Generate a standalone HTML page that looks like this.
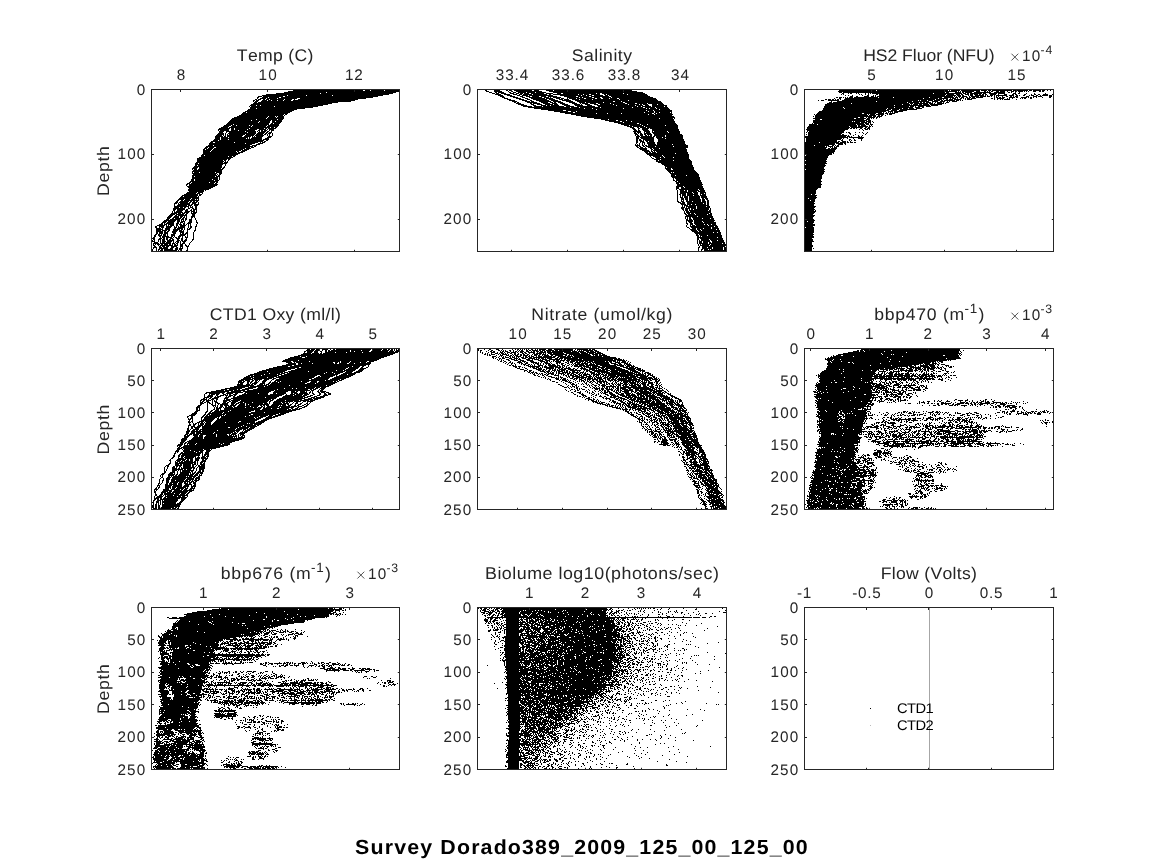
<!DOCTYPE html>
<html lang="en"><head><meta charset="utf-8"><title>Survey Dorado389_2009_125_00_125_00</title>
<style>
html,body{margin:0;padding:0;background:#fff;}
body{width:1164px;height:864px;overflow:hidden;font-family:"Liberation Sans",sans-serif;}
svg{display:block;position:absolute;left:0;top:0;will-change:transform;}
text{font-kerning:none;text-rendering:geometricPrecision;white-space:pre;}
</style></head><body>
<svg width="1164" height="864" viewBox="0 0 1164 864" font-family="'Liberation Sans', sans-serif">
<rect width="1164" height="864" fill="#fff"/>
<g id="p1">
<path transform="translate(0,.5)" d="M298 89h37m2 0h21m1 0h6m3 0h17m2 0h11m1 0h1M293 90h70m2 0h5m1 0h13m1 0h15M288 91h112M284 92h42m1 0h69M276 93h44m1 0h72M266 94h123M262 95h25m1 0h18m1 0h25m1 0h50M258 96h4m1 0h20m2 0h93M257 97h2m3 0h6m1 0h10m2 0h92M257 98h1m2 0h6m1 0h10m1 0h19m3 0h66M255 99h2m1 0h3m2 0h2m1 0h3m1 0h14m1 0h7m2 0h1m3 0h60M253 100h2m1 0h3m3 0h5m1 0h3m1 0h5m1 0h5m1 0h7m2 0h62M253 101h1m1 0h3m3 0h90M254 102h3m1 0h80M253 103h79M251 104h77M250 105h6m1 0h3m1 0h62M249 106h1m1 0h23m1 0h43M250 107h63M250 108h6m1 0h48M248 109h49M247 110h47M245 111h47M243 112h3m1 0h43M242 113h46M241 114h43m1 0h2M239 115h44m1 0h1M237 116h31m1 0h6m1 0h1m1 0h6M234 117h33m1 0h8m1 0h7M232 118h34m1 0h17M231 119h25m1 0h20m1 0h5M230 120h21m1 0h19m1 0h10M229 121h30m1 0h10m2 0h3m1 0h6M228 122h30m1 0h11m2 0h9M227 123h42m2 0h2m1 0h6M226 124h7m1 0h35m1 0h9M224 125h7m1 0h4m1 0h12m1 0h2m1 0h14m1 0h11M223 126h6m2 0h20m1 0h14m1 0h11M221 127h7m1 0h41m1 0h3m1 0h2M219 128h11m1 0h3m1 0h14m1 0h14m1 0h2m1 0h8M218 129h11m2 0h3m1 0h12m1 0h9m2 0h7m1 0h1m1 0h5M218 130h1m1 0h9m2 0h7m1 0h16m3 0h2m1 0h2m1 0h3m2 0h1m1 0h3M219 131h5m2 0h19m1 0h10m1 0h1m1 0h1m1 0h5m1 0h2m2 0h1M219 132h4m3 0h1m2 0h18m1 0h8m2 0h7m1 0h2m1 0h3M218 133h6m1 0h1m2 0h28m1 0h7m1 0h2m1 0h3m1 0h1M217 134h7m1 0h1m1 0h1m1 0h16m1 0h9m1 0h7m1 0h2m1 0h1m1 0h1m2 0h1M216 135h6m1 0h1m1 0h1m1 0h16m2 0h9m1 0h9m3 0h1m1 0h1m2 0h1M215 136h8m1 0h2m1 0h15m2 0h7m1 0h1m1 0h1m1 0h7m5 0h4M215 137h5m1 0h7m1 0h19m1 0h1m2 0h10m5 0h4M215 138h5m1 0h25m1 0h1m1 0h1m1 0h11m3 0h4M214 139h6m1 0h7m1 0h33m1 0h6M213 140h5m1 0h45m2 0h2M211 141h52m1 0h2M210 142h3m2 0h19m1 0h23m2 0h1m1 0h3M209 143h36m1 0h9m3 0h5M209 144h43m4 0h4M208 145h5m1 0h36m2 0h5M206 146h47m1 0h2M205 147h3m1 0h5m2 0h34m1 0h3M204 148h3m1 0h5m1 0h31m1 0h5M203 149h2m1 0h6m1 0h30m1 0h5M203 150h8m1 0h29m1 0h5M203 151h7m1 0h25m1 0h2m2 0h4M203 152h34m1 0h5M203 153h37M202 154h36M201 155h3m1 0h31M201 156h27m1 0h3m1 0h2M199 157h34M197 158h34M197 159h30m1 0h2M197 160h26m1 0h2m2 0h1M197 161h27m1 0h1m1 0h1M196 162h27m1 0h4M195 163h3m1 0h28M195 164h28m2 0h1M195 165h2m1 0h24m3 0h1M194 166h28m2 0h1M193 167h5m1 0h23m1 0h2M192 168h5m2 0h22m1 0h2M192 169h1m1 0h3m1 0h25M193 170h29M192 171h30M192 172h1m1 0h5m1 0h15m1 0h6M192 173h25m2 0h3M193 174h23m1 0h1m1 0h2M192 175h25m1 0h2M192 176h2m1 0h20m1 0h4M192 177h26m1 0h1M192 178h26m1 0h1M191 179h3m1 0h17m1 0h5m1 0h1M191 180h3m1 0h19m1 0h4M190 181h28M189 182h2m1 0h17m1 0h5m1 0h2M187 183h3m1 0h23m1 0h2M186 184h2m1 0h29M186 185h1m2 0h28M187 186h28M188 187h25M189 188h22M188 189h21M188 190h16m1 0h1M189 191h15M187 192h10m1 0h5M186 193h10m1 0h3m2 0h1M184 194h14m1 0h3M182 195h16m1 0h2M181 196h2m1 0h13m1 0h1M180 197h19M179 198h12m1 0h7M178 199h6m1 0h5m1 0h4m1 0h1m1 0h1M177 200h2m2 0h2m1 0h15M176 201h2m2 0h9m1 0h2m1 0h2m1 0h2M175 202h3m1 0h9m1 0h2m1 0h5m1 0h1M174 203h3m1 0h1m1 0h10m2 0h4m2 0h1M174 204h1m3 0h12m1 0h2m1 0h5M174 205h1m2 0h10m1 0h4m2 0h4M174 206h15m1 0h1m1 0h1m2 0h2M174 207h5m1 0h3m1 0h2m2 0h1m1 0h3m2 0h2M173 208h12m3 0h2m2 0h2m1 0h2M173 209h3m1 0h8m1 0h2m3 0h1m1 0h4M173 210h2m2 0h6m2 0h3m2 0h2m1 0h2m1 0h1M172 211h1m1 0h1m1 0h6m3 0h5m1 0h4m1 0h1M172 212h1m1 0h9m1 0h5m2 0h1m1 0h4M171 213h6m1 0h3m1 0h3m1 0h2m3 0h5M170 214h5m1 0h8m1 0h2m5 0h3M169 215h4m2 0h2m1 0h9m5 0h3M168 216h4m2 0h5m1 0h3m1 0h1m1 0h1m4 0h4M167 217h4m2 0h6m1 0h2m1 0h2m1 0h1m4 0h2m1 0h1M167 218h3m2 0h2m1 0h6m1 0h2m1 0h2m4 0h1m3 0h1M166 219h3m1 0h10m1 0h3m1 0h2m2 0h3m3 0h1M164 220h12m1 0h3m1 0h1m1 0h1m1 0h1m3 0h3m4 0h1M163 221h4m1 0h7m2 0h3m1 0h4m4 0h3m4 0h1M162 222h4m1 0h7m3 0h2m1 0h3m1 0h1m3 0h4m4 0h2M161 223h2m1 0h1m1 0h8m2 0h3m1 0h1m2 0h2m2 0h4m6 0h1M159 224h4m1 0h3m1 0h6m2 0h2m1 0h3m1 0h2m1 0h1m1 0h1m1 0h1m5 0h1M157 225h8m1 0h1m1 0h1m1 0h4m2 0h2m2 0h6m2 0h1m1 0h1m5 0h1M155 226h2m2 0h5m2 0h6m2 0h1m1 0h1m1 0h1m1 0h5m3 0h1m1 0h2m3 0h2M155 227h2m2 0h1m1 0h3m2 0h5m3 0h3m1 0h7m3 0h1m1 0h2m3 0h1M156 228h5m1 0h1m2 0h5m4 0h2m1 0h6m1 0h1m2 0h1m1 0h2m4 0h1M156 229h7m2 0h5m3 0h7m1 0h2m1 0h1m2 0h3m5 0h1M156 230h5m1 0h5m1 0h2m3 0h5m1 0h3m1 0h1m3 0h1m6 0h2M156 231h7m1 0h2m1 0h2m3 0h5m2 0h5m3 0h1m6 0h1M156 232h2m1 0h4m1 0h4m4 0h4m4 0h4m2 0h2m5 0h1M156 233h2m1 0h4m1 0h4m5 0h3m4 0h1m1 0h2m1 0h3m5 0h1M155 234h2m1 0h2m1 0h1m1 0h3m1 0h1m3 0h4m5 0h6m1 0h1m5 0h1M154 235h2m2 0h4m1 0h3m1 0h1m3 0h4m4 0h6m2 0h1m5 0h1M154 236h2m3 0h2m1 0h7m2 0h2m1 0h1m3 0h3m1 0h1m2 0h1m1 0h1m5 0h1M153 237h2m5 0h1m1 0h3m1 0h6m1 0h1m1 0h2m1 0h2m2 0h1m2 0h3m5 0h1M152 238h3m4 0h3m1 0h2m1 0h2m2 0h3m3 0h4m1 0h2m3 0h1m6 0h1M151 239h1m1 0h2m3 0h3m1 0h3m1 0h2m1 0h2m1 0h2m3 0h2m2 0h2m2 0h2m5 0h2M151 240h2m1 0h1m3 0h1m1 0h1m1 0h3m2 0h7m3 0h3m1 0h2m1 0h3m5 0h1M152 241h3m3 0h1m1 0h1m1 0h4m1 0h5m1 0h1m2 0h3m1 0h1m1 0h4m5 0h1M154 242h4m2 0h1m1 0h3m1 0h5m2 0h1m1 0h1m1 0h2m1 0h1m2 0h2m5 0h1M153 243h6m1 0h11m1 0h3m1 0h2m2 0h1m1 0h3m4 0h1M153 244h1m1 0h1m1 0h3m1 0h2m1 0h4m1 0h2m1 0h1m1 0h2m1 0h1m2 0h3m2 0h1m3 0h1M153 245h2m3 0h1m1 0h13m1 0h4m2 0h3m2 0h2m1 0h1M154 246h2m3 0h2m1 0h3m1 0h3m2 0h6m3 0h3m3 0h3M153 247h4m2 0h3m1 0h5m3 0h3m2 0h2m2 0h1m1 0h1m4 0h1M153 248h1m2 0h1m2 0h9m2 0h3m2 0h3m1 0h4m4 0h1M152 249h1m3 0h1m1 0h2m1 0h2m1 0h9m2 0h3m1 0h3m5 0h1M152 250h1m3 0h1m1 0h1m1 0h3m1 0h13m1 0h1m1 0h2m4 0h2M152 251h1m3 0h2m2 0h3m1 0h5m1 0h6m2 0h1m1 0h2m4 0h2" stroke="#000" stroke-width="1" fill="none" shape-rendering="crispEdges"/>
<rect x="151.5" y="89.5" width="248" height="162" fill="none" stroke="#262626" stroke-width="1"/>
<path d="M180.5 90v2M180.5 251v-1.2M267.5 90v2M267.5 251v-1.2M354.5 90v2M354.5 251v-1.2M152 154.5h2M399 154.5h-1.2M152 219.5h2M399 219.5h-1.2" stroke="#262626" stroke-width="1" fill="none"/>
<text transform="translate(136.68 95.00)" font-size="15.27" fill="#262626">0</text>
<text transform="translate(117.55 159.00)" font-size="15.27" fill="#262626" letter-spacing="1.134">100</text>
<text transform="translate(117.40 224.00)" font-size="15.27" fill="#262626" letter-spacing="1.211">200</text>
<text transform="translate(176.75 80.00)" font-size="15.27" fill="#262626">8</text>
<text transform="translate(258.44 80.00)" font-size="15.27" fill="#262626" letter-spacing="1.218">10</text>
<text transform="translate(344.94 80.00)" font-size="15.27" fill="#262626" letter-spacing="0.884">12</text>
<text transform="translate(236.85 61.00) scale(1.05 1)" font-size="16.80" fill="#262626" letter-spacing="0.282">Temp (C)</text>
<text transform="rotate(-90 109.30 196.13) translate(109.47 196.13) scale(1.05 1)" font-size="16.80" fill="#262626" letter-spacing="0.658">Depth</text>
</g>
<g id="p2">
<path transform="translate(0,.5)" d="M485 89h1m8 0h4m7 0h1m3 0h1m4 0h1m3 0h7m1 0h2m5 0h2m1 0h3m6 0h4m5 0h2m1 0h4m1 0h7m2 0h2m2 0h2m1 0h1m1 0h3m2 0h8m1 0h3m1 0h10m3 0h8m2 0h7M485 90h2m7 0h6m6 0h2m1 0h2m3 0h18m2 0h5m7 0h7m1 0h78M486 91h3m5 0h8m6 0h1m2 0h2m3 0h26m7 0h88M489 92h3m3 0h2m1 0h6m5 0h2m2 0h3m2 0h8m1 0h8m1 0h10m7 0h90M492 93h3m1 0h3m2 0h5m4 0h4m2 0h3m1 0h3m1 0h5m2 0h13m2 0h7m4 0h4m2 0h33m1 0h3m2 0h21m1 0h21M495 94h6m3 0h6m3 0h4m2 0h3m1 0h9m1 0h14m2 0h2m2 0h25m1 0h4m1 0h5m2 0h9m4 0h2m1 0h20m1 0h19M498 95h5m4 0h5m5 0h3m2 0h6m1 0h24m7 0h21m1 0h4m1 0h5m2 0h9m2 0h3m1 0h39M500 96h4m6 0h5m5 0h3m3 0h4m2 0h7m2 0h5m2 0h9m7 0h12m2 0h11m2 0h18m2 0h39M502 97h3m8 0h5m4 0h3m4 0h13m2 0h5m1 0h1m2 0h8m6 0h12m1 0h2m1 0h9m2 0h6m2 0h9m1 0h41M504 98h4m8 0h5m4 0h3m3 0h14m1 0h7m3 0h4m1 0h3m3 0h1m1 0h7m1 0h7m2 0h9m2 0h4m2 0h6m1 0h7m2 0h37M507 99h4m8 0h5m3 0h3m3 0h14m2 0h6m4 0h4m1 0h5m3 0h7m1 0h12m1 0h26m1 0h37M509 100h6m7 0h5m3 0h2m4 0h13m2 0h7m4 0h9m4 0h53m1 0h29M512 101h5m8 0h5m1 0h3m5 0h12m2 0h8m5 0h7m4 0h36m2 0h6m1 0h39M514 102h2m1 0h2m8 0h10m4 0h7m2 0h3m1 0h2m2 0h5m6 0h6m4 0h6m1 0h17m1 0h19m2 0h37M516 103h5m9 0h2m1 0h7m3 0h7m2 0h5m3 0h5m7 0h5m3 0h1m1 0h6m2 0h6m2 0h12m1 0h14m2 0h8m2 0h10m1 0h15M518 104h6m7 0h3m3 0h5m3 0h8m1 0h4m4 0h6m6 0h6m1 0h1m3 0h5m4 0h4m2 0h13m1 0h14m1 0h10m1 0h2m1 0h5m4 0h5m1 0h6M521 105h6m6 0h3m5 0h5m1 0h3m1 0h8m5 0h6m5 0h8m4 0h5m5 0h19m1 0h18m1 0h7m2 0h4m3 0h15M523 106h9m2 0h8m1 0h21m2 0h8m3 0h18m3 0h39m1 0h3m1 0h9m1 0h12m1 0h2M528 107h42m1 0h8m1 0h20m1 0h31m1 0h10m2 0h10m1 0h12M534 108h50m1 0h7m1 0h30m1 0h22m1 0h2m1 0h6m1 0h12M541 109h55m1 0h62m1 0h10M548 110h15m3 0h80m1 0h6m1 0h18M554 111h14m3 0h5m1 0h71m1 0h5m1 0h17M560 112h13m2 0h69m1 0h9m1 0h4m1 0h10m1 0h1M565 113h31m1 0h10m1 0h13m1 0h30m2 0h2m1 0h15M571 114h77m1 0h5m1 0h18M576 115h96M581 116h93M587 117h88M594 118h65m1 0h13m1 0h1M601 119h7m1 0h65M605 120h11m2 0h8m1 0h47M609 121h11m2 0h9m1 0h43M614 122h9m1 0h51M618 123h19m2 0h37M621 124h19m1 0h6m1 0h29M624 125h5m1 0h12m1 0h22m1 0h12M627 126h5m1 0h11m1 0h33M630 127h4m3 0h2m1 0h6m1 0h31M632 128h3m3 0h2m2 0h7m1 0h28M633 129h3m2 0h1m3 0h6m4 0h27M634 130h3m1 0h2m3 0h6m3 0h27M633 131h8m3 0h6m2 0h1m1 0h13m1 0h12M634 132h2m1 0h4m3 0h1m1 0h4m2 0h16m1 0h11M634 133h3m1 0h1m1 0h2m2 0h7m2 0h27M635 134h3m2 0h3m1 0h2m1 0h5m2 0h28M635 135h1m1 0h2m1 0h3m2 0h2m1 0h1m1 0h2m2 0h11m1 0h17M636 136h4m1 0h11m1 0h2m1 0h9m1 0h17M636 137h3m1 0h14m2 0h6m1 0h20M636 138h3m2 0h13m3 0h8m1 0h17M636 139h2m1 0h2m2 0h11m4 0h26M636 140h2m1 0h3m1 0h1m1 0h9m4 0h26M636 141h2m2 0h4m2 0h2m1 0h5m4 0h27M636 142h2m2 0h1m1 0h3m2 0h8m2 0h28M636 143h1m2 0h1m2 0h1m1 0h1m2 0h8m2 0h28M635 144h1m1 0h1m1 0h1m2 0h1m1 0h1m3 0h8m1 0h15m1 0h13M635 145h5m2 0h2m1 0h2m1 0h40M636 146h2m1 0h2m2 0h2m1 0h9m1 0h17m1 0h14M637 147h2m1 0h3m2 0h1m2 0h40M639 148h8m3 0h2m1 0h6m1 0h26M640 149h7m4 0h2m1 0h33M642 150h7m2 0h1m1 0h34M644 151h6m1 0h2m1 0h1m1 0h31M645 152h3m1 0h2m1 0h4m1 0h31M646 153h29m1 0h12M647 154h42M649 155h13m1 0h26M650 156h1m2 0h10m1 0h25M651 157h1m3 0h5m1 0h3m1 0h8m1 0h15M652 158h2m2 0h33M654 159h6m1 0h29M656 160h2m1 0h14m1 0h17M656 161h36M658 162h34M661 163h31M662 164h30M664 165h29M665 166h28M665 167h1m1 0h27M665 168h6m1 0h22M666 169h5m2 0h21M667 170h28M668 171h28M669 172h2m1 0h1m1 0h23M670 173h28M671 174h28M671 175h4m1 0h10m1 0h12M671 176h28M672 177h28M673 178h1m1 0h25M673 179h1m2 0h24M673 180h2m1 0h25M675 181h2m1 0h23M676 182h26M676 183h3m1 0h22M677 184h26M677 185h25M676 186h7m1 0h19M676 187h3m2 0h3m1 0h18M676 188h3m2 0h23M676 189h1m2 0h19m1 0h5M677 190h1m2 0h4m1 0h2m1 0h11m1 0h5M677 191h1m2 0h7m1 0h9m1 0h7M677 192h1m2 0h12m1 0h5m2 0h6M677 193h1m2 0h6m1 0h6m1 0h4m2 0h4m1 0h1M677 194h1m1 0h2m1 0h4m1 0h11m2 0h1m1 0h4M677 195h1m2 0h1m1 0h4m1 0h6m1 0h5m1 0h6M677 196h1m2 0h1m1 0h1m1 0h4m1 0h11m1 0h6M677 197h1m2 0h3m1 0h4m1 0h11m1 0h6M677 198h1m3 0h3m1 0h3m1 0h11m2 0h2m1 0h3M677 199h1m3 0h3m1 0h3m1 0h12m1 0h3m1 0h2M677 200h1m3 0h1m1 0h1m2 0h2m1 0h12m1 0h3m2 0h2M677 201h2m2 0h3m2 0h6m1 0h8m1 0h4m1 0h2M678 202h3m1 0h3m2 0h19m1 0h2M680 203h5m2 0h16m1 0h2m1 0h2M681 204h5m1 0h4m1 0h3m1 0h10m1 0h2M682 205h1m1 0h4m1 0h20M682 206h1m1 0h1m1 0h10m1 0h9m1 0h3M681 207h4m1 0h1m1 0h8m1 0h13M681 208h3m1 0h5m1 0h5m1 0h12m1 0h1M682 209h2m1 0h3m1 0h1m1 0h2m1 0h15m1 0h1M683 210h1m1 0h3m1 0h19m1 0h2M684 211h1m1 0h3m1 0h21M684 212h1m1 0h25M684 213h2m1 0h3m1 0h3m1 0h14m1 0h2M685 214h2m1 0h7m1 0h11m1 0h4M686 215h26M685 216h12m1 0h15M685 217h1m1 0h1m1 0h2m1 0h21M685 218h1m1 0h1m1 0h2m2 0h9m1 0h7m1 0h3M686 219h2m1 0h3m1 0h21M686 220h7m1 0h21M686 221h1m1 0h5m1 0h8m1 0h11M686 222h1m2 0h3m2 0h9m1 0h12M686 223h2m2 0h3m1 0h22M687 224h1m2 0h3m2 0h9m1 0h2m1 0h3m1 0h4M686 225h1m3 0h1m1 0h3m1 0h12m1 0h8M686 226h1m3 0h24m1 0h3M687 227h2m2 0h20m1 0h6M689 228h1m2 0h4m1 0h6m1 0h7m1 0h7M690 229h6m1 0h3m1 0h15m1 0h2M691 230h6m1 0h3m1 0h18M692 231h6m1 0h21M694 232h19m1 0h3m1 0h3M695 233h26M696 234h2m1 0h22M696 235h3m1 0h7m1 0h14M697 236h2m1 0h1m1 0h20M697 237h20m1 0h4M697 238h2m1 0h23M697 239h2m2 0h8m1 0h13M697 240h1m1 0h1m1 0h9m1 0h6m1 0h6M697 241h1m1 0h3m1 0h7m2 0h12M697 242h1m1 0h3m1 0h5m1 0h2m1 0h13M697 243h1m1 0h9m1 0h13m1 0h2M698 244h1m1 0h1m1 0h8m1 0h15M698 245h1m1 0h9m1 0h17M699 246h1m2 0h23m1 0h1M698 247h2m2 0h5m1 0h4m1 0h10m1 0h3M698 248h1m3 0h10m1 0h10m1 0h3M698 249h1m2 0h2m1 0h4m1 0h1m1 0h12m1 0h2M698 250h1m2 0h1m2 0h22M698 251h1m3 0h1m1 0h2m1 0h3m1 0h10m1 0h4" stroke="#000" stroke-width="1" fill="none" shape-rendering="crispEdges"/>
<rect x="477.5" y="89.5" width="249" height="162" fill="none" stroke="#262626" stroke-width="1"/>
<path d="M511.5 90v2M511.5 251v-1.2M567.5 90v2M567.5 251v-1.2M623.5 90v2M623.5 251v-1.2M679.5 90v2M679.5 251v-1.2M478 154.5h2M726 154.5h-1.2M478 219.5h2M726 219.5h-1.2" stroke="#262626" stroke-width="1" fill="none"/>
<text transform="translate(462.68 95.00)" font-size="15.27" fill="#262626">0</text>
<text transform="translate(443.55 159.00)" font-size="15.27" fill="#262626" letter-spacing="1.134">100</text>
<text transform="translate(443.40 224.00)" font-size="15.27" fill="#262626" letter-spacing="1.211">200</text>
<text transform="translate(495.76 80.00)" font-size="15.27" fill="#262626" letter-spacing="0.908">33.4</text>
<text transform="translate(551.76 80.00)" font-size="15.27" fill="#262626" letter-spacing="0.948">33.6</text>
<text transform="translate(607.76 80.00)" font-size="15.27" fill="#262626" letter-spacing="0.919">33.8</text>
<text transform="translate(670.92 80.00)" font-size="15.27" fill="#262626" letter-spacing="1.146">34</text>
<text transform="translate(571.77 61.00) scale(1.05 1)" font-size="16.80" fill="#262626" letter-spacing="0.467">Salinity</text>
</g>
<g id="p3">
<path transform="translate(0,.5)" d="M840 89h108m1 0h7m1 0h2m2 0h24m1 0h5m3 0h4m2 0h1m5 0h1m2 0h1M839 90h37m1 0h71m1 0h1m1 0h9m1 0h19m1 0h6m1 0h3m1 0h20m1 0h15m1 0h3m1 0h8m1 0h3m2 0h1m2 0h1M838 91h119m1 0h1m1 0h1m1 0h12m2 0h4m4 0h2m1 0h1m1 0h1m1 0h2m3 0h3m1 0h5m2 0h1m3 0h3m1 0h2m1 0h5m1 0h1m1 0h1m1 0h1m4 0h3m3 0h2m1 0h2M839 92h3m1 0h102m1 0h3m6 0h6m1 0h2m1 0h7m2 0h17m3 0h11m3 0h2m1 0h1m3 0h1m3 0h1M842 93h2m4 0h1m1 0h2m4 0h1m1 0h1m6 0h1m2 0h1m1 0h1m1 0h61m1 0h28m1 0h3m1 0h2m1 0h12m1 0h3m3 0h8m1 0h7m8 0h3m2 0h2m6 0h1m7 0h1m10 0h1M841 94h1m1 0h1m15 0h1m1 0h1m3 0h1m2 0h1m7 0h2m1 0h67m1 0h7m2 0h4m1 0h2m2 0h4m1 0h3m1 0h4m1 0h2m1 0h2m1 0h2m3 0h6m2 0h1m5 0h3m5 0h2m1 0h2m7 0h2m5 0h1m2 0h2m2 0h2m3 0h5m4 0h1M845 95h1m2 0h1m3 0h1m9 0h1m4 0h2m4 0h1m1 0h1m3 0h66m1 0h10m1 0h4m1 0h2m4 0h1m1 0h3m2 0h9m1 0h1m1 0h1m2 0h3m1 0h1m1 0h11m2 0h5m2 0h2m1 0h1m3 0h2m4 0h1m1 0h3m2 0h2m2 0h1m1 0h6m1 0h3M850 96h3m3 0h2m6 0h5m2 0h3m1 0h1m1 0h76m1 0h1m1 0h1m1 0h3m1 0h5m2 0h1m1 0h8m1 0h6m1 0h3m1 0h1m2 0h1m1 0h1m1 0h1m3 0h1m3 0h2m2 0h2m1 0h1m1 0h3m8 0h3m4 0h4m1 0h4m7 0h3m1 0h1M836 97h2m1 0h3m1 0h1m1 0h1m1 0h1m1 0h4m1 0h24m1 0h14m1 0h35m1 0h12m2 0h10m1 0h3m1 0h1m1 0h3m2 0h2m1 0h2m1 0h3m1 0h7m11 0h1m1 0h2m1 0h2m1 0h3m4 0h6m1 0h2m3 0h6m1 0h1m1 0h2m1 0h1m2 0h1m5 0h1m6 0h2M834 98h1m4 0h2m4 0h78m1 0h14m1 0h9m2 0h1m1 0h4m1 0h1m2 0h2m1 0h1m1 0h1m1 0h3m1 0h5m15 0h2m1 0h1m2 0h7m3 0h1m1 0h1m2 0h1m7 0h1m1 0h1m1 0h2m4 0h2M825 99h2m1 0h3m1 0h2m1 0h1m1 0h2m1 0h1m3 0h91m1 0h6m1 0h1m2 0h2m1 0h4m1 0h7m4 0h1m1 0h5m22 0h1m2 0h1m2 0h1m1 0h1m1 0h6m6 0h1M818 100h1m2 0h3m4 0h11m3 0h76m1 0h1m1 0h6m1 0h5m1 0h6m1 0h2m1 0h11m1 0h3m1 0h1m1 0h1M831 101h1m5 0h39m1 0h35m1 0h16m3 0h6m2 0h5m2 0h1m1 0h1m2 0h5M829 102h3m1 0h74m1 0h11m1 0h2m1 0h2m1 0h5m1 0h1m2 0h1m1 0h5m1 0h1m2 0h3M827 103h24m1 0h57m1 0h3m1 0h14m1 0h4m1 0h1m2 0h7m1 0h1M825 104h77m1 0h7m1 0h1m1 0h5m1 0h3m1 0h6m1 0h12M825 105h69m1 0h35m1 0h7M824 106h85m1 0h4m1 0h1m2 0h6m2 0h5M824 107h19m1 0h50m1 0h18m2 0h5m2 0h2M823 108h21m1 0h42m1 0h14m1 0h5m1 0h5m2 0h6M823 109h63m1 0h4m1 0h7m1 0h17M822 110h67m2 0h6m2 0h8M819 111h67m2 0h5m1 0h9M818 112h64m1 0h1m2 0h1m1 0h1m1 0h1m1 0h1m1 0h4M817 113h45m2 0h12m2 0h6m1 0h3m1 0h6M814 114h1m1 0h51m1 0h1m1 0h5m1 0h8m3 0h1m1 0h3M815 115h53m1 0h7m2 0h2m1 0h2m2 0h1M813 116h1m1 0h57m1 0h3m1 0h5M815 117h43m2 0h4m2 0h1m1 0h7m1 0h2m1 0h1M813 118h41m2 0h10m1 0h3m1 0h1m1 0h1m2 0h1M815 119h5m2 0h42m2 0h4M813 120h54m1 0h3M813 121h39m1 0h1m1 0h10m1 0h5m1 0h1M813 122h47m1 0h6m1 0h3m2 0h1M812 123h1m1 0h50m1 0h4m1 0h1M809 124h8m1 0h38m1 0h8m1 0h3m1 0h3M809 125h48m1 0h2m1 0h5m3 0h1m1 0h1M808 126h41m1 0h7m1 0h10m1 0h2m1 0h1M807 127h43m1 0h12m2 0h2m1 0h2M807 128h42m1 0h2m1 0h2m1 0h1m3 0h2m2 0h2m1 0h3M806 129h42m11 0h1m2 0h1m2 0h3m1 0h1M807 130h38m18 0h1M807 131h1m1 0h35M806 132h1m1 0h36m2 0h1m1 0h2m5 0h1m3 0h1m2 0h1m4 0h1M808 133h34m7 0h2m12 0h1m2 0h1M806 134h1m1 0h33m1 0h2m6 0h1m4 0h1m9 0h1M808 135h39m1 0h1m4 0h1m4 0h1m3 0h1M805 136h41m1 0h3m1 0h1m6 0h2m1 0h1M805 137h43m1 0h15M806 138h36m1 0h1m3 0h1m5 0h1m4 0h5M806 139h35m1 0h1m6 0h2m3 0h1m6 0h1M806 140h31m4 0h2m6 0h1m1 0h1m2 0h2m5 0h1M806 141h31m1 0h2m2 0h4m1 0h1m2 0h1M804 142h15m1 0h19m1 0h6m1 0h2m1 0h3m1 0h2M804 143h31m1 0h7m1 0h2M805 144h30m3 0h5m2 0h1M804 145h10m1 0h14m3 0h2m1 0h1m1 0h2M804 146h21m1 0h1m1 0h5m1 0h1m1 0h3M805 147h22m3 0h1m1 0h1m1 0h3M804 148h22m2 0h2m1 0h6M805 149h31M805 150h30M804 151h31M804 152h30M804 153h28m1 0h1M804 154h28M806 155h23M804 156h24M804 157h24M804 158h23M805 159h22M804 160h1m1 0h20M805 161h22M805 162h21M805 163h22M806 164h19M805 165h21M804 166h21M805 167h19M804 168h20M804 169h1m1 0h19M805 170h19M804 171h21M804 172h20M804 173h20M805 174h18M804 175h18M804 176h18M804 177h18M804 178h18M804 179h17M805 180h16M805 181h17M804 182h17M804 183h17M805 184h17M805 185h16M804 186h17M804 187h17M804 188h14M804 189h13M804 190h12M804 191h12M804 192h12M805 193h11M804 194h7m1 0h3M805 195h12M804 196h12M804 197h13M804 198h4m1 0h7M804 199h11M804 200h6m1 0h4M805 201h10M804 202h10M804 203h11M804 204h10M804 205h10M804 206h12M804 207h11M804 208h10M804 209h11M804 210h10m1 0h1M805 211h11M804 212h11M804 213h10M804 214h9M804 215h11M805 216h9M804 217h9M804 218h9M804 219h10M804 220h11M804 221h3m1 0h6M805 222h9M805 223h8M804 224h11M805 225h10M804 226h9M804 227h1m1 0h8M804 228h10M804 229h10M804 230h10M804 231h10M805 232h9M804 233h9M804 234h10M804 235h9M805 236h9M804 237h10M805 238h7M804 239h9M804 240h9M804 241h10M804 242h8M804 243h8M804 244h8M804 245h9M804 246h9M805 247h7M804 248h8m1 0h1M804 249h8M804 250h8M804 251h10" stroke="#000" stroke-width="1" fill="none" shape-rendering="crispEdges"/>
<rect x="804.5" y="89.5" width="249" height="162" fill="none" stroke="#262626" stroke-width="1"/>
<path d="M871.5 90v2M871.5 251v-1.2M944.5 90v2M944.5 251v-1.2M1016.5 90v2M1016.5 251v-1.2M805 154.5h2M1053 154.5h-1.2M805 219.5h2M1053 219.5h-1.2" stroke="#262626" stroke-width="1" fill="none"/>
<text transform="translate(789.68 95.00)" font-size="15.27" fill="#262626">0</text>
<text transform="translate(770.55 159.00)" font-size="15.27" fill="#262626" letter-spacing="1.134">100</text>
<text transform="translate(770.40 224.00)" font-size="15.27" fill="#262626" letter-spacing="1.211">200</text>
<text transform="translate(867.19 80.00)" font-size="15.27" fill="#262626">5</text>
<text transform="translate(934.94 80.00)" font-size="15.27" fill="#262626" letter-spacing="1.218">10</text>
<text transform="translate(1007.44 80.00)" font-size="15.27" fill="#262626" letter-spacing="0.947">15</text>
<text transform="translate(863.14 61.00) scale(1.05 1)" font-size="16.80" fill="#262626" letter-spacing="-0.049">HS2 Fluor (NFU)</text>
<text transform="translate(1040.58 53.70)" font-size="12.22" fill="#262626" letter-spacing="0.744">-4</text>
<text transform="translate(1021.93 61.00)" font-size="15.27" fill="#262626" letter-spacing="1.218">10</text>
<path d="M1011.45 53.70L1018.25 60.50M1011.45 60.50L1018.25 53.70" stroke="#262626" stroke-width="0.8" fill="none"/>
</g>
<g id="p4">
<path transform="translate(0,.5)" d="M307 348h3m2 0h7m5 0h1m1 0h3m1 0h6m1 0h9m1 0h13m1 0h8m1 0h3m1 0h10m1 0h3m1 0h2m1 0h4m1 0h1m1 0h1M307 349h3m1 0h4m1 0h3m3 0h6m2 0h1m2 0h2m1 0h35m2 0h9m1 0h4m1 0h2m1 0h2m1 0h1m1 0h1m1 0h2M306 350h8m1 0h5m2 0h1m2 0h2m1 0h2m1 0h19m1 0h10m1 0h8m2 0h9m1 0h7m1 0h3m1 0h1m1 0h4M304 351h2m1 0h6m1 0h4m2 0h2m3 0h2m1 0h22m1 0h3m1 0h14m2 0h17m1 0h5m1 0h4M304 352h1m2 0h5m2 0h4m3 0h1m3 0h10m1 0h10m1 0h15m1 0h35M303 353h8m1 0h7m1 0h2m1 0h72M301 354h92M298 355h92M294 356h6m1 0h5m1 0h80M290 357h12m3 0h79M288 358h93M285 359h94M283 360h15m1 0h78M282 361h9m2 0h16m1 0h30m1 0h9m1 0h16m2 0h5M286 362h6m2 0h1m1 0h37m2 0h3m1 0h1m1 0h8m1 0h10m1 0h5m1 0h4M288 363h8m2 0h3m1 0h10m1 0h21m1 0h2m2 0h8m2 0h5m1 0h16M286 364h10m2 0h72M282 365h10m2 0h72m2 0h1M277 366h11m2 0h62m1 0h7m2 0h2m4 0h1M273 367h26m2 0h47m1 0h10m2 0h2m3 0h2M269 368h26m2 0h49m2 0h10m2 0h6M266 369h25m4 0h50m1 0h10m3 0h5M262 370h25m4 0h45m1 0h6m1 0h11m3 0h5M259 371h8m1 0h17m3 0h20m1 0h36m1 0h7m3 0h6M257 372h26m1 0h4m1 0h37m1 0h5m1 0h10m2 0h7m2 0h6M254 373h15m1 0h10m1 0h4m2 0h37m1 0h9m1 0h5m3 0h13M250 374h14m1 0h12m1 0h4m2 0h54m3 0h6m1 0h7M248 375h5m1 0h7m1 0h17m2 0h36m3 0h15m1 0h1m2 0h14M246 376h4m1 0h26m1 0h37m3 0h2m1 0h12m3 0h15M244 377h9m1 0h13m1 0h6m2 0h38m2 0h14m4 0h15M243 378h8m1 0h20m1 0h3m3 0h33m2 0h15m3 0h14M241 379h12m1 0h8m2 0h5m3 0h2m2 0h33m2 0h17m2 0h10m1 0h3M239 380h5m1 0h5m2 0h2m1 0h3m1 0h1m3 0h4m4 0h1m3 0h50m1 0h12m1 0h3M238 381h4m1 0h2m2 0h3m1 0h2m2 0h2m1 0h1m3 0h4m4 0h1m3 0h2m1 0h3m1 0h20m1 0h7m2 0h6m2 0h14m1 0h2m1 0h2M238 382h6m3 0h2m1 0h2m2 0h4m4 0h3m4 0h2m1 0h6m1 0h28m3 0h7m1 0h19M238 383h1m1 0h3m4 0h2m1 0h1m1 0h5m3 0h5m3 0h2m1 0h34m2 0h8m1 0h19M237 384h6m3 0h4m1 0h2m1 0h2m3 0h4m1 0h1m1 0h3m1 0h63M237 385h17m3 0h10m1 0h21m1 0h36m1 0h4M234 386h15m1 0h14m1 0h64M230 387h15m3 0h8m2 0h47m1 0h9m1 0h4m1 0h5M225 388h17m3 0h8m4 0h27m1 0h7m1 0h3m1 0h17m1 0h3m2 0h5M221 389h6m2 0h8m1 0h2m2 0h7m4 0h24m1 0h30m2 0h2m1 0h3m3 0h1m1 0h3M216 390h8m1 0h8m1 0h11m2 0h27m1 0h35m1 0h3m4 0h1m1 0h3M211 391h18m2 0h10m2 0h28m3 0h14m3 0h4m1 0h2m2 0h5m1 0h1m3 0h1m1 0h1m4 0h2m1 0h6M206 392h19m2 0h16m2 0h24m4 0h13m5 0h6m3 0h7m2 0h2m1 0h1m5 0h2m1 0h4m1 0h3M205 393h2m2 0h11m2 0h2m2 0h7m2 0h3m6 0h2m1 0h11m1 0h9m5 0h3m1 0h9m5 0h2m1 0h4m1 0h9m1 0h1m2 0h2m5 0h2m3 0h2m2 0h3M204 394h1m4 0h1m1 0h4m1 0h3m4 0h3m1 0h1m1 0h2m2 0h4m5 0h26m2 0h14m2 0h1m3 0h5m1 0h7m1 0h5m4 0h2m4 0h2m3 0h3m1 0h3M204 395h1m3 0h5m3 0h2m2 0h4m1 0h3m1 0h4m1 0h2m3 0h43m3 0h8m1 0h8m1 0h4m3 0h3m4 0h3m3 0h5M204 396h1m2 0h6m2 0h1m1 0h4m5 0h1m1 0h3m2 0h2m2 0h42m4 0h22m2 0h4m3 0h3m3 0h5M204 397h5m1 0h2m2 0h5m6 0h4m4 0h32m1 0h11m5 0h21m1 0h4m3 0h4m1 0h8M203 398h2m1 0h1m2 0h2m1 0h6m6 0h4m3 0h45m3 0h26m3 0h4m1 0h8M201 399h6m1 0h1m2 0h3m2 0h2m6 0h1m1 0h5m2 0h38m1 0h2m3 0h25m2 0h9m1 0h4M200 400h2m1 0h2m1 0h5m1 0h1m1 0h1m1 0h1m6 0h7m1 0h9m1 0h28m1 0h3m3 0h9m1 0h13m1 0h9m1 0h5M200 401h1m1 0h2m2 0h3m3 0h1m1 0h3m6 0h4m2 0h2m1 0h6m2 0h28m1 0h2m3 0h19m1 0h7m2 0h3m1 0h6M200 402h3m1 0h2m1 0h3m2 0h1m2 0h3m5 0h3m1 0h2m2 0h5m2 0h5m1 0h8m1 0h14m2 0h1m3 0h8m1 0h3m1 0h2m1 0h1m3 0h1m2 0h2m4 0h1m4 0h1m2 0h1M200 403h4m3 0h1m1 0h2m1 0h1m2 0h1m1 0h3m2 0h6m3 0h4m1 0h3m1 0h5m1 0h17m1 0h4m1 0h1m3 0h9m1 0h6m3 0h1m2 0h3m2 0h2m4 0h2m1 0h1M200 404h2m5 0h1m3 0h2m2 0h1m2 0h1m1 0h8m3 0h3m1 0h2m2 0h6m1 0h2m1 0h20m3 0h14m1 0h2m1 0h2m3 0h1m2 0h3m3 0h2m1 0h2M198 405h3m6 0h1m4 0h4m1 0h1m2 0h3m1 0h5m1 0h6m2 0h7m1 0h13m1 0h2m1 0h2m1 0h3m2 0h8m1 0h1m1 0h4m2 0h3m3 0h2m1 0h2m3 0h2m2 0h2M197 406h3m7 0h1m5 0h1m1 0h1m1 0h1m2 0h3m2 0h2m1 0h4m1 0h2m2 0h13m1 0h7m3 0h2m1 0h1m2 0h11m1 0h11m1 0h6m1 0h4m2 0h3M196 407h4m7 0h1m6 0h1m1 0h2m1 0h3m1 0h1m1 0h8m1 0h11m1 0h7m1 0h3m1 0h4m1 0h2m1 0h14m1 0h13m3 0h2m3 0h3M196 408h2m1 0h1m7 0h1m6 0h1m1 0h5m3 0h37m2 0h8m1 0h5m2 0h10m2 0h2m2 0h3m1 0h3M196 409h2m1 0h1m7 0h1m5 0h2m1 0h3m1 0h1m3 0h36m2 0h25m1 0h3m1 0h8M196 410h4m7 0h1m3 0h2m2 0h4m1 0h10m1 0h23m1 0h41M195 411h3m8 0h2m2 0h2m2 0h14m1 0h22m4 0h37M194 412h3m8 0h2m2 0h2m1 0h11m1 0h25m2 0h13m1 0h24M192 413h5m8 0h1m2 0h14m1 0h56m1 0h6M191 414h5m8 0h2m1 0h3m1 0h14m1 0h25m2 0h23m2 0h6M189 415h6m8 0h2m1 0h2m1 0h13m1 0h1m1 0h24m1 0h18m1 0h4m2 0h6M187 416h2m2 0h2m9 0h2m1 0h15m1 0h24m1 0h13m1 0h6m2 0h4m1 0h5M187 417h1m3 0h2m8 0h2m1 0h13m1 0h1m2 0h33m1 0h2m1 0h5m3 0h9M188 418h1m1 0h3m8 0h1m2 0h11m2 0h2m1 0h35m1 0h5m4 0h7M188 419h3m1 0h1m8 0h1m1 0h11m3 0h42m4 0h6M189 420h1m2 0h1m8 0h12m3 0h41m4 0h6M188 421h2m1 0h2m6 0h5m1 0h7m3 0h24m2 0h14m3 0h7M188 422h3m1 0h1m4 0h3m1 0h2m1 0h1m1 0h5m3 0h11m1 0h12m1 0h16m1 0h8M189 423h1m3 0h1m1 0h2m1 0h1m1 0h4m1 0h6m2 0h34m1 0h1m1 0h12M189 424h2m2 0h3m2 0h1m1 0h4m1 0h6m1 0h41m1 0h7M188 425h3m2 0h2m3 0h5m1 0h39m1 0h12m1 0h2M188 426h1m2 0h4m2 0h4m1 0h39m1 0h4m1 0h10M188 427h1m2 0h2m1 0h6m2 0h26m2 0h8m1 0h10m1 0h5M187 428h2m2 0h2m2 0h4m3 0h34m1 0h11m1 0h5M187 429h2m1 0h1m2 0h6m1 0h35m1 0h6m1 0h3m1 0h5M187 430h3m2 0h3m1 0h2m1 0h2m1 0h15m1 0h22m3 0h1m1 0h5M186 431h4m1 0h44m1 0h3m3 0h1m1 0h4M186 432h3m2 0h4m1 0h5m1 0h12m1 0h18m1 0h2m1 0h1m2 0h7M186 433h3m1 0h5m1 0h17m1 0h17m1 0h5m2 0h6M185 434h3m1 0h3m1 0h6m1 0h16m1 0h10m2 0h1m1 0h5m2 0h1m1 0h4M184 435h2m1 0h3m3 0h5m1 0h4m3 0h10m1 0h11m1 0h3m1 0h1m1 0h2m1 0h1m1 0h1m1 0h3M184 436h5m5 0h4m1 0h4m2 0h11m1 0h20m1 0h1m2 0h2m1 0h1M184 437h4m5 0h10m1 0h29m1 0h1m1 0h1m1 0h7M182 438h5m5 0h11m1 0h40M181 439h6m4 0h51M181 440h5m3 0h50M181 441h4m2 0h48M180 442h4m1 0h2m1 0h44M180 443h3m1 0h2m1 0h9m1 0h22m1 0h3m1 0h6M178 444h5m1 0h1m2 0h1m1 0h6m1 0h25m1 0h8M177 445h5m2 0h44M177 446h1m1 0h2m2 0h41M178 447h2m1 0h39M177 448h5m1 0h33M177 449h3m2 0h1m1 0h19m1 0h6m1 0h1M176 450h3m4 0h7m1 0h13m2 0h5M175 451h4m4 0h11m1 0h4m1 0h3m3 0h4M175 452h1m1 0h1m3 0h2m1 0h12m1 0h6m2 0h4M174 453h2m4 0h21m1 0h1m2 0h4M174 454h1m4 0h2m1 0h18m2 0h1m1 0h5M173 455h2m3 0h2m1 0h19m2 0h1m1 0h2m1 0h2M173 456h2m3 0h2m1 0h3m1 0h11m2 0h1m3 0h3m1 0h3M172 457h2m4 0h1m2 0h2m1 0h10m1 0h1m1 0h3m1 0h5m1 0h1M171 458h2m5 0h6m1 0h8m2 0h5m1 0h7M170 459h1m6 0h9m1 0h2m1 0h3m2 0h4m3 0h2m1 0h2M169 460h2m5 0h5m1 0h3m1 0h3m1 0h3m2 0h4m3 0h4M170 461h1m4 0h1m1 0h3m1 0h2m1 0h9m1 0h2m1 0h1m3 0h5M170 462h1m4 0h3m1 0h17m1 0h1m2 0h3m1 0h1M169 463h2m4 0h18m1 0h2m1 0h1m2 0h2m1 0h2M168 464h2m5 0h4m1 0h2m1 0h8m1 0h4m1 0h1m2 0h5M166 465h3m6 0h7m1 0h8m1 0h2m2 0h1m1 0h2m1 0h4M165 466h1m1 0h2m4 0h2m1 0h2m1 0h2m2 0h8m1 0h2m1 0h1m2 0h7M164 467h1m2 0h1m4 0h3m1 0h1m2 0h1m1 0h1m1 0h12m2 0h1m1 0h6M164 468h1m2 0h1m4 0h5m1 0h2m1 0h11m1 0h2m1 0h1m2 0h6M164 469h1m1 0h1m5 0h11m1 0h2m1 0h4m2 0h1m2 0h1m2 0h5M164 470h1m1 0h1m5 0h5m1 0h1m1 0h1m1 0h12m2 0h1m2 0h2m1 0h2M164 471h2m6 0h3m2 0h1m2 0h1m1 0h8m1 0h2m2 0h1m2 0h3m1 0h2M164 472h2m4 0h5m2 0h1m2 0h11m1 0h1m1 0h2m1 0h6M162 473h3m4 0h4m1 0h1m2 0h1m2 0h9m1 0h1m1 0h3m1 0h3m1 0h3M161 474h3m4 0h7m1 0h2m1 0h10m1 0h4m1 0h3m1 0h1m1 0h1M160 475h1m1 0h1m5 0h6m1 0h2m1 0h15m1 0h4m1 0h3M160 476h1m1 0h1m5 0h2m1 0h1m1 0h13m1 0h1m1 0h7m2 0h2M161 477h2m4 0h4m1 0h20m1 0h2m1 0h4M160 478h1m2 0h1m2 0h4m2 0h14m1 0h7m1 0h5M159 479h1m3 0h1m2 0h4m1 0h14m1 0h8m1 0h2m1 0h2M159 480h1m2 0h2m2 0h3m2 0h4m1 0h8m1 0h3m1 0h2m1 0h1m1 0h5M159 481h1m2 0h1m3 0h3m2 0h19m1 0h3m1 0h2M159 482h1m2 0h1m3 0h3m1 0h8m1 0h4m1 0h2m1 0h1m1 0h3m1 0h3M158 483h2m1 0h1m4 0h2m1 0h3m1 0h4m1 0h4m2 0h4m1 0h2m2 0h3M158 484h1m1 0h1m4 0h3m1 0h8m1 0h4m3 0h7m2 0h2M157 485h3m5 0h7m1 0h9m2 0h5m2 0h1m1 0h3M157 486h1m1 0h1m5 0h6m1 0h10m1 0h6m2 0h5M156 487h1m1 0h2m5 0h6m1 0h4m1 0h9m1 0h1m3 0h2m1 0h1M155 488h2m1 0h1m6 0h4m1 0h1m1 0h3m1 0h8m1 0h3m2 0h5M154 489h4m5 0h6m2 0h9m1 0h2m1 0h3m2 0h3m1 0h1M154 490h1m1 0h1m6 0h9m2 0h8m1 0h11M154 491h2m6 0h6m1 0h3m1 0h15m1 0h3M154 492h2m5 0h5m1 0h4m1 0h15m1 0h2M155 493h1m5 0h2m1 0h10m1 0h5m1 0h5m1 0h2M155 494h2m3 0h3m1 0h15m1 0h5m1 0h2M155 495h2m2 0h3m1 0h1m1 0h1m1 0h6m1 0h14M154 496h1m2 0h6m2 0h12m1 0h3m1 0h3m2 0h1M154 497h1m1 0h6m2 0h2m1 0h20M154 498h5m1 0h2m1 0h17m1 0h5M154 499h2m1 0h2m1 0h18m3 0h4M153 500h2m2 0h4m1 0h1m1 0h14m3 0h3M153 501h1m2 0h3m1 0h1m1 0h15m3 0h3M152 502h2m2 0h3m1 0h1m1 0h14m3 0h3M153 503h1m2 0h1m1 0h1m1 0h1m1 0h1m1 0h12m1 0h4M153 504h1m1 0h2m1 0h1m1 0h1m1 0h19M152 505h2m1 0h2m1 0h2m2 0h18M152 506h2m1 0h2m1 0h2m2 0h18M152 507h2m1 0h2m1 0h2m1 0h13m1 0h2m1 0h1M153 508h4m1 0h2m1 0h10m1 0h4m1 0h2M153 509h3m2 0h2m1 0h10m1 0h1m1 0h3" stroke="#000" stroke-width="1" fill="none" shape-rendering="crispEdges"/>
<rect x="151.5" y="348.5" width="248" height="161" fill="none" stroke="#262626" stroke-width="1"/>
<path d="M160.5 349v2M160.5 509v-1.2M213.5 349v2M213.5 509v-1.2M266.5 349v2M266.5 509v-1.2M319.5 349v2M319.5 509v-1.2M372.5 349v2M372.5 509v-1.2M152 380.5h2M399 380.5h-1.2M152 412.5h2M399 412.5h-1.2M152 445.5h2M399 445.5h-1.2M152 477.5h2M399 477.5h-1.2" stroke="#262626" stroke-width="1" fill="none"/>
<text transform="translate(136.68 354.00)" font-size="15.27" fill="#262626">0</text>
<text transform="translate(127.16 386.00)" font-size="15.27" fill="#262626" letter-spacing="1.157">50</text>
<text transform="translate(117.55 418.00)" font-size="15.27" fill="#262626" letter-spacing="1.134">100</text>
<text transform="translate(117.55 450.00)" font-size="15.27" fill="#262626" letter-spacing="1.134">150</text>
<text transform="translate(117.40 482.00)" font-size="15.27" fill="#262626" letter-spacing="1.211">200</text>
<text transform="translate(117.40 515.00)" font-size="15.27" fill="#262626" letter-spacing="1.211">250</text>
<text transform="translate(156.48 339.00)" font-size="15.27" fill="#262626">1</text>
<text transform="translate(209.35 339.00)" font-size="15.27" fill="#262626">2</text>
<text transform="translate(262.57 339.00)" font-size="15.27" fill="#262626">3</text>
<text transform="translate(315.55 339.00)" font-size="15.27" fill="#262626">4</text>
<text transform="translate(368.49 339.00)" font-size="15.27" fill="#262626">5</text>
<text transform="translate(209.79 320.00) scale(1.05 1)" font-size="16.80" fill="#262626" letter-spacing="0.323">CTD1 Oxy (ml/l)</text>
<text transform="rotate(-90 109.30 454.63) translate(109.47 454.63) scale(1.05 1)" font-size="16.80" fill="#262626" letter-spacing="0.658">Depth</text>
</g>
<g id="p5">
<path transform="translate(0,.5)" d="M478 348h3m2 0h1m1 0h1m1 0h1m1 0h1m3 0h4m1 0h5m5 0h3m3 0h2m3 0h4m2 0h4m1 0h2m1 0h2m1 0h2m1 0h5m1 0h1m1 0h4m2 0h11m1 0h8m1 0h1m1 0h19M478 349h1m5 0h1m4 0h2m5 0h3m3 0h1m9 0h1m2 0h1m1 0h2m1 0h1m1 0h1m1 0h1m1 0h1m1 0h1m2 0h2m2 0h1m1 0h1m1 0h7m2 0h4m2 0h19m2 0h1m1 0h11m1 0h2m1 0h3M478 350h1m1 0h2m6 0h1m2 0h2m5 0h2m1 0h1m1 0h1m1 0h1m3 0h2m2 0h1m3 0h1m1 0h1m1 0h2m3 0h2m1 0h2m1 0h6m1 0h2m1 0h3m1 0h8m1 0h3m1 0h14m1 0h1m2 0h1m1 0h1m1 0h1m1 0h10m1 0h3M480 351h1m5 0h1m3 0h2m1 0h2m5 0h1m1 0h2m1 0h3m2 0h1m2 0h1m1 0h2m1 0h1m1 0h4m2 0h3m2 0h1m1 0h2m1 0h3m1 0h3m1 0h2m1 0h4m1 0h19m1 0h5m1 0h6m2 0h3m1 0h4m1 0h4M480 352h1m1 0h1m5 0h1m2 0h4m2 0h1m2 0h3m1 0h1m2 0h3m1 0h5m1 0h1m2 0h3m1 0h2m2 0h7m2 0h1m1 0h7m1 0h16m1 0h15m1 0h6m1 0h9m1 0h4M482 353h1m2 0h1m1 0h1m3 0h1m3 0h3m1 0h1m1 0h3m1 0h1m1 0h1m2 0h2m2 0h2m2 0h1m3 0h2m1 0h2m2 0h1m3 0h2m1 0h6m1 0h1m1 0h1m2 0h4m1 0h11m2 0h14m1 0h7m1 0h5m1 0h8M484 354h2m1 0h1m1 0h1m1 0h4m3 0h1m1 0h1m1 0h5m1 0h1m3 0h1m1 0h2m1 0h2m1 0h2m1 0h2m2 0h2m3 0h1m1 0h4m1 0h2m1 0h4m1 0h1m2 0h17m2 0h21m2 0h6m1 0h2m1 0h3M487 355h1m1 0h2m5 0h1m3 0h3m3 0h3m1 0h2m1 0h1m1 0h3m2 0h2m1 0h5m1 0h1m1 0h1m2 0h3m1 0h2m2 0h1m1 0h5m2 0h2m2 0h8m2 0h2m1 0h2m1 0h1m1 0h18m2 0h1m1 0h3m1 0h8M492 356h4m3 0h1m1 0h1m1 0h1m1 0h1m3 0h2m1 0h1m1 0h1m1 0h5m2 0h1m1 0h2m1 0h2m1 0h3m2 0h1m1 0h4m1 0h9m1 0h3m2 0h8m1 0h6m1 0h28m1 0h7M492 357h2m2 0h1m1 0h1m3 0h2m1 0h4m1 0h1m1 0h3m1 0h1m1 0h1m2 0h3m1 0h3m1 0h3m1 0h22m2 0h2m1 0h11m1 0h44M493 358h1m1 0h1m3 0h2m1 0h3m4 0h3m2 0h4m1 0h1m2 0h4m2 0h7m1 0h1m1 0h2m1 0h3m1 0h1m1 0h5m3 0h3m1 0h4m1 0h14m1 0h38m1 0h2M497 359h1m1 0h1m1 0h1m4 0h3m2 0h4m1 0h1m1 0h3m5 0h4m2 0h1m1 0h5m1 0h1m1 0h5m2 0h11m1 0h1m2 0h2m1 0h15m1 0h30m1 0h8m1 0h1M498 360h1m2 0h1m1 0h1m4 0h2m4 0h4m2 0h4m3 0h6m5 0h5m2 0h5m3 0h2m1 0h3m1 0h5m1 0h4m1 0h45m1 0h8m1 0h1M500 361h2m2 0h2m4 0h1m7 0h3m1 0h4m4 0h4m6 0h5m1 0h2m1 0h1m1 0h1m1 0h1m1 0h6m2 0h1m3 0h2m1 0h5m1 0h2m1 0h5m1 0h3m1 0h4m1 0h11m1 0h2m1 0h3m1 0h3m1 0h1m1 0h1m2 0h4m2 0h1M503 362h1m2 0h1m2 0h2m1 0h1m4 0h5m2 0h1m1 0h2m3 0h6m1 0h1m2 0h1m2 0h4m2 0h1m5 0h5m4 0h2m1 0h1m1 0h3m2 0h6m1 0h1m1 0h2m1 0h4m1 0h17m1 0h2m3 0h5m1 0h5m1 0h1m2 0h1M505 363h1m2 0h1m2 0h2m1 0h1m4 0h1m1 0h2m2 0h3m5 0h1m1 0h4m1 0h1m2 0h1m1 0h5m1 0h1m4 0h2m1 0h1m1 0h3m3 0h2m3 0h1m1 0h2m1 0h3m1 0h7m2 0h2m1 0h1m1 0h14m2 0h5m2 0h3m3 0h4m1 0h1M507 364h1m3 0h1m3 0h1m5 0h1m1 0h3m2 0h2m1 0h1m2 0h1m2 0h2m1 0h1m2 0h1m2 0h1m1 0h3m1 0h3m2 0h1m3 0h2m2 0h1m3 0h1m1 0h1m1 0h1m1 0h9m1 0h3m1 0h6m1 0h14m4 0h4m1 0h3m2 0h1m1 0h5M509 365h2m1 0h2m1 0h1m8 0h1m1 0h3m1 0h1m1 0h1m1 0h1m3 0h5m2 0h1m2 0h8m1 0h3m2 0h3m2 0h2m3 0h1m1 0h4m1 0h6m1 0h12m2 0h16m1 0h7m1 0h1m1 0h5m1 0h1M513 366h4m1 0h3m7 0h12m2 0h1m1 0h3m2 0h9m1 0h2m1 0h1m1 0h1m1 0h1m4 0h1m2 0h8m1 0h6m1 0h1m1 0h8m2 0h15m3 0h4m2 0h4m1 0h4M515 367h2m2 0h1m2 0h1m1 0h1m5 0h1m1 0h3m1 0h3m1 0h1m1 0h1m1 0h10m1 0h6m1 0h2m2 0h1m1 0h2m8 0h1m2 0h2m1 0h1m1 0h5m1 0h5m1 0h7m1 0h14m3 0h5m1 0h5m1 0h3M517 368h3m5 0h2m6 0h4m1 0h4m4 0h8m1 0h1m2 0h2m1 0h2m1 0h7m2 0h2m2 0h1m2 0h6m3 0h10m2 0h3m1 0h17m4 0h10m1 0h4M520 369h4m3 0h1m8 0h6m1 0h2m1 0h1m2 0h2m1 0h1m1 0h2m1 0h1m1 0h7m2 0h6m1 0h2m4 0h1m1 0h5m1 0h6m1 0h1m1 0h3m1 0h6m2 0h5m1 0h9m3 0h7m1 0h5m1 0h1M524 370h3m2 0h3m6 0h3m1 0h2m1 0h1m2 0h2m2 0h4m1 0h3m1 0h4m1 0h2m2 0h11m3 0h1m1 0h4m2 0h13m1 0h4m1 0h17m2 0h6m2 0h7M524 371h1m2 0h1m1 0h2m2 0h1m6 0h5m1 0h4m1 0h1m2 0h1m1 0h1m1 0h5m1 0h1m1 0h2m1 0h1m2 0h3m2 0h1m1 0h1m3 0h1m2 0h2m1 0h3m2 0h14m2 0h8m1 0h10m1 0h1m1 0h6m2 0h1m1 0h3M528 372h2m1 0h3m1 0h2m7 0h2m1 0h2m1 0h1m1 0h2m2 0h1m1 0h2m2 0h6m1 0h2m1 0h7m1 0h4m1 0h1m4 0h5m2 0h3m1 0h9m1 0h9m1 0h12m1 0h6m2 0h1m2 0h4M530 373h1m1 0h1m1 0h1m1 0h2m1 0h1m1 0h2m3 0h1m1 0h6m2 0h1m1 0h6m1 0h1m1 0h3m1 0h3m2 0h2m1 0h2m1 0h1m1 0h2m1 0h1m3 0h4m1 0h1m1 0h3m1 0h1m1 0h1m1 0h20m1 0h8m1 0h1m1 0h3m1 0h1m1 0h2m1 0h4M533 374h2m3 0h1m1 0h1m1 0h1m1 0h2m1 0h2m2 0h3m1 0h1m2 0h1m2 0h1m1 0h2m2 0h2m1 0h2m1 0h3m2 0h2m1 0h1m1 0h7m1 0h1m1 0h7m1 0h3m1 0h2m1 0h25m1 0h10m1 0h1m2 0h3m1 0h1M534 375h2m1 0h1m4 0h2m2 0h2m6 0h5m4 0h1m1 0h2m1 0h1m1 0h4m1 0h3m1 0h3m1 0h4m2 0h2m2 0h2m1 0h3m1 0h1m2 0h4m1 0h8m1 0h18m1 0h10m1 0h2m1 0h3M538 376h2m4 0h1m3 0h4m6 0h1m1 0h1m5 0h1m1 0h2m2 0h8m1 0h3m2 0h6m1 0h1m1 0h2m1 0h1m1 0h1m1 0h2m1 0h1m1 0h2m1 0h9m1 0h9m1 0h8m2 0h8m4 0h3M541 377h1m1 0h1m1 0h1m5 0h4m1 0h1m1 0h1m1 0h3m4 0h1m1 0h1m2 0h2m2 0h11m1 0h3m1 0h1m1 0h1m1 0h6m2 0h4m1 0h6m1 0h2m1 0h1m1 0h1m1 0h1m1 0h11m1 0h10m1 0h4m1 0h2m1 0h1M545 378h1m2 0h1m6 0h4m2 0h1m1 0h3m4 0h3m1 0h4m1 0h1m1 0h3m1 0h1m1 0h6m1 0h2m1 0h5m1 0h3m1 0h4m1 0h2m1 0h2m1 0h14m1 0h4m2 0h14m1 0h3m1 0h1M547 379h1m1 0h2m5 0h3m1 0h1m1 0h4m1 0h1m5 0h2m1 0h1m2 0h3m2 0h2m1 0h4m1 0h6m1 0h4m2 0h1m1 0h3m1 0h5m1 0h10m1 0h12m1 0h7m1 0h2m1 0h6m1 0h1M550 380h1m8 0h1m2 0h5m1 0h1m1 0h1m4 0h1m3 0h1m1 0h3m1 0h1m1 0h1m1 0h1m2 0h2m2 0h2m1 0h2m1 0h2m1 0h1m2 0h5m1 0h3m1 0h19m1 0h3m1 0h1m1 0h5m1 0h2m3 0h2m1 0h2M552 381h3m6 0h1m3 0h3m1 0h1m3 0h1m3 0h1m1 0h1m1 0h1m1 0h2m2 0h2m1 0h2m1 0h2m2 0h10m3 0h1m2 0h1m1 0h1m1 0h2m2 0h1m1 0h8m1 0h2m1 0h5m1 0h2m1 0h1m1 0h1m1 0h2m5 0h4M556 382h2m5 0h1m4 0h4m3 0h1m8 0h1m1 0h1m2 0h2m1 0h1m2 0h1m1 0h1m1 0h3m1 0h2m1 0h2m4 0h1m2 0h2m3 0h1m2 0h5m1 0h7m1 0h2m1 0h1m1 0h5m1 0h5m1 0h1m1 0h2m2 0h1M565 383h1m4 0h1m1 0h2m4 0h1m3 0h1m2 0h2m4 0h1m4 0h2m2 0h2m2 0h1m1 0h1m1 0h2m1 0h2m1 0h1m1 0h1m1 0h1m1 0h3m1 0h3m1 0h1m1 0h6m1 0h1m1 0h1m1 0h5m2 0h5m3 0h2m1 0h1M558 384h2m6 0h1m4 0h4m1 0h1m4 0h1m1 0h1m2 0h1m1 0h1m3 0h2m4 0h2m2 0h3m1 0h2m1 0h1m2 0h2m1 0h1m1 0h4m2 0h5m1 0h1m1 0h2m1 0h5m1 0h1m1 0h4m1 0h2m2 0h3m2 0h1m1 0h1m2 0h1M560 385h2m6 0h1m3 0h1m2 0h2m10 0h1m1 0h1m1 0h1m2 0h3m2 0h1m1 0h5m4 0h2m1 0h1m2 0h1m1 0h3m1 0h2m1 0h2m2 0h7m1 0h4m2 0h3m1 0h2m2 0h2m2 0h3m1 0h2M562 386h2m3 0h1m2 0h1m1 0h3m1 0h1m1 0h1m4 0h2m4 0h1m2 0h1m2 0h1m2 0h1m3 0h3m1 0h10m1 0h2m1 0h1m2 0h6m2 0h6m1 0h3m2 0h4m2 0h5m3 0h1m1 0h1m1 0h1M564 387h3m1 0h1m2 0h1m2 0h1m1 0h2m7 0h2m3 0h1m2 0h2m1 0h1m2 0h1m2 0h1m1 0h1m1 0h2m1 0h1m2 0h2m1 0h1m1 0h2m1 0h29m1 0h4m1 0h3m1 0h1m2 0h1M569 388h1m6 0h2m1 0h1m1 0h1m10 0h1m1 0h6m1 0h3m1 0h3m1 0h1m1 0h1m1 0h1m2 0h3m1 0h6m2 0h3m2 0h18m1 0h3m1 0h1m1 0h4m2 0h1M565 389h1m5 0h2m1 0h1m2 0h1m1 0h1m2 0h3m3 0h1m6 0h3m1 0h1m1 0h3m2 0h7m2 0h1m1 0h2m1 0h1m1 0h6m1 0h4m2 0h4m1 0h13m1 0h3m2 0h1m2 0h1m3 0h1M566 390h1m3 0h1m4 0h1m1 0h2m7 0h1m2 0h1m4 0h1m4 0h2m1 0h1m1 0h2m1 0h2m2 0h2m1 0h1m1 0h3m1 0h2m2 0h9m2 0h8m1 0h3m2 0h6m1 0h8m3 0h1M568 391h1m5 0h2m4 0h1m4 0h1m1 0h1m4 0h1m2 0h1m2 0h1m2 0h1m2 0h2m1 0h3m3 0h2m1 0h1m1 0h1m1 0h1m1 0h7m2 0h3m1 0h2m2 0h10m1 0h2m1 0h9m2 0h2m2 0h1M571 392h2m4 0h4m6 0h1m1 0h1m2 0h2m6 0h1m1 0h1m1 0h4m1 0h3m3 0h3m1 0h2m3 0h5m2 0h1m2 0h2m1 0h2m1 0h11m1 0h5m1 0h3m1 0h2m1 0h2M573 393h1m5 0h2m1 0h1m6 0h1m1 0h1m2 0h1m3 0h1m2 0h1m1 0h3m3 0h4m3 0h3m2 0h3m1 0h6m1 0h1m3 0h16m1 0h2m1 0h7m1 0h1m2 0h2m1 0h1M574 394h2m5 0h3m8 0h2m2 0h1m1 0h1m6 0h3m2 0h5m3 0h6m2 0h4m1 0h4m2 0h5m1 0h5m1 0h2m1 0h2m1 0h1m1 0h6m5 0h3M577 395h1m4 0h4m5 0h1m3 0h2m3 0h1m6 0h2m2 0h5m1 0h1m2 0h5m1 0h10m1 0h2m1 0h4m1 0h10m2 0h8m1 0h1m3 0h3M577 396h1m1 0h2m2 0h1m1 0h2m6 0h1m5 0h3m2 0h2m4 0h2m1 0h6m3 0h5m1 0h3m1 0h5m1 0h1m1 0h5m1 0h11m3 0h8m3 0h4M582 397h1m1 0h1m3 0h2m1 0h1m3 0h1m6 0h2m2 0h1m3 0h6m2 0h4m3 0h8m1 0h8m1 0h2m1 0h2m1 0h11m1 0h1m1 0h7m2 0h1m1 0h3M586 398h4m3 0h1m9 0h1m1 0h5m4 0h1m1 0h3m1 0h5m2 0h2m1 0h2m1 0h3m1 0h11m1 0h7m1 0h1m1 0h2m1 0h8m1 0h1m3 0h4M585 399h1m2 0h4m1 0h2m2 0h1m8 0h1m2 0h2m4 0h3m1 0h1m1 0h1m1 0h4m2 0h7m1 0h11m1 0h2m1 0h7m1 0h4m1 0h8m5 0h3M588 400h1m2 0h3m2 0h1m1 0h1m11 0h1m1 0h2m4 0h4m1 0h1m3 0h2m2 0h4m1 0h3m1 0h3m2 0h7m1 0h1m1 0h5m2 0h5m1 0h1m1 0h4m1 0h1m1 0h1m1 0h3M592 401h5m1 0h1m1 0h1m8 0h1m2 0h4m4 0h3m2 0h1m2 0h3m1 0h1m1 0h17m1 0h3m1 0h5m1 0h1m1 0h1m1 0h1m1 0h6m1 0h1m1 0h1m1 0h3M593 402h1m1 0h3m1 0h1m1 0h4m6 0h1m1 0h3m1 0h1m3 0h4m2 0h1m1 0h4m1 0h1m2 0h1m1 0h11m1 0h4m1 0h6m4 0h2m1 0h6m1 0h2m1 0h1m2 0h1M597 403h6m3 0h1m1 0h1m5 0h1m1 0h5m2 0h3m1 0h4m1 0h3m1 0h1m2 0h2m1 0h4m1 0h18m1 0h7m1 0h2m1 0h2m3 0h1M600 404h1m1 0h4m1 0h3m6 0h1m2 0h2m1 0h2m1 0h2m1 0h2m1 0h8m2 0h2m1 0h4m1 0h16m2 0h1m1 0h5m1 0h5m1 0h2M605 405h3m1 0h1m1 0h3m1 0h1m2 0h1m1 0h1m1 0h1m1 0h1m1 0h4m1 0h1m1 0h4m1 0h4m2 0h2m1 0h12m1 0h7m1 0h1m1 0h3m1 0h1m1 0h8M607 406h1m1 0h4m2 0h1m1 0h1m2 0h1m1 0h1m2 0h1m1 0h4m1 0h13m2 0h6m1 0h1m1 0h11m4 0h3m4 0h6M612 407h6m1 0h1m1 0h1m1 0h1m1 0h1m2 0h9m1 0h1m1 0h2m1 0h4m2 0h2m1 0h13m1 0h4m1 0h6m1 0h1m1 0h2m1 0h2M616 408h5m1 0h1m2 0h2m3 0h1m1 0h4m1 0h14m1 0h5m1 0h13m2 0h1m1 0h3m1 0h4m1 0h2M620 409h1m1 0h6m1 0h2m1 0h1m2 0h6m1 0h4m1 0h1m1 0h3m1 0h3m1 0h2m1 0h11m1 0h1m1 0h4m1 0h2m1 0h2m2 0h1M623 410h1m1 0h2m2 0h1m3 0h1m1 0h1m2 0h4m2 0h2m1 0h2m2 0h3m1 0h5m1 0h13m3 0h10M625 411h4m9 0h1m2 0h5m3 0h1m3 0h2m2 0h6m1 0h5m1 0h5m1 0h1m1 0h3m1 0h4M627 412h2m1 0h2m2 0h1m1 0h1m2 0h2m1 0h1m1 0h1m1 0h2m2 0h1m1 0h1m1 0h1m3 0h6m1 0h5m1 0h6m1 0h1m1 0h2m2 0h3m1 0h1M628 413h2m1 0h1m4 0h2m4 0h2m1 0h6m4 0h4m1 0h6m1 0h2m1 0h4m1 0h1m1 0h7m1 0h1m1 0h1M630 414h4m4 0h3m2 0h2m2 0h3m2 0h1m1 0h1m1 0h1m1 0h1m1 0h1m1 0h1m2 0h7m1 0h10m1 0h4M631 415h3m2 0h1m4 0h1m3 0h2m1 0h1m1 0h3m1 0h1m1 0h4m1 0h5m1 0h12m1 0h6m1 0h1M633 416h3m1 0h1m2 0h3m3 0h5m2 0h2m3 0h4m1 0h2m1 0h1m1 0h5m1 0h5m1 0h9M635 417h2m2 0h1m2 0h1m1 0h1m3 0h2m1 0h1m1 0h4m3 0h2m2 0h4m1 0h14m2 0h5M637 418h3m1 0h2m1 0h1m5 0h2m3 0h2m1 0h2m1 0h2m1 0h1m1 0h2m1 0h16m1 0h5M638 419h3m1 0h1m1 0h1m1 0h2m1 0h1m1 0h1m1 0h3m1 0h1m1 0h2m1 0h1m1 0h1m2 0h2m1 0h7m1 0h5m1 0h1m1 0h3m1 0h1M639 420h1m1 0h3m3 0h1m2 0h3m1 0h1m1 0h2m1 0h3m1 0h1m1 0h1m1 0h2m2 0h8m1 0h6m1 0h4M637 421h1m1 0h1m2 0h1m1 0h1m4 0h1m1 0h1m2 0h3m2 0h1m1 0h1m6 0h4m1 0h6m1 0h7m1 0h3M639 422h3m2 0h2m1 0h1m1 0h1m2 0h3m1 0h2m2 0h6m2 0h2m1 0h8m2 0h3m1 0h7M641 423h1m4 0h1m5 0h1m4 0h2m1 0h1m1 0h2m1 0h1m1 0h2m1 0h18m1 0h4M641 424h1m1 0h1m1 0h3m4 0h1m1 0h1m1 0h2m3 0h9m2 0h2m1 0h5m1 0h3m2 0h1m1 0h5M641 425h1m6 0h1m2 0h1m2 0h2m2 0h1m1 0h2m1 0h1m1 0h4m1 0h2m1 0h8m1 0h5m2 0h2m1 0h2M642 426h2m1 0h1m1 0h1m1 0h1m5 0h1m1 0h1m3 0h2m1 0h1m2 0h3m1 0h1m1 0h9m1 0h5m2 0h2M643 427h1m2 0h1m2 0h1m2 0h1m3 0h3m3 0h2m1 0h2m1 0h1m1 0h1m3 0h13m1 0h1m1 0h2m1 0h1M642 428h1m1 0h1m2 0h1m2 0h1m4 0h1m3 0h1m3 0h1m1 0h4m1 0h2m1 0h15m1 0h5M645 429h2m1 0h4m3 0h1m1 0h3m1 0h1m1 0h2m1 0h1m1 0h4m1 0h1m1 0h2m1 0h11m1 0h2M645 430h1m1 0h1m3 0h1m1 0h1m1 0h2m3 0h1m3 0h7m1 0h1m1 0h20M647 431h1m1 0h4m1 0h7m2 0h1m1 0h1m1 0h15m1 0h4m1 0h5m1 0h1M647 432h1m1 0h1m1 0h3m4 0h2m1 0h2m2 0h4m1 0h4m2 0h16m1 0h2M651 433h3m1 0h2m2 0h2m6 0h4m1 0h3m1 0h1m1 0h12m2 0h4M649 434h1m1 0h2m1 0h2m1 0h1m1 0h3m1 0h1m3 0h3m1 0h2m1 0h4m1 0h17M650 435h1m2 0h3m1 0h1m1 0h1m1 0h1m5 0h5m1 0h1m2 0h3m2 0h10m2 0h4M652 436h1m1 0h3m1 0h1m1 0h1m1 0h3m2 0h1m1 0h1m1 0h1m1 0h2m1 0h11m1 0h9M653 437h4m1 0h1m1 0h2m2 0h2m2 0h1m1 0h5m3 0h14m1 0h4M657 438h1m1 0h2m1 0h1m1 0h2m3 0h1m5 0h2m1 0h1m1 0h8m1 0h4m1 0h1m1 0h2M654 439h2m1 0h1m2 0h1m1 0h5m2 0h8m3 0h5m1 0h12M658 440h1m3 0h6m2 0h3m1 0h2m2 0h1m2 0h8m2 0h7M654 441h2m2 0h2m1 0h6m7 0h2m1 0h1m4 0h16M654 442h1m2 0h1m3 0h7m3 0h2m2 0h2m1 0h1m2 0h11m1 0h6M661 443h1m1 0h6m4 0h1m1 0h4m3 0h11m1 0h5M659 444h9m2 0h1m1 0h1m1 0h1m1 0h4m2 0h3m1 0h5m1 0h8M663 445h3m1 0h3m3 0h1m2 0h1m1 0h1m4 0h19M672 446h1m4 0h2m1 0h1m3 0h5m1 0h3m2 0h6M674 447h1m1 0h2m1 0h1m1 0h1m3 0h10m1 0h6M681 448h1m4 0h5m1 0h3m2 0h1m1 0h3M678 449h1m1 0h2m2 0h2m1 0h7m2 0h1m2 0h4M682 450h1m2 0h9m3 0h1m1 0h5M678 451h2m3 0h2m1 0h1m1 0h8m3 0h5M680 452h1m2 0h2m1 0h12m1 0h6M681 453h1m1 0h1m1 0h5m1 0h6m1 0h2m2 0h3M679 454h1m2 0h2m2 0h9m1 0h3m2 0h5M679 455h1m6 0h4m1 0h5m2 0h1m2 0h2m1 0h2M682 456h2m3 0h1m2 0h4m1 0h2m1 0h8M682 457h3m2 0h1m1 0h5m1 0h1m1 0h1m1 0h2m1 0h4M683 458h1m3 0h3m2 0h5m1 0h1m1 0h7M683 459h2m1 0h2m2 0h6m3 0h3m1 0h5M681 460h1m1 0h3m4 0h2m2 0h2m3 0h1m1 0h5m1 0h1M682 461h1m2 0h1m3 0h3m1 0h4m2 0h2m2 0h6M683 462h2m1 0h2m2 0h8m1 0h1m1 0h1m1 0h4m1 0h1M684 463h1m1 0h1m4 0h1m1 0h4m3 0h1m1 0h7M684 464h5m1 0h9m1 0h8M687 465h1m1 0h3m2 0h15M684 466h2m2 0h1m2 0h10m3 0h6M686 467h1m2 0h2m1 0h2m1 0h1m1 0h6m1 0h4m1 0h1M686 468h1m2 0h7m1 0h1m1 0h4m1 0h6M687 469h1m3 0h1m2 0h1m1 0h4m2 0h7m1 0h2M686 470h3m1 0h1m1 0h2m1 0h7m1 0h1m1 0h8M688 471h1m3 0h11m1 0h3m1 0h2m1 0h1M687 472h1m3 0h1m1 0h1m3 0h1m1 0h9m1 0h3M688 473h1m1 0h1m1 0h1m1 0h8m3 0h4m1 0h3M687 474h1m1 0h2m1 0h1m2 0h3m1 0h8m1 0h2m1 0h2M690 475h2m1 0h1m2 0h1m1 0h7m1 0h8M688 476h1m2 0h2m1 0h1m1 0h1m1 0h4m1 0h3m1 0h2m1 0h4M689 477h3m1 0h2m1 0h1m1 0h9m1 0h6M691 478h1m1 0h5m2 0h7m1 0h3m1 0h3M690 479h1m1 0h1m4 0h2m1 0h1m1 0h2m1 0h7m1 0h4M693 480h2m4 0h1m2 0h15M692 481h5m1 0h1m1 0h1m1 0h4m1 0h7m1 0h2M694 482h2m2 0h1m1 0h2m2 0h4m1 0h8M694 483h5m2 0h2m1 0h5m1 0h8M693 484h2m3 0h1m2 0h3m1 0h9m1 0h2m1 0h1M694 485h6m3 0h9m1 0h6M695 486h3m1 0h1m2 0h1m2 0h1m1 0h8m1 0h3M696 487h5m5 0h1m1 0h6m1 0h3m1 0h1M698 488h1m3 0h1m3 0h12m2 0h1M696 489h2m1 0h1m1 0h1m3 0h1m1 0h3m1 0h7m3 0h1M697 490h2m7 0h3m1 0h9M697 491h2m1 0h2m5 0h6m1 0h6m1 0h1M697 492h2m2 0h2m3 0h1m1 0h13M697 493h2m2 0h1m3 0h1m1 0h3m1 0h1m1 0h9M699 494h1m3 0h1m1 0h1m2 0h6m2 0h3m2 0h2M698 495h2m1 0h1m3 0h1m3 0h9m1 0h3m1 0h1M698 496h1m5 0h1m1 0h14m2 0h1M698 497h1m1 0h1m6 0h13m1 0h2M699 498h1m1 0h1m2 0h1m3 0h4m1 0h4m1 0h3M700 499h3m3 0h1m2 0h1m1 0h4m1 0h7M701 500h3m3 0h17M702 501h4m2 0h2m1 0h10m1 0h2M701 502h1m1 0h2m1 0h1m2 0h13m1 0h2M700 503h1m2 0h3m4 0h4m1 0h9M702 504h5m2 0h2m1 0h7m1 0h4M704 505h2m6 0h13M705 506h2m3 0h4m1 0h1m1 0h9M705 507h1m5 0h1m1 0h1m1 0h5m1 0h6M701 508h1m3 0h3m3 0h1m1 0h5m1 0h8M702 509h1m9 0h1m3 0h1m1 0h1" stroke="#000" stroke-width="1" fill="none" shape-rendering="crispEdges"/>
<rect x="477.5" y="348.5" width="249" height="161" fill="none" stroke="#262626" stroke-width="1"/>
<path d="M517.5 349v2M517.5 509v-1.2M562.5 349v2M562.5 509v-1.2M607.5 349v2M607.5 509v-1.2M651.5 349v2M651.5 509v-1.2M696.5 349v2M696.5 509v-1.2M478 380.5h2M726 380.5h-1.2M478 412.5h2M726 412.5h-1.2M478 445.5h2M726 445.5h-1.2M478 477.5h2M726 477.5h-1.2" stroke="#262626" stroke-width="1" fill="none"/>
<text transform="translate(462.68 354.00)" font-size="15.27" fill="#262626">0</text>
<text transform="translate(453.16 386.00)" font-size="15.27" fill="#262626" letter-spacing="1.157">50</text>
<text transform="translate(443.55 418.00)" font-size="15.27" fill="#262626" letter-spacing="1.134">100</text>
<text transform="translate(443.55 450.00)" font-size="15.27" fill="#262626" letter-spacing="1.134">150</text>
<text transform="translate(443.40 482.00)" font-size="15.27" fill="#262626" letter-spacing="1.211">200</text>
<text transform="translate(443.40 515.00)" font-size="15.27" fill="#262626" letter-spacing="1.211">250</text>
<text transform="translate(508.44 339.00)" font-size="15.27" fill="#262626" letter-spacing="1.218">10</text>
<text transform="translate(553.24 339.00)" font-size="15.27" fill="#262626" letter-spacing="0.947">15</text>
<text transform="translate(597.89 339.00)" font-size="15.27" fill="#262626" letter-spacing="1.372">20</text>
<text transform="translate(642.69 339.00)" font-size="15.27" fill="#262626" letter-spacing="1.102">25</text>
<text transform="translate(687.72 339.00)" font-size="15.27" fill="#262626" letter-spacing="1.141">30</text>
<text transform="translate(531.26 320.00) scale(1.05 1)" font-size="16.80" fill="#262626" letter-spacing="0.654">Nitrate (umol/kg)</text>
</g>
<g id="p6">
<path transform="translate(0,.5)" d="M863 348h97m1 0h2M861 349h99M857 350h2m1 0h3m1 0h27m1 0h68m3 0h1M853 351h6m1 0h4m1 0h19m1 0h74m1 0h1M848 352h58m1 0h52m2 0h1M843 353h38m1 0h79M838 354h44m1 0h8m1 0h1m1 0h64m1 0h1m1 0h1M833 355h1m2 0h5m2 0h100m2 0h14m1 0h1M831 356h1m1 0h20m1 0h48m1 0h56M828 357h1m1 0h57m1 0h72M825 358h1m1 0h119m1 0h14M825 359h8m1 0h6m1 0h49m1 0h65M827 360h5m1 0h114m1 0h1m1 0h1M828 361h2m1 0h10m1 0h47m1 0h9m1 0h36m1 0h1m1 0h4M828 362h3m1 0h16m2 0h2m1 0h78m1 0h2m1 0h1m2 0h1m2 0h2M827 363h26m1 0h26m1 0h42m1 0h6m2 0h5m2 0h1M827 364h92m1 0h1m2 0h1m1 0h9m1 0h1m1 0h2m2 0h4M828 365h42m1 0h20m1 0h20m2 0h2m4 0h8m1 0h6m3 0h1m6 0h4M827 366h81m1 0h5m1 0h1m2 0h1m1 0h9m1 0h5m2 0h1m4 0h1m3 0h1m1 0h1m1 0h2m1 0h1M827 367h71m1 0h1m1 0h1m4 0h2m2 0h11m2 0h7m1 0h5m1 0h2m1 0h2m1 0h1m5 0h3M826 368h58m1 0h10m1 0h9m2 0h5m1 0h1m1 0h6m1 0h1m1 0h2m1 0h8m1 0h1m1 0h2m1 0h1m2 0h2M826 369h13m1 0h3m1 0h35m1 0h8m1 0h4m1 0h3m1 0h1m1 0h4m2 0h1m2 0h4m2 0h2m1 0h4m1 0h3m1 0h2m1 0h4m6 0h2m3 0h1M824 370h38m1 0h8m1 0h5m1 0h1m4 0h1m2 0h2m1 0h1m3 0h1m4 0h1m1 0h13m1 0h4m2 0h1m1 0h1m1 0h2m1 0h2m4 0h2m7 0h2m1 0h1M822 371h21m1 0h32m3 0h7m4 0h2m1 0h7m1 0h1m3 0h2m1 0h5m2 0h1m3 0h1m1 0h2m3 0h1m1 0h1m2 0h2m3 0h1m1 0h3m5 0h3m5 0h1M821 372h54m3 0h1m3 0h1m1 0h1m2 0h1m1 0h5m2 0h1m1 0h1m8 0h2m12 0h1m2 0h1m1 0h1m6 0h1m13 0h1m3 0h1m1 0h1M820 373h21m1 0h34m2 0h1m2 0h2m1 0h1m1 0h1m1 0h5m2 0h2m1 0h2m1 0h3m1 0h4m1 0h2m1 0h1m2 0h1m6 0h2m1 0h1m1 0h1m2 0h1m1 0h2m1 0h1m7 0h3m1 0h1M818 374h1m1 0h55m1 0h6m2 0h2m3 0h4m1 0h9m2 0h5m2 0h2m1 0h1m1 0h1m1 0h2m1 0h7m1 0h3m10 0h1m1 0h1M816 375h1m1 0h55m1 0h4m1 0h3m1 0h2m1 0h7m1 0h3m1 0h12m1 0h5m2 0h2m1 0h6m1 0h2m1 0h4m1 0h1m1 0h3m1 0h1m1 0h1m1 0h1m3 0h2m1 0h3M818 376h85m1 0h9m1 0h4m1 0h5m1 0h10m2 0h5m6 0h1M818 377h1m1 0h24m1 0h27m2 0h4m1 0h6m1 0h1m1 0h4m1 0h1m3 0h2m2 0h4m1 0h4m1 0h1m5 0h2m1 0h3m1 0h3m2 0h1m2 0h1m1 0h2m1 0h1m3 0h1m4 0h1m1 0h2m6 0h1M819 378h42m1 0h52m1 0h19m5 0h1m2 0h1m2 0h1m5 0h1M820 379h54m1 0h1m4 0h3m1 0h8m1 0h3m1 0h10m1 0h8m3 0h3m1 0h2m1 0h5m1 0h3m3 0h5m5 0h1M819 380h15m1 0h26m1 0h10m1 0h1m6 0h1m4 0h2m4 0h1m6 0h2m1 0h1m1 0h3m2 0h1m1 0h2m1 0h3m3 0h1m2 0h1m2 0h1m1 0h1m13 0h2m7 0h1M819 381h24m1 0h26m1 0h2m3 0h1m2 0h1m1 0h1m3 0h1m3 0h1m2 0h5m3 0h1m5 0h1m6 0h1m2 0h2m3 0h1m1 0h1m1 0h1m2 0h1m16 0h1M817 382h1m2 0h11m1 0h3m2 0h28m1 0h1m1 0h5m7 0h1m1 0h3m1 0h1m2 0h2m1 0h2m1 0h2m2 0h1m1 0h2m3 0h2m4 0h1m1 0h1m2 0h2m2 0h1m6 0h1m2 0h1M816 383h1m1 0h59m2 0h2m3 0h1m1 0h3m1 0h2m4 0h3m1 0h1m1 0h1m6 0h1m1 0h1m3 0h1m1 0h1M816 384h55m1 0h3m1 0h6m2 0h2m2 0h1m1 0h1m3 0h6m6 0h1m1 0h1m2 0h1m1 0h2m3 0h1M815 385h57m1 0h1m1 0h9m2 0h4m3 0h6m1 0h2m1 0h13m4 0h4m2 0h1M816 386h10m1 0h26m1 0h26m1 0h6m2 0h3m1 0h1m4 0h3m3 0h2m2 0h3m6 0h1m1 0h1m1 0h1m1 0h2m1 0h1M815 387h1m1 0h37m1 0h18m2 0h10m1 0h2m5 0h2m2 0h4m1 0h6m1 0h4m2 0h5m2 0h1m2 0h2M817 388h26m3 0h13m1 0h13m1 0h2m1 0h10m1 0h1m1 0h1m2 0h1m8 0h1m3 0h1m1 0h1m2 0h4m3 0h2m5 0h3M815 389h1m1 0h9m1 0h14m1 0h11m1 0h17m1 0h3m1 0h2m2 0h2m1 0h1m1 0h2m1 0h1m1 0h5m3 0h1m3 0h1m2 0h2m6 0h8m2 0h2M816 390h1m1 0h54m1 0h2m1 0h1m1 0h2m2 0h6m4 0h7m2 0h3m2 0h1m1 0h4m1 0h2m1 0h5m4 0h1M813 391h3m1 0h3m1 0h27m1 0h23m3 0h3m1 0h1m1 0h1m3 0h4m1 0h1m1 0h1m1 0h1m3 0h3m2 0h3m17 0h1M814 392h4m1 0h4m1 0h3m1 0h15m1 0h36m1 0h1m1 0h1m1 0h7m1 0h4m2 0h2m1 0h2m1 0h1m7 0h1m1 0h1M817 393h4m1 0h50m6 0h1m4 0h2m1 0h1m4 0h2m4 0h6m2 0h1m2 0h4m3 0h1M814 394h50m2 0h9m1 0h2m3 0h1m1 0h2m1 0h3m1 0h7m1 0h5m3 0h3m3 0h1M816 395h60m1 0h1m8 0h2m1 0h1m1 0h1m1 0h1m1 0h3m3 0h1m5 0h3m6 0h1M814 396h58m1 0h1m4 0h4m2 0h4m2 0h3m1 0h7m2 0h2m1 0h1m3 0h2m5 0h1M815 397h40m1 0h22m1 0h1m1 0h1m3 0h1m7 0h3m2 0h3m2 0h1m2 0h2m1 0h2M816 398h2m1 0h1m1 0h50m1 0h2m1 0h1m4 0h3m3 0h4m7 0h2m1 0h1m8 0h1M817 399h53m2 0h1m2 0h1m4 0h2m3 0h3m1 0h4m2 0h1m1 0h2m1 0h1m3 0h2m49 0h2m10 0h1m17 0h2m4 0h1M815 400h2m1 0h10m1 0h21m1 0h22m1 0h2m2 0h2m1 0h1m2 0h1m3 0h1m1 0h2m1 0h1m1 0h1m2 0h1m1 0h6m1 0h1m26 0h1m3 0h1m2 0h1m5 0h1m6 0h1m3 0h5m2 0h3m4 0h1m7 0h1m2 0h1m1 0h1m8 0h1M816 401h45m1 0h10m5 0h1m1 0h5m9 0h2m3 0h1m1 0h1m18 0h1m3 0h1m3 0h3m4 0h1m2 0h1m1 0h2m5 0h4m10 0h1m4 0h1m3 0h1m2 0h1m4 0h1m3 0h3m1 0h1m1 0h2m3 0h2m17 0h1m11 0h1M815 402h1m1 0h15m1 0h35m2 0h2m7 0h1m7 0h1m1 0h1m1 0h1m3 0h1m23 0h1m1 0h4m3 0h1m12 0h3m1 0h1m5 0h1m3 0h1m4 0h5m1 0h2m3 0h1m1 0h2m1 0h2m1 0h3m3 0h5m3 0h8m1 0h1m2 0h2m6 0h1m1 0h1m1 0h1m1 0h1m7 0h1M816 403h55m1 0h2m31 0h1m2 0h3m6 0h1m1 0h1m4 0h1m2 0h2m2 0h2m1 0h1m2 0h2m2 0h10m2 0h1m3 0h7m1 0h4m1 0h2m2 0h2m2 0h1m1 0h10m1 0h3m2 0h1m3 0h5m1 0h1m1 0h1m1 0h2m4 0h1m6 0h1m1 0h1M817 404h50m1 0h6m63 0h2m2 0h2m2 0h2m1 0h1m3 0h2m1 0h5m8 0h1m2 0h2m1 0h2m1 0h1m1 0h4m4 0h1m2 0h1m4 0h1m4 0h6m10 0h1M815 405h1m1 0h49m1 0h2m2 0h2m49 0h1m6 0h1m3 0h3m2 0h2m9 0h4m1 0h2m1 0h1m3 0h6m3 0h1m1 0h1m2 0h1m4 0h1m3 0h1m6 0h2m4 0h3m3 0h2m2 0h8M817 406h54m93 0h1m12 0h1m15 0h1m1 0h2m1 0h3m2 0h1m1 0h5m2 0h5m2 0h2M816 407h48m3 0h1m2 0h1m119 0h1m2 0h1m1 0h2m2 0h2m4 0h1m1 0h1m1 0h7m3 0h1m2 0h1M818 408h36m1 0h6m1 0h4m1 0h1m2 0h1m139 0h2m3 0h2m5 0h1M817 409h41m4 0h1m1 0h7m125 0h1m8 0h2m1 0h1m4 0h1m1 0h1m7 0h1m12 0h1M819 410h6m1 0h15m1 0h25m133 0h1m11 0h3m9 0h1m19 0h1m1 0h1M817 411h2m1 0h6m1 0h12m1 0h11m1 0h14m1 0h3m33 0h3m1 0h1m4 0h1m1 0h1m8 0h1m2 0h1m5 0h2m2 0h2m1 0h1m62 0h3m2 0h1m2 0h5m2 0h2m2 0h1m4 0h1m4 0h3m1 0h2m3 0h1m1 0h3m2 0h2M817 412h22m1 0h2m1 0h24m3 0h1m8 0h1m6 0h2m10 0h2m1 0h1m1 0h2m1 0h1m2 0h2m2 0h2m1 0h1m1 0h2m8 0h5m2 0h4m1 0h1m1 0h1m2 0h2m1 0h1m6 0h1m1 0h1m11 0h1m4 0h3m20 0h3m2 0h1m1 0h1m1 0h2m3 0h1m5 0h1m3 0h3m1 0h1m1 0h4m1 0h1m1 0h1m3 0h2m1 0h1m1 0h3m1 0h1m2 0h1M818 413h20m1 0h3m2 0h3m1 0h1m1 0h2m1 0h14m1 0h1m1 0h1m12 0h1m4 0h1m6 0h1m1 0h1m3 0h1m6 0h4m1 0h1m9 0h1m1 0h1m4 0h1m2 0h1m3 0h1m1 0h1m4 0h1m2 0h1m7 0h1m1 0h4m5 0h3m1 0h2m4 0h3m16 0h1m8 0h1m1 0h1m2 0h2m6 0h5m1 0h1m1 0h2m1 0h1m1 0h2m2 0h2m1 0h4m8 0h1M816 414h1m1 0h21m1 0h4m1 0h21m2 0h1m3 0h1m1 0h1m6 0h1m3 0h1m1 0h1m4 0h1m1 0h1m5 0h1m1 0h2m9 0h3m1 0h1m1 0h4m7 0h1m1 0h1m1 0h1m1 0h1m1 0h2m3 0h1m5 0h2m11 0h3m2 0h1m4 0h3m5 0h1m4 0h1m2 0h1m18 0h1m1 0h2m5 0h1m1 0h1m4 0h5m9 0h4M817 415h2m1 0h19m3 0h2m1 0h10m1 0h11m1 0h5m4 0h1m6 0h3m4 0h1m1 0h1m3 0h2m1 0h2m2 0h2m1 0h1m1 0h1m1 0h4m2 0h1m1 0h1m4 0h2m6 0h1m1 0h2m13 0h1m1 0h1m1 0h2m5 0h3m4 0h3m6 0h3m2 0h1m8 0h1m5 0h1m30 0h1M816 416h21m1 0h4m1 0h24m24 0h1m2 0h1m13 0h1m21 0h1m4 0h1m28 0h1m12 0h1m3 0h1m8 0h1m11 0h2M818 417h23m2 0h1m1 0h20m1 0h1m3 0h2m11 0h2m2 0h2m1 0h2m6 0h1m2 0h1m13 0h1m7 0h1m4 0h5m6 0h2m3 0h1m2 0h2m1 0h1m2 0h1m3 0h4m1 0h1m5 0h1m1 0h1m1 0h1m1 0h1m1 0h1m1 0h2m1 0h1m3 0h2m11 0h1m1 0h2M819 418h20m1 0h2m3 0h23m1 0h1m1 0h2m9 0h1m7 0h2m1 0h1m1 0h3m1 0h2m4 0h1m2 0h3m1 0h4m1 0h4m2 0h1m2 0h5m2 0h1m1 0h1m1 0h6m2 0h1m6 0h1m4 0h3m1 0h1m3 0h3m2 0h1m7 0h1m1 0h1m2 0h2m1 0h1m3 0h1m4 0h1M819 419h1m1 0h17m1 0h26m1 0h1m8 0h1m2 0h1m4 0h1m2 0h1m4 0h6m1 0h13m2 0h3m6 0h1m3 0h2m2 0h4m1 0h3m1 0h1m4 0h1m4 0h1m2 0h2m1 0h6m1 0h3m1 0h1m2 0h3m1 0h1m8 0h1m62 0h1M817 420h1m1 0h3m1 0h17m1 0h2m1 0h20m1 0h1m17 0h2m3 0h2m3 0h2m1 0h4m1 0h1m4 0h1m1 0h2m1 0h7m2 0h1m3 0h3m5 0h1m2 0h1m1 0h1m4 0h1m5 0h5m1 0h1m2 0h3m2 0h6m1 0h1m70 0h1m1 0h1m2 0h1m1 0h2M817 421h21m2 0h2m1 0h21m1 0h1m16 0h2m1 0h2m11 0h1m2 0h1m2 0h1m1 0h2m5 0h1m28 0h1m7 0h1m2 0h1m1 0h2m2 0h1m1 0h2m1 0h3m1 0h2m1 0h2m70 0h1m8 0h1M817 422h1m1 0h1m1 0h22m1 0h19m1 0h1m11 0h4m1 0h2m1 0h2m1 0h2m1 0h5m5 0h2m4 0h1m2 0h3m17 0h1m1 0h1m7 0h1m4 0h1m1 0h1m1 0h4m3 0h3m2 0h1m3 0h1m1 0h2m1 0h4m1 0h1m1 0h1m64 0h1m2 0h4m1 0h1m2 0h1M819 423h46m1 0h1m7 0h1m1 0h1m1 0h1m6 0h1m2 0h8m21 0h2m1 0h1m1 0h1m4 0h1m1 0h2m3 0h1m6 0h1m3 0h1m2 0h2m2 0h1m6 0h2m6 0h1m3 0h1m1 0h1m2 0h1m65 0h1m2 0h2M817 424h46m8 0h2m1 0h1m6 0h3m1 0h1m6 0h2m6 0h1m3 0h2m9 0h2m1 0h1m3 0h1m1 0h1m1 0h1m2 0h1m13 0h2m4 0h2m1 0h2m3 0h2m7 0h2m3 0h1m5 0h1m1 0h1m66 0h1M818 425h45m9 0h2m2 0h2m2 0h2m1 0h3m5 0h3m6 0h4m2 0h1m2 0h1m5 0h1m3 0h1m3 0h1m1 0h3m1 0h4m2 0h1m1 0h1m2 0h1m1 0h4m3 0h2m1 0h1m1 0h1m1 0h2m1 0h4m1 0h1m5 0h3m3 0h3m2 0h1m20 0h1M817 426h1m1 0h21m1 0h1m1 0h20m3 0h6m2 0h5m4 0h1m2 0h4m3 0h3m1 0h4m6 0h1m2 0h5m1 0h1m3 0h1m2 0h1m1 0h5m2 0h2m1 0h1m2 0h15m3 0h4m1 0h2m2 0h4m1 0h2m3 0h7m1 0h1m11 0h5m1 0h1m1 0h1m1 0h1m5 0h1m34 0h1M817 427h1m1 0h43m1 0h1m1 0h1m1 0h2m1 0h8m2 0h1m2 0h1m4 0h4m1 0h1m2 0h1m2 0h1m5 0h3m1 0h3m1 0h7m5 0h3m2 0h1m1 0h13m2 0h2m2 0h4m1 0h1m2 0h18m1 0h3m2 0h4m2 0h1m1 0h2m1 0h2m2 0h2m5 0h5m1 0h1m4 0h3M820 428h22m1 0h4m1 0h14m2 0h1m1 0h2m8 0h3m2 0h1m2 0h2m1 0h2m3 0h1m1 0h3m3 0h1m1 0h1m3 0h1m2 0h1m1 0h1m2 0h1m7 0h2m2 0h3m1 0h1m1 0h1m2 0h2m5 0h1m3 0h2m2 0h3m2 0h7m1 0h2m5 0h1m1 0h1m4 0h2m1 0h1m2 0h3m2 0h2m1 0h2m1 0h1m3 0h2m1 0h1m20 0h1M818 429h35m1 0h11m4 0h1m6 0h1m4 0h1m2 0h1m4 0h1m1 0h1m6 0h1m2 0h1m1 0h1m1 0h6m9 0h1m1 0h1m2 0h1m2 0h4m5 0h6m5 0h1m1 0h1m11 0h2m1 0h2m1 0h3m1 0h5m1 0h1m5 0h1m12 0h1m3 0h4m2 0h1m9 0h1m3 0h2M817 430h2m1 0h42m16 0h1m5 0h3m7 0h1m1 0h2m2 0h1m3 0h1m4 0h2m5 0h1m1 0h3m4 0h1m2 0h1m5 0h1m2 0h2m1 0h10m5 0h3m7 0h1m3 0h1m1 0h7m1 0h1m1 0h4m1 0h1m1 0h3m11 0h2m3 0h1m4 0h3m1 0h1m3 0h1M817 431h1m1 0h48m1 0h4m2 0h1m1 0h5m4 0h1m3 0h9m3 0h1m3 0h1m2 0h2m2 0h1m1 0h3m1 0h2m1 0h9m1 0h1m1 0h1m1 0h2m1 0h17m2 0h4m1 0h2m1 0h13m1 0h3m1 0h5m3 0h1m4 0h2m2 0h3m1 0h1m1 0h1m1 0h4M819 432h1m1 0h41m1 0h1m3 0h1m1 0h1m1 0h2m5 0h4m3 0h2m2 0h1m1 0h2m1 0h1m3 0h2m2 0h7m2 0h1m1 0h3m2 0h1m5 0h2m3 0h3m2 0h2m1 0h3m3 0h1m1 0h6m4 0h1m1 0h1m5 0h4m2 0h2m2 0h5m1 0h3m2 0h2m13 0h2m5 0h1M819 433h12m3 0h9m1 0h16m1 0h1m6 0h4m1 0h1m3 0h1m1 0h1m1 0h3m1 0h1m1 0h1m1 0h2m2 0h1m3 0h1m1 0h3m2 0h2m3 0h1m2 0h1m1 0h1m2 0h3m3 0h3m4 0h2m2 0h1m1 0h6m1 0h3m2 0h10m1 0h2m1 0h2m1 0h4m4 0h5m2 0h1m1 0h1M821 434h10m1 0h1m1 0h1m1 0h22m1 0h3m1 0h1m1 0h2m1 0h2m1 0h4m1 0h3m2 0h2m3 0h1m3 0h1m1 0h5m2 0h2m1 0h3m1 0h1m1 0h1m1 0h1m1 0h1m3 0h3m1 0h1m1 0h1m1 0h2m1 0h2m1 0h3m2 0h1m1 0h5m1 0h1m2 0h4m2 0h5m1 0h5m2 0h1m2 0h1m1 0h5m2 0h3m1 0h1m1 0h1M821 435h21m1 0h15m10 0h1m1 0h1m1 0h1m1 0h1m6 0h1m1 0h1m2 0h3m1 0h1m1 0h5m1 0h5m2 0h1m2 0h1m1 0h1m1 0h2m2 0h2m1 0h1m3 0h2m2 0h1m1 0h1m1 0h1m1 0h2m9 0h2m1 0h1m1 0h1m2 0h1m1 0h4m4 0h1m1 0h1m2 0h1m1 0h3m2 0h1m1 0h7M819 436h1m1 0h38m5 0h3m1 0h1m1 0h1m1 0h1m1 0h7m1 0h1m2 0h2m1 0h2m2 0h10m4 0h1m1 0h2m2 0h1m1 0h2m2 0h1m3 0h1m1 0h2m5 0h4m1 0h3m1 0h8m1 0h4m1 0h1m1 0h1m2 0h15m1 0h3m1 0h2m1 0h1m1 0h2M820 437h42m4 0h2m1 0h3m3 0h2m2 0h6m3 0h2m3 0h2m1 0h3m1 0h7m1 0h1m1 0h13m2 0h4m1 0h1m3 0h1m1 0h1m3 0h35m1 0h7M819 438h42m10 0h1m4 0h1m2 0h2m4 0h1m6 0h1m2 0h2m2 0h3m1 0h1m3 0h1m1 0h1m6 0h1m2 0h1m2 0h4m4 0h1m4 0h2m1 0h1m2 0h5m1 0h1m2 0h1m1 0h1m3 0h9m3 0h1m4 0h1m2 0h2m5 0h1M819 439h41m8 0h3m4 0h4m4 0h1m1 0h2m1 0h5m1 0h4m1 0h1m1 0h3m1 0h9m4 0h1m3 0h3m4 0h1m4 0h2m2 0h2m3 0h1m1 0h4m3 0h2m2 0h4m1 0h1m1 0h1m1 0h1m1 0h5m1 0h1m1 0h5m1 0h1M819 440h39m1 0h1m12 0h4m6 0h1m1 0h1m2 0h1m5 0h2m10 0h3m1 0h3m4 0h1m1 0h1m1 0h2m4 0h5m2 0h2m3 0h1m2 0h2m3 0h3m2 0h2m4 0h4m1 0h2m1 0h1m1 0h3m1 0h6M818 441h1m1 0h40m8 0h1m2 0h10m2 0h1m2 0h14m1 0h9m1 0h4m1 0h13m1 0h8m2 0h4m2 0h10m1 0h25M818 442h42m13 0h1m1 0h1m1 0h3m3 0h7m3 0h3m1 0h1m5 0h1m1 0h4m5 0h1m4 0h1m1 0h8m1 0h2m4 0h1m1 0h1m5 0h4m3 0h5m1 0h7m3 0h1m1 0h1m2 0h2m4 0h2m3 0h1m3 0h1m2 0h1m4 0h1M819 443h8m1 0h30m20 0h11m1 0h1m2 0h12m1 0h19m1 0h8m1 0h1m1 0h5m1 0h2m2 0h2m1 0h23m1 0h1m1 0h7m3 0h14m2 0h2m3 0h1m6 0h1m5 0h1M817 444h37m3 0h1m18 0h3m5 0h5m3 0h2m1 0h10m5 0h1m1 0h1m1 0h2m1 0h1m4 0h1m4 0h1m1 0h2m1 0h2m1 0h3m1 0h1m4 0h3m4 0h1m1 0h6m1 0h1m2 0h2m3 0h3m4 0h1m1 0h4m1 0h3m3 0h3m6 0h1m2 0h1m4 0h4m1 0h1m1 0h1m10 0h1M819 445h39m1 0h1m19 0h1m3 0h2m2 0h13m1 0h3m1 0h1m1 0h2m1 0h1m1 0h3m5 0h10m1 0h1m1 0h1m5 0h1m4 0h2m2 0h6m1 0h2m7 0h2m1 0h5m8 0h4m2 0h1m1 0h1m1 0h4m1 0h1m1 0h1m14 0h3M818 446h37m29 0h4m1 0h11m1 0h10m1 0h4m3 0h4m3 0h1m8 0h4m2 0h1m1 0h3m5 0h8m1 0h5m4 0h4m1 0h2m1 0h2m4 0h1m3 0h2m2 0h1m10 0h1M821 447h1m1 0h1m1 0h15m1 0h14m1 0h2m33 0h2m4 0h1m2 0h1m1 0h1m9 0h1m2 0h1m2 0h3M816 448h1m2 0h1m1 0h23m1 0h13m23 0h3m6 0h1m27 0h1M817 449h15m1 0h24m1 0h1m17 0h1m8 0h1m1 0h1m1 0h1m16 0h1m7 0h1M817 450h25m1 0h11m1 0h3m16 0h2m1 0h4m3 0h1m1 0h2M817 451h14m1 0h2m1 0h2m1 0h6m1 0h10m1 0h2m19 0h5m2 0h1m3 0h2m1 0h1M815 452h25m1 0h15m1 0h1m16 0h8m1 0h6m1 0h1M816 453h39m18 0h5m1 0h2m1 0h9M816 454h1m1 0h4m1 0h33m7 0h1m3 0h2m4 0h5m1 0h2m2 0h1m1 0h1m1 0h1m2 0h2M815 455h40m3 0h1m3 0h1m1 0h2m1 0h3m4 0h4m1 0h1m1 0h1m2 0h2m2 0h1m1 0h1m15 0h2M816 456h3m1 0h15m2 0h2m1 0h16m5 0h1m1 0h1m1 0h1m11 0h4m4 0h2m4 0h1m12 0h1m4 0h2M816 457h20m2 0h16m1 0h1m2 0h6m4 0h1m6 0h2m1 0h4m6 0h1m4 0h4m2 0h1m1 0h1m1 0h1m3 0h2m1 0h2M815 458h36m1 0h3m5 0h1m2 0h3m1 0h5m4 0h1m7 0h1m7 0h1m6 0h1m1 0h1m2 0h1m2 0h2m8 0h1M817 459h37m1 0h5m4 0h3m2 0h1m1 0h1m9 0h1m1 0h2m12 0h1m5 0h1m1 0h3m4 0h2M815 460h1m1 0h17m1 0h17m1 0h1m2 0h1m1 0h2m2 0h4m1 0h3m1 0h1m1 0h1m7 0h1m3 0h1m2 0h1m6 0h1m4 0h4m2 0h1m2 0h2m1 0h3M815 461h39m3 0h4m2 0h1m1 0h3m22 0h2m1 0h1m5 0h1m1 0h1m2 0h2m1 0h1m2 0h3m1 0h5M814 462h20m1 0h2m1 0h18m1 0h3m3 0h1m1 0h1m1 0h7m18 0h1m1 0h3m1 0h3m4 0h1m3 0h1m1 0h1m6 0h1m3 0h1m15 0h2m1 0h1M816 463h22m1 0h20m1 0h3m4 0h6m17 0h2m7 0h2m1 0h1m1 0h3m2 0h1m2 0h3m25 0h2m3 0h1M815 464h31m1 0h4m1 0h4m8 0h1m2 0h2m3 0h2m22 0h4m1 0h1m2 0h1m5 0h1m3 0h1m3 0h2m2 0h1m2 0h1m3 0h1m5 0h1m2 0h1m2 0h1m3 0h2M815 465h42m2 0h3m2 0h2m5 0h1m1 0h2m27 0h1m1 0h1m4 0h1m2 0h2m1 0h1m2 0h1m4 0h2m6 0h1m5 0h3m2 0h1M814 466h8m1 0h1m1 0h11m1 0h11m1 0h9m5 0h5m1 0h3m27 0h2m1 0h1m3 0h1m3 0h1m3 0h1m2 0h6m3 0h1m4 0h1m4 0h1m6 0h1m12 0h1M815 467h24m1 0h7m1 0h11m1 0h5m1 0h3m7 0h1m25 0h1m4 0h2m10 0h1m2 0h2m2 0h1m5 0h1m4 0h4m3 0h1m2 0h1M816 468h16m2 0h2m1 0h20m1 0h2m3 0h1m3 0h1m1 0h1m6 0h1m28 0h2m4 0h1m3 0h1m6 0h2m9 0h2m2 0h1m3 0h1m6 0h1m1 0h1m2 0h1M815 469h5m1 0h17m1 0h3m1 0h1m2 0h3m1 0h15m1 0h3m2 0h3m1 0h1m22 0h1m1 0h1m3 0h1m1 0h1m1 0h1m5 0h1m2 0h1m1 0h2m6 0h1m1 0h4m3 0h1m2 0h2m1 0h1m2 0h1m1 0h3m2 0h1m1 0h2M813 470h1m1 0h25m2 0h2m1 0h13m1 0h7m2 0h2m1 0h5m27 0h1m1 0h1m1 0h2m2 0h1m1 0h3m2 0h1m10 0h1m1 0h2m6 0h2m3 0h1m2 0h1m8 0h1M813 471h23m1 0h18m2 0h3m3 0h8m1 0h2m31 0h5m1 0h1m1 0h1m3 0h3m4 0h1m1 0h1m7 0h1m3 0h1m1 0h2m1 0h1m9 0h1M812 472h29m1 0h25m2 0h5m1 0h1m1 0h1m32 0h1m3 0h3m3 0h4m4 0h6m2 0h1m3 0h1m2 0h1m1 0h1M813 473h9m1 0h19m1 0h20m1 0h3m1 0h6m1 0h1m41 0h12m10 0h1M812 474h1m1 0h16m1 0h10m1 0h10m1 0h6m1 0h2m1 0h3m4 0h6m41 0h2m2 0h5m1 0h1m2 0h1M812 475h15m1 0h9m1 0h39m39 0h6m2 0h3m1 0h4M811 476h1m2 0h18m1 0h1m1 0h10m1 0h21m1 0h1m1 0h1m1 0h2m1 0h1m40 0h1m1 0h1m1 0h2m3 0h4m1 0h3M810 477h1m1 0h1m1 0h25m1 0h16m4 0h4m5 0h2m3 0h1m40 0h1m3 0h1m1 0h2m1 0h2m2 0h3m1 0h1M811 478h28m1 0h20m3 0h1m4 0h2m3 0h1m39 0h1m2 0h2m1 0h1M813 479h40m1 0h1m1 0h4m2 0h3m5 0h2m1 0h1m41 0h5m1 0h1m3 0h1m1 0h1m4 0h2M811 480h14m1 0h1m1 0h7m1 0h15m1 0h21m1 0h1m39 0h1m1 0h18M811 481h18m2 0h4m1 0h21m2 0h3m1 0h2m3 0h1m1 0h4m38 0h1m1 0h1m3 0h1m1 0h2m1 0h1m1 0h2m1 0h2m2 0h2M810 482h11m1 0h15m1 0h3m2 0h4m1 0h4m5 0h8m3 0h1m4 0h1m1 0h1m42 0h1m2 0h1m2 0h2M812 483h44m1 0h5m2 0h2m2 0h5m45 0h1m1 0h1m3 0h1m1 0h1m1 0h2m1 0h3m7 0h1M810 484h23m1 0h17m1 0h4m1 0h6m1 0h1m3 0h1m2 0h1m41 0h1m2 0h1m1 0h1m1 0h2m3 0h3m13 0h1M809 485h2m1 0h4m1 0h11m1 0h22m1 0h13m1 0h1m3 0h1m1 0h1m42 0h3m3 0h4m1 0h3m1 0h4m1 0h4m1 0h3M810 486h18m1 0h12m1 0h10m1 0h2m1 0h9m3 0h4m42 0h2m2 0h6m4 0h2m1 0h2m1 0h1m1 0h1m4 0h5m1 0h1M809 487h35m1 0h5m3 0h2m2 0h5m8 0h3m1 0h1m44 0h1m1 0h1m1 0h1m1 0h1m1 0h2m7 0h2m1 0h2m4 0h1M809 488h1m1 0h14m1 0h3m1 0h1m2 0h3m1 0h17m1 0h7m7 0h3m43 0h1m1 0h1m3 0h4m1 0h2m4 0h1m1 0h1m1 0h7m1 0h1m1 0h1M809 489h7m1 0h5m1 0h7m1 0h18m1 0h11m1 0h1m2 0h1m1 0h2m1 0h1m43 0h1m5 0h1m3 0h1m1 0h1m1 0h2m5 0h3m3 0h1m2 0h1M810 490h19m2 0h5m1 0h25m1 0h4m1 0h2m46 0h2m1 0h2m4 0h1m1 0h2m5 0h1m5 0h3M808 491h1m1 0h10m1 0h15m1 0h20m1 0h3m1 0h5m48 0h1m2 0h4m8 0h2m3 0h2M809 492h30m1 0h1m1 0h4m1 0h15m1 0h2m1 0h1m1 0h1m47 0h1m1 0h1m1 0h3m6 0h1M809 493h1m1 0h18m1 0h33m1 0h4m40 0h3m4 0h3m2 0h3m4 0h1m1 0h1M809 494h22m1 0h12m3 0h1m1 0h1m1 0h12m46 0h2m2 0h1m7 0h1m1 0h3m1 0h1M807 495h1m1 0h6m1 0h1m1 0h44m50 0h1m1 0h1m1 0h1m5 0h1m1 0h2m2 0h1M807 496h9m1 0h2m1 0h38m2 0h5m29 0h1m14 0h10m1 0h3m1 0h3M809 497h17m1 0h28m1 0h9m21 0h1m3 0h1m5 0h1m2 0h2m9 0h3m2 0h2m3 0h2m2 0h2M807 498h1m1 0h8m1 0h16m1 0h4m1 0h2m1 0h4m1 0h1m1 0h4m2 0h7m1 0h1m1 0h1m22 0h1m3 0h2m1 0h1m2 0h1m11 0h1m8 0h1m1 0h1M808 499h2m1 0h15m1 0h9m1 0h2m1 0h17m1 0h7m18 0h3m6 0h3m3 0h1m3 0h1m1 0h1m12 0h2M806 500h7m1 0h3m1 0h4m1 0h4m1 0h28m1 0h4m1 0h2m18 0h3m2 0h5m1 0h5m1 0h5m1 0h1m1 0h1M807 501h3m1 0h1m1 0h5m1 0h23m1 0h23m13 0h2m2 0h4m4 0h6m3 0h3m1 0h2M807 502h8m2 0h14m1 0h25m2 0h5m18 0h2m2 0h1m2 0h1m1 0h6m3 0h1m1 0h1m1 0h2M807 503h14m1 0h8m2 0h1m1 0h9m1 0h8m2 0h10m1 0h1m24 0h1m5 0h2m1 0h1m2 0h1m2 0h1m1 0h1M805 504h1m2 0h4m1 0h8m1 0h10m1 0h3m2 0h3m1 0h11m1 0h10m1 0h1m17 0h10m1 0h4m2 0h3m2 0h1m1 0h1M807 505h29m1 0h12m1 0h1m1 0h11m2 0h1m17 0h1m1 0h5m2 0h1m4 0h1m3 0h2m2 0h2M807 506h2m1 0h26m1 0h15m1 0h12m15 0h1m1 0h1m4 0h1m1 0h1m2 0h3m1 0h1m2 0h1m1 0h3M806 507h1m1 0h9m1 0h2m1 0h8m1 0h23m1 0h5m3 0h2m2 0h1m18 0h2m2 0h1m4 0h1m6 0h1m1 0h1m5 0h1m3 0h5m1 0h1m4 0h1m3 0h1m2 0h1M808 508h6m1 0h1m1 0h1m1 0h18m1 0h8m1 0h14m1 0h3m1 0h2m18 0h2m2 0h2m2 0h1m2 0h1m10 0h1m2 0h3m1 0h3m3 0h2m3 0h2m2 0h2m1 0h1m1 0h1M809 509h5m1 0h1m3 0h17m1 0h7m1 0h3m1 0h1m1 0h3m1 0h2m1 0h3m1 0h2m24 0h1m9 0h1m6 0h1m4 0h2m4 0h6m1 0h4m1 0h1m1 0h1" stroke="#000" stroke-width="1" fill="none" shape-rendering="crispEdges"/>
<rect x="804.5" y="348.5" width="249" height="161" fill="none" stroke="#262626" stroke-width="1"/>
<path d="M810.5 349v2M810.5 509v-1.2M869.5 349v2M869.5 509v-1.2M928.5 349v2M928.5 509v-1.2M986.5 349v2M986.5 509v-1.2M1045.5 349v2M1045.5 509v-1.2M805 380.5h2M1053 380.5h-1.2M805 412.5h2M1053 412.5h-1.2M805 445.5h2M1053 445.5h-1.2M805 477.5h2M1053 477.5h-1.2" stroke="#262626" stroke-width="1" fill="none"/>
<text transform="translate(789.68 354.00)" font-size="15.27" fill="#262626">0</text>
<text transform="translate(780.16 386.00)" font-size="15.27" fill="#262626" letter-spacing="1.157">50</text>
<text transform="translate(770.55 418.00)" font-size="15.27" fill="#262626" letter-spacing="1.134">100</text>
<text transform="translate(770.55 450.00)" font-size="15.27" fill="#262626" letter-spacing="1.134">150</text>
<text transform="translate(770.40 482.00)" font-size="15.27" fill="#262626" letter-spacing="1.211">200</text>
<text transform="translate(770.40 515.00)" font-size="15.27" fill="#262626" letter-spacing="1.211">250</text>
<text transform="translate(806.55 339.00)" font-size="15.27" fill="#262626">0</text>
<text transform="translate(865.08 339.00)" font-size="15.27" fill="#262626">1</text>
<text transform="translate(923.55 339.00)" font-size="15.27" fill="#262626">2</text>
<text transform="translate(982.37 339.00)" font-size="15.27" fill="#262626">3</text>
<text transform="translate(1040.95 339.00)" font-size="15.27" fill="#262626">4</text>
<text transform="translate(874.23 320.00) scale(1.05 1)" font-size="16.80" fill="#262626" letter-spacing="0.685">bbp470 (m</text>
<text transform="translate(964.58 313.00)" font-size="13.44" fill="#262626" letter-spacing="0.604">-1</text>
<text transform="translate(978.43 320.00) scale(1.05 1)" font-size="16.80" fill="#262626">)</text>
<text transform="translate(1040.58 312.70)" font-size="12.22" fill="#262626" letter-spacing="0.636">-3</text>
<text transform="translate(1021.93 320.00)" font-size="15.27" fill="#262626" letter-spacing="1.218">10</text>
<path d="M1011.45 312.70L1018.25 319.50M1011.45 319.50L1018.25 312.70" stroke="#262626" stroke-width="0.8" fill="none"/>
</g>
<g id="p7">
<path transform="translate(0,.5)" d="M220 607h66m1 0h49M219 608h1m1 0h107m1 0h4m1 0h1m4 0h3m1 0h1M212 609h16m1 0h69m1 0h43m3 0h1M207 610h127m1 0h5m2 0h2m1 0h1M197 611h87m1 0h48m2 0h1m3 0h1M192 612h64m1 0h74m2 0h3m7 0h1M187 613h77m1 0h69m2 0h1m2 0h2M184 614h26m1 0h8m1 0h67m1 0h9m1 0h31m1 0h2m1 0h1m1 0h4m1 0h1m1 0h1m2 0h1M186 615h63m1 0h64m1 0h14m8 0h1m1 0h1M184 616h20m1 0h20m1 0h40m1 0h33m1 0h4m1 0h23m7 0h1M167 617h2m3 0h5m2 0h33m1 0h20m1 0h32m1 0h26m1 0h31m1 0h1M169 618h116m1 0h5m1 0h23M180 619h83m2 0h9m1 0h12m1 0h24M177 620h1m1 0h74m1 0h18m1 0h4m2 0h14m1 0h11m2 0h1M176 621h1m1 0h11m1 0h18m1 0h3m1 0h59m1 0h32M175 622h1m1 0h32m2 0h21m1 0h71M173 623h38m1 0h26m1 0h3m3 0h49M173 624h25m1 0h14m1 0h74M173 625h69m1 0h2m1 0h24m1 0h10M172 626h92m1 0h13M172 627h4m2 0h95m1 0h1M172 628h3m1 0h1m1 0h69m1 0h19m2 0h1m2 0h1M168 629h1m2 0h6m1 0h88m1 0h2m8 0h1m3 0h1m3 0h1m9 0h1M167 630h4m2 0h88m2 0h1m1 0h1m1 0h1m1 0h1m1 0h5m4 0h1m1 0h1m2 0h1m1 0h1m13 0h1M165 631h1m1 0h30m1 0h56m1 0h8m1 0h2m3 0h2m1 0h1m3 0h3m1 0h1m2 0h3m1 0h2m2 0h3m1 0h1m8 0h1M166 632h38m1 0h45m1 0h5m1 0h2m1 0h2m1 0h1m2 0h4m1 0h1m1 0h1m5 0h5m1 0h1m3 0h3m4 0h2m3 0h1m1 0h1M161 633h1m2 0h7m1 0h88m1 0h1m2 0h5m2 0h1m2 0h3m15 0h2m1 0h4m1 0h2M162 634h7m1 0h71m1 0h1m1 0h14m1 0h1m4 0h4m4 0h4m5 0h1m1 0h1m4 0h5m1 0h1m3 0h5M158 635h1m3 0h12m1 0h1m1 0h78m3 0h1m2 0h1m1 0h2m4 0h1m12 0h1m3 0h1m1 0h1m6 0h3M158 636h2m1 0h1m1 0h13m1 0h66m1 0h2m1 0h1m1 0h4m2 0h1m3 0h1m5 0h3m3 0h1m2 0h1m1 0h2m7 0h1m7 0h1m1 0h1m1 0h1m9 0h1M159 637h3m1 0h73m3 0h1m1 0h1m4 0h1m4 0h1m1 0h2m6 0h1m2 0h2m3 0h1m1 0h1m1 0h2m1 0h2m5 0h1m6 0h1m3 0h2M160 638h70m3 0h4m5 0h2m1 0h4m1 0h4m4 0h1m1 0h3m7 0h1m1 0h1m5 0h1m1 0h2m1 0h1m2 0h1m6 0h3M160 639h63m1 0h1m1 0h12m1 0h2m1 0h27m1 0h3m4 0h8m1 0h1m1 0h1m5 0h1M157 640h1m1 0h8m1 0h1m1 0h53m7 0h3m1 0h2m1 0h4m2 0h1m5 0h5m1 0h4m1 0h1m2 0h5m1 0h3m4 0h1m2 0h2m7 0h1M159 641h7m2 0h51m1 0h1m2 0h1m2 0h2m1 0h4m5 0h1m4 0h2m2 0h2m2 0h3m1 0h1m2 0h1m3 0h1m6 0h1m1 0h1m3 0h1M158 642h8m2 0h2m1 0h22m1 0h21m1 0h3m3 0h1m1 0h2m1 0h2m1 0h1m3 0h3m3 0h2m2 0h5m3 0h1m2 0h2m1 0h2m1 0h7m1 0h3m1 0h2M158 643h6m1 0h2m1 0h2m1 0h24m1 0h22m3 0h8m1 0h7m1 0h7m1 0h12m1 0h6m2 0h5m2 0h2M159 644h6m4 0h1m1 0h29m1 0h18m1 0h3m1 0h1m3 0h3m1 0h1m2 0h3m1 0h2m3 0h2m2 0h1m2 0h3m3 0h1m1 0h2m2 0h1m1 0h6m2 0h1m3 0h1m3 0h1M158 645h8m1 0h18m3 0h2m1 0h28m1 0h1m5 0h14m1 0h1m1 0h3m1 0h6m2 0h4m1 0h3m2 0h1m1 0h1m7 0h2M161 646h3m5 0h16m1 0h20m1 0h3m1 0h7m2 0h1m2 0h1m1 0h1m7 0h3m1 0h2m1 0h1m1 0h1m2 0h6m5 0h1m1 0h4m1 0h4m1 0h1m1 0h3m2 0h2M160 647h5m1 0h2m1 0h9m1 0h8m2 0h36m1 0h1m8 0h3m1 0h3m3 0h1m1 0h3m2 0h1m1 0h4m1 0h3m1 0h4m1 0h1M159 648h7m1 0h2m1 0h1m1 0h3m1 0h1m2 0h7m1 0h3m1 0h20m1 0h17m1 0h35M159 649h5m5 0h45m1 0h6m1 0h1m1 0h5m2 0h1m1 0h3m1 0h6m1 0h9m1 0h3m1 0h1M159 650h4m1 0h1m1 0h4m1 0h1m1 0h20m2 0h20m1 0h1m6 0h6m3 0h1m3 0h1m1 0h1m2 0h1m4 0h1m3 0h1m4 0h3m8 0h1M158 651h1m1 0h5m1 0h1m6 0h41m7 0h1m1 0h1m1 0h3m3 0h5m4 0h2m5 0h2m1 0h2m1 0h1m2 0h2m2 0h1m1 0h3M160 652h1m1 0h5m3 0h34m1 0h4m1 0h3m1 0h1m5 0h1m7 0h3m1 0h1m1 0h1m2 0h1m1 0h1m1 0h1m2 0h2m2 0h2m4 0h2m1 0h3m3 0h1m3 0h1M160 653h9m1 0h1m1 0h16m1 0h26m3 0h2m2 0h1m3 0h1m2 0h1m4 0h2m4 0h1m7 0h2m2 0h1m5 0h1m3 0h1M160 654h9m3 0h83m1 0h4m1 0h3m1 0h1m1 0h3M161 655h3m4 0h3m1 0h35m2 0h56m2 0h2M161 656h2m1 0h4m1 0h34m1 0h12m1 0h1m4 0h14m1 0h6m1 0h9m2 0h6m4 0h1M159 657h1m1 0h7m1 0h2m1 0h43m1 0h3m1 0h2m4 0h1m1 0h1m1 0h1m2 0h1m2 0h4m1 0h3m1 0h4m2 0h1m1 0h2m1 0h2m3 0h1M158 658h1m2 0h4m1 0h5m1 0h39m2 0h5m1 0h1m2 0h1m1 0h3m1 0h2m2 0h1m1 0h5m3 0h1m1 0h1m2 0h1m1 0h3m1 0h1m4 0h1M161 659h3m3 0h2m1 0h55m1 0h25m1 0h2m2 0h2M162 660h3m3 0h1m1 0h45m3 0h1m1 0h4m1 0h1m7 0h2m1 0h4m1 0h1m1 0h3m1 0h1m1 0h1m1 0h1m2 0h1M159 661h6m1 0h1m1 0h1m1 0h9m1 0h31m1 0h1m1 0h2m2 0h1m1 0h2m1 0h1m1 0h1m5 0h1m8 0h2m13 0h1m55 0h1M161 662h7m2 0h3m1 0h35m1 0h1m5 0h1m6 0h1m1 0h2m1 0h2m1 0h1m3 0h1m4 0h2m1 0h1m1 0h1m1 0h1m1 0h4m12 0h2m1 0h1m10 0h1m4 0h1m1 0h3m1 0h1m1 0h1m8 0h4m1 0h1m5 0h1m5 0h1m2 0h3m5 0h2m6 0h1M160 663h27m2 0h20m1 0h4m1 0h5m2 0h11m1 0h7m1 0h2m16 0h2m1 0h1m1 0h2m2 0h4m1 0h8m1 0h3m1 0h1m1 0h2m1 0h1m1 0h2m2 0h3m1 0h4m1 0h1m2 0h1m1 0h1m1 0h1m3 0h2m1 0h1m2 0h1m1 0h3m3 0h4m2 0h2m5 0h1M160 664h8m1 0h6m1 0h12m2 0h5m3 0h12m14 0h1m1 0h1m5 0h2m26 0h3m2 0h1m2 0h1m2 0h2m4 0h1m5 0h1m2 0h2m1 0h1m4 0h1m3 0h1m3 0h2m10 0h3m5 0h2m4 0h1m3 0h7m1 0h1m1 0h1m1 0h1m3 0h2M162 665h30m1 0h3m4 0h9m1 0h2m51 0h3m13 0h1m1 0h3m1 0h3m2 0h3m1 0h5m4 0h1m5 0h5m2 0h1m2 0h1m1 0h2m1 0h1m1 0h2m1 0h3m1 0h1m5 0h1m1 0h4m2 0h2m2 0h1M161 666h29m1 0h2m1 0h16m2 0h1m53 0h1m6 0h1m1 0h1m3 0h2m3 0h2m10 0h1m6 0h1m4 0h1m2 0h1m3 0h1m2 0h2m2 0h3m3 0h2m1 0h1M158 667h33m2 0h18m93 0h1m2 0h1m15 0h2m5 0h3m2 0h1m2 0h2m12 0h1M159 668h19m1 0h29m1 0h1m1 0h1m108 0h5m2 0h8m3 0h3m1 0h4m2 0h2m2 0h3m4 0h2m1 0h4m1 0h3M161 669h44m1 0h4m114 0h4m1 0h2m1 0h7m1 0h6m4 0h4m7 0h3m1 0h7m1 0h2M160 670h2m1 0h41m1 0h4m1 0h1m115 0h14m3 0h6m1 0h2m2 0h11m4 0h1m4 0h1m1 0h3M160 671h43m1 0h2m1 0h1m11 0h1m2 0h1m5 0h2m5 0h2m3 0h1m2 0h1m3 0h5m1 0h3m9 0h3m4 0h1m53 0h1m7 0h1m3 0h1m13 0h1m2 0h1m1 0h1m3 0h1m3 0h4m5 0h1M159 672h1m1 0h47m1 0h1m6 0h1m3 0h1m1 0h1m1 0h4m1 0h1m3 0h1m1 0h2m4 0h2m3 0h1m5 0h2m6 0h2m1 0h1m8 0h1m83 0h1m1 0h2m1 0h1m4 0h1M160 673h46m2 0h2m3 0h1m4 0h3m3 0h1m1 0h1m2 0h1m8 0h2m8 0h1m1 0h1m7 0h1m1 0h1m1 0h1m10 0h2M160 674h45m1 0h1m6 0h2m4 0h1m12 0h1m4 0h2m4 0h1m2 0h1m2 0h1m6 0h1m9 0h1m4 0h1m3 0h2m4 0h1M158 675h2m2 0h47m2 0h1m1 0h1m2 0h2m1 0h1m6 0h1m2 0h1m1 0h2m6 0h1m5 0h1m5 0h3m5 0h1m1 0h1m2 0h2m2 0h1m4 0h2m1 0h1m3 0h1m1 0h1m1 0h1M160 676h19m1 0h2m1 0h7m1 0h17m2 0h3m3 0h1m1 0h4m3 0h1m12 0h2m1 0h1m1 0h1m2 0h3m3 0h3m3 0h1m1 0h1m2 0h1m2 0h2m1 0h1m1 0h2m1 0h1m1 0h1m1 0h5m6 0h1m74 0h3m4 0h2m3 0h1M158 677h11m1 0h13m1 0h22m1 0h3m1 0h1m2 0h3m1 0h4m2 0h4m8 0h1m4 0h2m1 0h2m1 0h1m3 0h3m6 0h1m1 0h1m1 0h2m2 0h3m5 0h3m1 0h2m1 0h2m3 0h1m74 0h1m9 0h3M161 678h17m1 0h1m6 0h7m2 0h6m1 0h3m1 0h1m3 0h2m9 0h1m1 0h1m1 0h1m1 0h1m3 0h4m1 0h2m2 0h2m6 0h1m5 0h1m4 0h1m1 0h6m1 0h1m1 0h4m1 0h2m7 0h1m22 0h2m58 0h1m1 0h1m20 0h1M160 679h18m1 0h1m1 0h3m1 0h17m2 0h3m9 0h1m3 0h3m4 0h2m2 0h1m1 0h3m1 0h3m1 0h4m2 0h2m2 0h3m2 0h1m2 0h2m4 0h1m15 0h1m9 0h1m2 0h1m8 0h1m1 0h1m2 0h1m2 0h1m1 0h1m1 0h1m1 0h1M158 680h19m3 0h25m8 0h1m5 0h1m4 0h2m3 0h1m1 0h4m2 0h2m7 0h1m1 0h4m1 0h3m1 0h5m5 0h1m17 0h2m1 0h1m1 0h2m4 0h1m1 0h1m2 0h5m2 0h6m2 0h1m64 0h1m5 0h4M158 681h1m1 0h21m2 0h2m1 0h19m1 0h2m3 0h2m11 0h1m1 0h1m2 0h1m1 0h2m19 0h1m1 0h1m7 0h1m1 0h1m7 0h1m9 0h3m1 0h1m7 0h1m1 0h2m2 0h3m1 0h1m23 0h1m58 0h1m1 0h2m1 0h2M159 682h18m1 0h1m1 0h2m3 0h22m1 0h1m2 0h1m1 0h1m1 0h1m1 0h13m4 0h1m1 0h1m3 0h7m2 0h3m4 0h1m3 0h3m3 0h1m1 0h1m9 0h3m2 0h1m1 0h1m4 0h8m1 0h4m2 0h7m2 0h2m1 0h2m1 0h3m3 0h1m2 0h2m47 0h1m3 0h1m1 0h2m2 0h5M160 683h6m1 0h36m1 0h1m4 0h1m1 0h1m2 0h2m2 0h1m1 0h1m1 0h1m3 0h1m1 0h4m3 0h1m2 0h3m1 0h4m2 0h1m2 0h2m3 0h6m1 0h5m1 0h2m10 0h8m1 0h10m1 0h15m1 0h1m3 0h3m1 0h2m50 0h1m6 0h2m2 0h1m4 0h1m3 0h1M159 684h6m1 0h2m1 0h12m1 0h5m1 0h15m3 0h7m2 0h1m1 0h6m1 0h2m2 0h1m1 0h1m6 0h1m1 0h5m3 0h1m3 0h1m1 0h2m1 0h1m1 0h3m1 0h4m1 0h5m1 0h1m6 0h3m1 0h4m1 0h2m1 0h4m2 0h10m2 0h1m2 0h6m1 0h3m3 0h3m2 0h2m47 0h1m8 0h2m1 0h4M159 685h6m3 0h30m1 0h5m1 0h1m1 0h44m1 0h4m1 0h16m1 0h17m1 0h7m1 0h32m1 0h4m46 0h2m3 0h1m2 0h1m2 0h1M159 686h7m1 0h3m2 0h15m1 0h14m1 0h2m1 0h1m1 0h2m4 0h1m1 0h1m7 0h1m9 0h1m3 0h1m3 0h1m3 0h3m5 0h2m5 0h3m5 0h2m1 0h1m3 0h8m2 0h1m1 0h1m3 0h1m1 0h2m2 0h6m1 0h2m2 0h1m3 0h3m2 0h1m1 0h4m3 0h1m3 0h3m49 0h2m1 0h1M159 687h8m2 0h1m1 0h15m1 0h15m6 0h1m1 0h1m5 0h1m12 0h1m4 0h4m3 0h1m7 0h1m18 0h1m21 0h1m2 0h1m2 0h1m2 0h1m5 0h2m3 0h2m5 0h6m3 0h5M159 688h6m1 0h1m1 0h1m2 0h31m2 0h4m1 0h1m2 0h1m2 0h1m12 0h6m3 0h1m4 0h1m2 0h1m1 0h1m5 0h2m2 0h3m5 0h1m3 0h1m1 0h1m1 0h1m3 0h4m3 0h1m5 0h2m1 0h1m3 0h1m1 0h1m5 0h1m1 0h1m1 0h1m1 0h1m1 0h1m1 0h3m3 0h1m1 0h2m1 0h3m1 0h1m1 0h2m2 0h2m3 0h1m11 0h1m6 0h3m4 0h1M160 689h4m5 0h1m1 0h2m1 0h31m1 0h8m1 0h3m1 0h4m1 0h1m1 0h1m1 0h5m1 0h1m6 0h1m1 0h9m1 0h2m1 0h4m1 0h1m2 0h9m1 0h3m2 0h14m1 0h6m1 0h2m4 0h2m2 0h12m2 0h11m3 0h1m2 0h2m2 0h1m1 0h4m1 0h2m4 0h2m1 0h2M159 690h9m1 0h18m2 0h12m1 0h2m2 0h1m3 0h1m2 0h1m1 0h1m5 0h1m3 0h2m4 0h4m3 0h1m1 0h3m1 0h1m1 0h1m1 0h3m3 0h1m1 0h5m6 0h1m4 0h2m2 0h8m4 0h8m1 0h1m1 0h2m2 0h1m2 0h5m1 0h7m5 0h1m1 0h4m1 0h1m6 0h1m3 0h3m1 0h2m4 0h1m4 0h2m3 0h2m5 0h2M158 691h11m3 0h9m1 0h4m2 0h13m2 0h6m1 0h9m5 0h3m1 0h1m3 0h3m1 0h4m2 0h3m3 0h1m1 0h2m2 0h1m1 0h2m1 0h2m1 0h1m2 0h1m1 0h1m2 0h13m1 0h3m2 0h2m3 0h4m2 0h6m1 0h1m1 0h1m2 0h1m1 0h4m2 0h3m1 0h9m1 0h1m3 0h2m4 0h1m2 0h1m6 0h1m1 0h1m1 0h1m4 0h1M160 692h9m3 0h13m2 0h14m4 0h4m1 0h1m2 0h2m1 0h3m1 0h1m5 0h1m1 0h2m2 0h1m1 0h1m1 0h1m1 0h2m3 0h1m2 0h10m1 0h4m2 0h1m1 0h2m5 0h3m3 0h1m3 0h3m2 0h2m1 0h4m3 0h7m2 0h1m1 0h5m1 0h6m1 0h5m3 0h1m2 0h3m1 0h4m1 0h1M161 693h8m3 0h15m1 0h5m2 0h5m2 0h2m5 0h1m1 0h6m4 0h1m1 0h1m1 0h2m2 0h5m4 0h1m3 0h1m2 0h2m1 0h2m1 0h4m1 0h4m1 0h1m1 0h1m3 0h1m4 0h1m4 0h2m1 0h15m1 0h9m3 0h3m1 0h2m1 0h2m2 0h2m1 0h1m4 0h1m1 0h1m1 0h3m2 0h1M158 694h10m1 0h2m1 0h1m1 0h7m1 0h5m3 0h17m1 0h1m4 0h1m8 0h3m4 0h1m2 0h1m3 0h2m3 0h4m3 0h1m5 0h1m9 0h4m1 0h2m2 0h1m5 0h1m2 0h1m1 0h2m3 0h8m3 0h2m2 0h2m1 0h3m1 0h4m1 0h1m4 0h3m2 0h1m4 0h1m1 0h1m1 0h1M161 695h6m7 0h12m1 0h3m1 0h5m1 0h5m1 0h1m4 0h3m2 0h1m12 0h1m2 0h1m11 0h1m2 0h1m1 0h2m9 0h1m2 0h3m3 0h3m9 0h2m1 0h2m4 0h1m3 0h1m2 0h6m2 0h2m7 0h1m2 0h1m2 0h2m6 0h2m2 0h1m3 0h1M159 696h8m7 0h25m2 0h1m1 0h2m3 0h1m1 0h1m1 0h1m3 0h4m3 0h2m3 0h4m1 0h4m2 0h1m1 0h1m3 0h3m1 0h4m1 0h1m7 0h3m1 0h1m2 0h1m1 0h5m3 0h1m3 0h1m2 0h1m1 0h8m1 0h1m1 0h1m2 0h1m1 0h4m1 0h2m3 0h2m1 0h2m1 0h1m4 0h1m1 0h1m1 0h5M160 697h1m1 0h9m2 0h16m4 0h1m1 0h7m1 0h1m3 0h1m1 0h2m1 0h1m1 0h1m5 0h1m2 0h2m2 0h3m3 0h4m1 0h1m5 0h1m2 0h1m1 0h1m1 0h1m2 0h1m1 0h1m1 0h1m1 0h1m3 0h1m1 0h3m3 0h3m2 0h1m3 0h4m5 0h1m3 0h1m1 0h3m3 0h1m1 0h1m2 0h1m3 0h1m1 0h1m3 0h2m3 0h1m1 0h4m1 0h3M162 698h9m2 0h27m6 0h1m2 0h1m6 0h1m9 0h1m1 0h6m3 0h1m3 0h1m1 0h3m1 0h2m1 0h5m1 0h1m1 0h1m1 0h2m2 0h1m1 0h2m1 0h2m1 0h1m1 0h1m2 0h2m5 0h1m1 0h1m2 0h3m2 0h1m3 0h1m2 0h2m2 0h2m1 0h2m1 0h1m2 0h2m1 0h1m1 0h1m4 0h1m5 0h1m3 0h1M160 699h10m1 0h1m1 0h28m4 0h1m1 0h1m6 0h2m3 0h3m6 0h1m5 0h2m3 0h3m1 0h2m11 0h1m2 0h1m4 0h3m5 0h1m7 0h1m1 0h1m8 0h1m2 0h3m4 0h1m1 0h1m1 0h1m2 0h1m1 0h4m1 0h8m2 0h2m1 0h2m1 0h2M161 700h38m1 0h2m5 0h2m1 0h8m5 0h7m1 0h2m1 0h2m1 0h8m1 0h3m4 0h3m1 0h2m1 0h2m3 0h3m1 0h5m3 0h1m1 0h2m1 0h5m1 0h1m1 0h10m1 0h5m1 0h21m1 0h1m3 0h2M160 701h2m1 0h35m13 0h1m2 0h2m1 0h1m1 0h2m1 0h1m1 0h10m1 0h1m2 0h6m2 0h2m1 0h4m2 0h1m1 0h3m1 0h2m12 0h1m5 0h3m3 0h1m6 0h2m1 0h1m3 0h1m3 0h1m2 0h2m2 0h1m2 0h2m1 0h5m4 0h1M161 702h33m1 0h2m1 0h2m11 0h1m1 0h5m1 0h9m1 0h4m1 0h9m1 0h15m1 0h5m4 0h1m9 0h1m1 0h1m2 0h13m1 0h17m1 0h5m1 0h2m2 0h1M161 703h38m19 0h3m1 0h1m1 0h5m1 0h4m1 0h1m1 0h2m2 0h2m1 0h6m1 0h9m1 0h3m1 0h1m17 0h1m5 0h10m2 0h14m1 0h5m19 0h2m1 0h1m4 0h1m3 0h2m1 0h1m1 0h1m4 0h1M162 704h6m1 0h30m1 0h1m20 0h1m1 0h2m1 0h1m1 0h1m1 0h1m1 0h5m2 0h3m1 0h3m2 0h1m6 0h1m1 0h1m1 0h1m2 0h1m5 0h1m20 0h1m2 0h3m6 0h3m2 0h4m3 0h1m2 0h1m24 0h1m1 0h1m2 0h10m4 0h2m2 0h1M161 705h37m1 0h1m24 0h1m3 0h2m3 0h2m1 0h4m5 0h4m1 0h2m1 0h1m2 0h2m54 0h1m2 0h2m27 0h1m9 0h1m2 0h1m1 0h1M159 706h1m3 0h19m1 0h15m26 0h1m11 0h2m6 0h1m1 0h1m55 0h1M160 707h28m1 0h9m20 0h1m2 0h2m4 0h2m6 0h1m1 0h1m2 0h1m12 0h1m2 0h1M160 708h37m22 0h2m2 0h2m3 0h2m9 0h3M159 709h35m1 0h1m2 0h1m19 0h2m2 0h1m2 0h1m3 0h1m1 0h1M159 710h1m1 0h3m1 0h22m2 0h7m18 0h3m1 0h5m1 0h12M159 711h30m1 0h9m16 0h20M159 712h1m1 0h2m1 0h26m1 0h5m2 0h1m20 0h1m1 0h1m1 0h1m4 0h1m5 0h3M159 713h28m1 0h7m19 0h7m1 0h1m2 0h1m1 0h9M159 714h1m2 0h19m1 0h1m1 0h1m1 0h2m2 0h6m19 0h10m2 0h10M161 715h24m4 0h1m1 0h4m19 0h18m1 0h3m1 0h1m21 0h2m2 0h1M160 716h28m2 0h7m18 0h21m12 0h1m5 0h2m4 0h1m1 0h1m4 0h2m1 0h1M159 717h5m1 0h18m1 0h4m2 0h6m1 0h1m16 0h1m1 0h4m1 0h2m3 0h1m1 0h1m3 0h1m10 0h2m4 0h1m3 0h2m2 0h1m8 0h1m3 0h1m1 0h1m2 0h1m1 0h2M159 718h21m1 0h7m1 0h6m25 0h2m6 0h2m1 0h2m12 0h1m8 0h1m7 0h2M158 719h10m3 0h9m1 0h16m27 0h2m6 0h1m12 0h1m1 0h1m1 0h3m1 0h1m3 0h1m3 0h2m8 0h1m1 0h1m1 0h1m2 0h2M159 720h8m1 0h2m1 0h27m1 0h1m36 0h1m3 0h2m1 0h1m1 0h1m3 0h1m1 0h3m11 0h2m6 0h1m2 0h1m4 0h2M157 721h5m1 0h2m1 0h2m2 0h2m1 0h8m1 0h7m1 0h7m48 0h1m5 0h1m1 0h3m2 0h2m1 0h1m4 0h6m1 0h2m1 0h1m1 0h1m2 0h3M158 722h2m5 0h1m1 0h2m1 0h1m2 0h6m1 0h16m39 0h1m4 0h1m1 0h1m4 0h5m1 0h3m1 0h3m2 0h3m8 0h1m2 0h3m2 0h1M157 723h1m1 0h3m2 0h2m4 0h28m44 0h1m20 0h2m1 0h1m1 0h1m1 0h1m10 0h1M160 724h1m4 0h1m1 0h30m2 0h2m35 0h1m7 0h3m2 0h2m3 0h1m6 0h2m1 0h1m7 0h1m2 0h2m1 0h1m8 0h1M155 725h2m1 0h21m1 0h19m55 0h1m12 0h1m6 0h1m1 0h3m5 0h1M158 726h41m38 0h3m3 0h2m3 0h2m3 0h1m5 0h1m7 0h1m7 0h1m1 0h1m1 0h3M156 727h9m1 0h29m2 0h4m37 0h2m1 0h2m2 0h6m3 0h2m3 0h1m10 0h1m4 0h1m1 0h5m1 0h2m1 0h2M156 728h38m2 0h1m2 0h2m36 0h2m5 0h1m5 0h1m6 0h1m4 0h1m13 0h3M158 729h9m1 0h4m2 0h4m2 0h1m1 0h2m1 0h8m1 0h2m1 0h1m2 0h1m54 0h1m5 0h2m14 0h4m1 0h2M157 730h2m4 0h8m4 0h27m43 0h1m3 0h1m8 0h1m3 0h1m11 0h2m1 0h2m2 0h3M156 731h3m1 0h3m1 0h9m5 0h6m1 0h16m45 0h1m10 0h2m4 0h3m5 0h1m2 0h1m1 0h1M156 732h3m1 0h1m1 0h1m1 0h10m1 0h2m2 0h13m1 0h2m1 0h1m1 0h3m1 0h1m54 0h1m1 0h4M154 733h1m2 0h3m1 0h1m1 0h11m4 0h1m1 0h2m4 0h7m1 0h2m2 0h4m1 0h1m51 0h6m1 0h1m2 0h1m1 0h3M156 734h14m1 0h5m2 0h1m3 0h3m2 0h2m1 0h7m1 0h3m52 0h1m1 0h1m3 0h2m1 0h1m4 0h1M156 735h9m2 0h6m1 0h1m5 0h1m2 0h1m5 0h7m3 0h3m53 0h1m1 0h1m5 0h1m1 0h1m3 0h1M154 736h1m2 0h3m2 0h1m2 0h2m1 0h3m1 0h2m2 0h2m3 0h5m3 0h3m2 0h1m1 0h2m2 0h2m50 0h2m8 0h1M157 737h1m1 0h1m1 0h2m2 0h4m5 0h1m1 0h1m1 0h6m1 0h1m1 0h7m4 0h6m50 0h5m1 0h1m1 0h1m6 0h1M156 738h2m2 0h1m3 0h1m2 0h2m2 0h2m2 0h8m1 0h1m2 0h2m1 0h4m7 0h2m49 0h14m1 0h6M154 739h5m4 0h9m1 0h13m1 0h7m6 0h2m1 0h1m48 0h2m1 0h1m1 0h9m3 0h2m1 0h1M156 740h2m1 0h1m2 0h1m7 0h4m2 0h5m1 0h8m3 0h1m1 0h5m2 0h2m47 0h1m7 0h5m1 0h4m1 0h2M154 741h8m2 0h4m1 0h2m1 0h18m2 0h3m1 0h6m2 0h1m48 0h3m6 0h1m1 0h1M156 742h5m1 0h2m2 0h3m5 0h14m1 0h3m2 0h7m1 0h1m48 0h3m5 0h2m3 0h1m1 0h1m5 0h1M154 743h1m1 0h7m1 0h1m1 0h1m2 0h1m1 0h5m1 0h10m2 0h1m1 0h3m1 0h3m1 0h1m2 0h1m49 0h20M154 744h1m1 0h4m4 0h8m1 0h20m1 0h10m48 0h24m1 0h1M155 745h15m1 0h4m1 0h7m3 0h1m2 0h13m1 0h1m48 0h1m2 0h3m1 0h1m5 0h1m4 0h3m2 0h1M155 746h11m1 0h2m1 0h13m1 0h1m1 0h5m1 0h1m1 0h11m49 0h1m2 0h1m4 0h1m1 0h1m1 0h3m2 0h1m1 0h1m1 0h1M154 747h4m2 0h16m1 0h6m5 0h17m50 0h1m4 0h2m1 0h1m3 0h1m10 0h3M153 748h4m1 0h10m1 0h9m1 0h3m5 0h3m2 0h11m53 0h1m1 0h6m1 0h2m8 0h2M157 749h17m1 0h14m1 0h1m1 0h1m1 0h5m1 0h5m58 0h1m4 0h1m3 0h3M152 750h1m2 0h3m1 0h7m1 0h18m1 0h3m5 0h1m1 0h10m52 0h3m7 0h2m5 0h3M155 751h4m1 0h5m1 0h3m1 0h17m3 0h1m1 0h1m6 0h2m1 0h3m44 0h1m1 0h4m1 0h3m6 0h1m7 0h1m2 0h1M154 752h21m1 0h8m1 0h2m1 0h2m2 0h2m6 0h4m2 0h1m41 0h3m1 0h6m1 0h2m1 0h1m1 0h1m1 0h1m7 0h1M154 753h4m1 0h11m1 0h16m1 0h7m1 0h1m3 0h4m1 0h2m42 0h7m1 0h7m1 0h1m1 0h1M153 754h37m1 0h5m1 0h7m45 0h1m1 0h4m1 0h8m2 0h3M154 755h7m1 0h4m1 0h2m1 0h9m2 0h1m1 0h6m1 0h8m1 0h5m1 0h1m44 0h1m7 0h1m2 0h1m3 0h1M153 756h1m1 0h10m1 0h4m1 0h3m1 0h3m2 0h24m1 0h1m22 0h1m18 0h4m2 0h1m1 0h1m2 0h3m1 0h1m1 0h2m1 0h1M152 757h2m1 0h14m3 0h12m1 0h11m1 0h6m27 0h1m2 0h1m2 0h3m13 0h2m1 0h1m3 0h3m2 0h1M153 758h11m2 0h3m2 0h4m1 0h4m2 0h1m1 0h20m1 0h1m20 0h2m7 0h1m16 0h2m5 0h5M153 759h15m2 0h3m1 0h9m1 0h16m1 0h4m1 0h1m21 0h1m1 0h1m1 0h1m1 0h1m1 0h1m4 0h1m1 0h1m8 0h3m3 0h1m4 0h1M154 760h13m1 0h11m1 0h18m1 0h1m1 0h6m14 0h1m2 0h1m1 0h1m8 0h3M154 761h1m1 0h7m1 0h8m1 0h20m1 0h5m2 0h3m2 0h2m15 0h1m5 0h1m4 0h1m3 0h1m1 0h2M153 762h7m2 0h13m1 0h1m3 0h24m17 0h2m5 0h2m6 0h1m1 0h1m2 0h2M152 763h1m4 0h18m5 0h26m20 0h1m4 0h1m1 0h2m1 0h1m1 0h2m1 0h1M156 764h1m1 0h8m1 0h4m1 0h2m2 0h3m2 0h4m2 0h13m2 0h3m1 0h1m16 0h7m1 0h2m1 0h1m2 0h4M155 765h1m1 0h4m1 0h10m1 0h3m5 0h17m1 0h5m3 0h1m13 0h1m1 0h1m2 0h10m1 0h5m17 0h1m1 0h2m3 0h1m2 0h1M153 766h14m1 0h5m3 0h2m3 0h9m1 0h2m4 0h6m21 0h16m2 0h6m2 0h6m1 0h5m1 0h15m3 0h1M153 767h1m1 0h19m6 0h5m1 0h14m1 0h4m19 0h1m1 0h2m1 0h6m1 0h3m2 0h2m4 0h5m1 0h6m1 0h1m1 0h2m1 0h5m1 0h3m1 0h2m1 0h1m6 0h1M154 768h1m1 0h15m1 0h4m1 0h13m1 0h1m1 0h12m2 0h1m22 0h1m2 0h3m8 0h2m3 0h4m1 0h7m1 0h4m1 0h4m1 0h3M155 769h14m1 0h1m1 0h7m1 0h25m1 0h3" stroke="#000" stroke-width="1" fill="none" shape-rendering="crispEdges"/>
<rect x="151.5" y="607.5" width="248" height="162" fill="none" stroke="#262626" stroke-width="1"/>
<path d="M203.5 608v2M203.5 769v-1.2M276.5 608v2M276.5 769v-1.2M349.5 608v2M349.5 769v-1.2M152 639.5h2M399 639.5h-1.2M152 672.5h2M399 672.5h-1.2M152 704.5h2M399 704.5h-1.2M152 737.5h2M399 737.5h-1.2" stroke="#262626" stroke-width="1" fill="none"/>
<text transform="translate(136.68 613.00)" font-size="15.27" fill="#262626">0</text>
<text transform="translate(127.16 645.00)" font-size="15.27" fill="#262626" letter-spacing="1.157">50</text>
<text transform="translate(117.55 677.00)" font-size="15.27" fill="#262626" letter-spacing="1.134">100</text>
<text transform="translate(117.55 710.00)" font-size="15.27" fill="#262626" letter-spacing="1.134">150</text>
<text transform="translate(117.40 742.00)" font-size="15.27" fill="#262626" letter-spacing="1.211">200</text>
<text transform="translate(117.40 775.00)" font-size="15.27" fill="#262626" letter-spacing="1.211">250</text>
<text transform="translate(198.88 598.00)" font-size="15.27" fill="#262626">1</text>
<text transform="translate(272.05 598.00)" font-size="15.27" fill="#262626">2</text>
<text transform="translate(345.57 598.00)" font-size="15.27" fill="#262626">3</text>
<text transform="translate(220.73 579.00) scale(1.05 1)" font-size="16.80" fill="#262626" letter-spacing="0.685">bbp676 (m</text>
<text transform="translate(311.08 572.00)" font-size="13.44" fill="#262626" letter-spacing="0.604">-1</text>
<text transform="translate(324.93 579.00) scale(1.05 1)" font-size="16.80" fill="#262626">)</text>
<text transform="translate(386.58 571.70)" font-size="12.22" fill="#262626" letter-spacing="0.636">-3</text>
<text transform="translate(367.93 579.00)" font-size="15.27" fill="#262626" letter-spacing="1.218">10</text>
<path d="M357.45 571.70L364.25 578.50M357.45 578.50L364.25 571.70" stroke="#262626" stroke-width="0.8" fill="none"/>
<text transform="rotate(-90 109.30 714.13) translate(109.47 714.13) scale(1.05 1)" font-size="16.80" fill="#262626" letter-spacing="0.658">Depth</text>
</g>
<g id="p8">
<path transform="translate(0,.5)" d="M479 607h3m1 0h4m1 0h1m1 0h1m2 0h2m1 0h3m1 0h106m3 0h1m1 0h1m1 0h1m5 0h1m9 0h1m2 0h1m1 0h1m17 0h1m3 0h1m6 0h1m11 0h1m8 0h1m29 0h1M478 608h1m1 0h2m2 0h3m2 0h1m1 0h1m2 0h1m1 0h4m1 0h106m3 0h2m6 0h1m9 0h1m5 0h1m2 0h1m1 0h1m3 0h1m1 0h1m2 0h1m1 0h1m2 0h2m6 0h1m7 0h1m13 0h1m38 0h1M481 609h1m1 0h3m1 0h2m4 0h1m1 0h3m2 0h2m1 0h52m1 0h30m1 0h21m1 0h2m1 0h1m10 0h1m8 0h1m2 0h1m21 0h1m2 0h1m7 0h1m26 0h2M480 610h1m1 0h4m3 0h1m1 0h3m1 0h1m1 0h2m3 0h21m1 0h1m1 0h9m1 0h2m1 0h2m1 0h21m1 0h1m1 0h36m1 0h4m1 0h1m2 0h1m4 0h1m1 0h2m1 0h2m4 0h1m1 0h2m9 0h1m3 0h1m9 0h1m21 0h1m9 0h1m38 0h2M480 611h1m3 0h5m1 0h1m1 0h3m2 0h3m1 0h19m1 0h11m1 0h11m1 0h3m1 0h13m1 0h21m1 0h21m5 0h2m3 0h3m5 0h1m13 0h1m1 0h1m2 0h1m14 0h1m9 0h1m1 0h1m3 0h1m1 0h1m21 0h1m20 0h1M481 612h4m3 0h5m2 0h2m2 0h1m2 0h17m1 0h17m1 0h10m1 0h1m1 0h7m1 0h8m1 0h23m1 0h14m1 0h1m2 0h2m2 0h3m1 0h1m2 0h1m4 0h1m17 0h1m7 0h1m5 0h1m1 0h1m7 0h1m6 0h1m1 0h1m3 0h2m10 0h1m29 0h3M483 613h2m1 0h2m1 0h3m4 0h1m1 0h2m1 0h3m1 0h14m1 0h11m1 0h4m1 0h26m1 0h26m1 0h16m2 0h2m1 0h3m1 0h1m2 0h1m6 0h1m2 0h1m1 0h1m2 0h1m3 0h1m23 0h1m3 0h1m14 0h1m6 0h1m10 0h1m5 0h2m5 0h1M482 614h1m5 0h3m2 0h2m3 0h1m1 0h3m1 0h17m1 0h3m2 0h3m1 0h9m1 0h27m1 0h13m1 0h8m1 0h1m1 0h4m1 0h7m3 0h1m1 0h1m1 0h1m10 0h1m2 0h1m6 0h1m1 0h1m5 0h1m5 0h1m9 0h2m2 0h1m9 0h1m11 0h1m11 0h1m1 0h1M484 615h2m1 0h1m1 0h1m2 0h2m1 0h1m1 0h2m3 0h19m2 0h4m1 0h1m1 0h8m1 0h2m2 0h44m1 0h11m1 0h8m3 0h2m1 0h1m2 0h2m2 0h1m6 0h1m11 0h1m7 0h1m17 0h1m23 0h1m9 0h1M485 616h1m5 0h2m4 0h1m3 0h2m1 0h24m1 0h14m1 0h13m1 0h7m1 0h6m1 0h5m1 0h8m1 0h18m1 0h1m1 0h1m5 0h1m3 0h1m5 0h1m6 0h1m1 0h2m1 0h1m9 0h1m10 0h1m1 0h1m6 0h3m3 0h1m9 0h1m26 0h2m2 0h2M487 617h205m1 0h7m2 0h4m3 0h1M485 618h1m2 0h1m1 0h3m2 0h3m1 0h1m2 0h1m3 0h13m2 0h1m1 0h1m2 0h6m1 0h3m1 0h2m1 0h10m1 0h26m1 0h37m2 0h2m2 0h5m1 0h1m5 0h1m1 0h1m6 0h1m2 0h1m16 0h1m4 0h1M484 619h4m2 0h2m2 0h2m4 0h1m5 0h13m1 0h3m1 0h4m1 0h1m1 0h2m2 0h6m1 0h2m1 0h6m1 0h2m1 0h8m1 0h46m1 0h1m1 0h2m1 0h1m1 0h1m1 0h1m1 0h2m3 0h2m2 0h4m1 0h1m1 0h1m2 0h2m12 0h1m1 0h1m16 0h1m7 0h2M484 620h4m2 0h1m2 0h5m5 0h1m1 0h15m1 0h2m3 0h2m1 0h5m1 0h4m1 0h2m1 0h4m1 0h2m1 0h3m1 0h2m1 0h8m1 0h17m1 0h12m1 0h16m1 0h1m1 0h1m1 0h1m2 0h3m5 0h1m6 0h1m3 0h1m13 0h1m2 0h1m9 0h1m3 0h1m16 0h1M485 621h3m1 0h2m1 0h3m6 0h1m4 0h13m1 0h1m1 0h3m1 0h2m1 0h8m1 0h1m1 0h4m1 0h7m2 0h7m1 0h2m1 0h12m1 0h4m1 0h9m1 0h12m1 0h8m2 0h1m1 0h1m1 0h1m3 0h1m2 0h1m2 0h1m5 0h2m1 0h1m8 0h1m1 0h1M486 622h1m1 0h1m1 0h1m2 0h1m2 0h2m1 0h1m4 0h1m1 0h20m1 0h4m1 0h4m2 0h5m1 0h14m1 0h17m1 0h2m1 0h34m3 0h3m1 0h2m2 0h1m1 0h2m1 0h1m1 0h1m10 0h3m9 0h2m25 0h1M485 623h1m2 0h2m1 0h1m2 0h1m1 0h3m2 0h2m3 0h13m1 0h3m2 0h3m1 0h5m1 0h3m1 0h1m1 0h7m1 0h16m1 0h45m1 0h3m1 0h1m1 0h2m2 0h1m1 0h1m3 0h2m2 0h2m1 0h1m2 0h1m1 0h2m7 0h1m1 0h2m5 0h1m1 0h1m25 0h1m14 0h1M494 624h1m2 0h1m1 0h1m1 0h1m2 0h25m2 0h2m1 0h6m1 0h2m1 0h11m1 0h17m1 0h6m1 0h13m1 0h20m2 0h3m4 0h2m2 0h2m1 0h1m4 0h1m5 0h2m3 0h1m9 0h1m3 0h1m6 0h1m3 0h1m3 0h1M487 625h2m2 0h2m5 0h1m1 0h1m1 0h2m2 0h13m1 0h2m2 0h1m1 0h4m1 0h4m2 0h14m2 0h50m1 0h13m4 0h1m2 0h1m2 0h3m2 0h1m2 0h1m1 0h2m1 0h1m3 0h1m1 0h1m3 0h1m9 0h1m17 0h1m1 0h1m4 0h1m10 0h1M492 626h1m3 0h1m4 0h1m1 0h1m2 0h20m1 0h2m1 0h3m1 0h2m1 0h1m2 0h1m1 0h4m3 0h11m1 0h3m1 0h4m1 0h10m1 0h9m1 0h1m1 0h5m1 0h4m1 0h15m1 0h2m1 0h2m1 0h1m1 0h1m2 0h1m2 0h1m11 0h2m5 0h1m63 0h1M488 627h1m3 0h1m1 0h1m2 0h1m1 0h1m1 0h1m2 0h16m3 0h7m1 0h7m1 0h6m2 0h1m1 0h6m1 0h6m1 0h1m1 0h6m1 0h17m1 0h25m2 0h2m2 0h2m3 0h1m5 0h1m1 0h1m3 0h2m4 0h1m4 0h1m5 0h1m2 0h1m5 0h1m3 0h1m1 0h1m7 0h1M494 628h1m2 0h1m2 0h2m1 0h1m2 0h13m2 0h1m1 0h2m1 0h4m1 0h10m1 0h8m1 0h8m1 0h2m1 0h31m1 0h20m1 0h2m1 0h3m1 0h2m2 0h1m1 0h2m2 0h1m4 0h1m2 0h1m5 0h1m2 0h1m10 0h1m4 0h2m7 0h1m3 0h1m27 0h1M490 629h1m2 0h1m1 0h4m1 0h1m3 0h15m1 0h11m2 0h8m2 0h12m2 0h3m2 0h10m1 0h3m1 0h15m1 0h9m1 0h1m1 0h8m1 0h8m4 0h2m1 0h2m1 0h2m2 0h1m10 0h1m1 0h1m1 0h2m3 0h1m3 0h1m1 0h1m2 0h1m5 0h1M488 630h3m2 0h5m4 0h1m1 0h1m1 0h18m1 0h1m1 0h2m1 0h2m1 0h1m1 0h5m4 0h4m2 0h4m1 0h8m1 0h12m1 0h4m1 0h17m1 0h13m1 0h7m1 0h2m2 0h1m3 0h2m5 0h1m5 0h1m1 0h1m3 0h1m7 0h2m21 0h1m23 0h1M488 631h2m10 0h1m3 0h1m1 0h17m2 0h8m1 0h2m1 0h3m3 0h10m1 0h2m1 0h5m1 0h8m1 0h6m1 0h3m1 0h7m1 0h5m1 0h15m1 0h4m2 0h1m1 0h5m2 0h2m7 0h1m1 0h1m29 0h1M495 632h1m2 0h3m3 0h1m1 0h16m4 0h3m2 0h6m1 0h3m1 0h2m1 0h7m1 0h3m1 0h18m2 0h19m1 0h22m4 0h1m7 0h3m3 0h4m1 0h1m12 0h2m4 0h2m8 0h1m5 0h1m6 0h1m1 0h1M495 633h1m8 0h1m1 0h13m2 0h8m1 0h6m1 0h1m2 0h10m1 0h3m1 0h13m1 0h10m1 0h2m1 0h34m1 0h2m1 0h1m3 0h1m3 0h2m1 0h2m2 0h1m1 0h1m7 0h1m5 0h1m4 0h1m9 0h1m15 0h1m8 0h1M491 634h1m3 0h1m3 0h1m6 0h13m1 0h3m1 0h1m2 0h3m1 0h2m1 0h1m1 0h5m1 0h4m1 0h12m1 0h4m2 0h1m1 0h37m1 0h14m2 0h1m1 0h2m1 0h2m4 0h1m5 0h1m3 0h1m4 0h2m1 0h1m1 0h1m10 0h1m15 0h1M492 635h1m4 0h1m8 0h13m1 0h17m2 0h6m1 0h1m1 0h1m1 0h1m3 0h11m2 0h16m1 0h3m1 0h32m1 0h2m4 0h2m2 0h2m1 0h2m4 0h3m7 0h1m8 0h1m9 0h1m10 0h1M493 636h1m2 0h2m1 0h1m4 0h17m1 0h1m3 0h21m1 0h6m1 0h2m3 0h14m1 0h14m1 0h14m2 0h6m1 0h7m1 0h2m1 0h6m10 0h1m3 0h1m1 0h1m4 0h1m3 0h1m18 0h1m18 0h1M491 637h1m2 0h1m3 0h1m3 0h19m1 0h2m1 0h2m1 0h10m1 0h9m1 0h8m1 0h11m2 0h45m1 0h7m3 0h1m1 0h1m3 0h2m2 0h1m10 0h1m5 0h2m1 0h1m37 0h1M499 638h1m3 0h1m1 0h16m2 0h8m1 0h2m2 0h1m1 0h1m1 0h5m1 0h1m1 0h1m1 0h34m1 0h28m2 0h2m1 0h1m2 0h5m1 0h1m1 0h3m2 0h2m5 0h1m1 0h2m4 0h1m1 0h1m2 0h2m4 0h2m6 0h1m6 0h1M491 639h1m7 0h1m5 0h20m3 0h4m1 0h2m1 0h7m1 0h2m1 0h12m1 0h62m1 0h3m2 0h1m2 0h1m3 0h1m5 0h1m6 0h1m6 0h1m5 0h1m21 0h1M495 640h1m5 0h3m1 0h18m1 0h2m1 0h1m2 0h5m2 0h7m1 0h1m2 0h8m2 0h12m1 0h7m1 0h13m1 0h24m1 0h4m1 0h1m1 0h3m1 0h1m6 0h2m1 0h1m3 0h1m1 0h1m1 0h1m1 0h1m5 0h1m1 0h1m28 0h1M495 641h1m4 0h1m3 0h17m1 0h4m1 0h6m1 0h3m1 0h7m1 0h5m1 0h2m1 0h4m1 0h13m1 0h20m1 0h11m1 0h4m1 0h4m1 0h1m2 0h2m1 0h2m2 0h4m1 0h1m6 0h1m1 0h3m2 0h2m7 0h2m12 0h1m12 0h1m7 0h1M494 642h1m3 0h1m6 0h19m1 0h11m1 0h3m1 0h4m1 0h1m1 0h13m1 0h3m1 0h8m1 0h9m1 0h27m1 0h3m1 0h2m1 0h2m1 0h1m2 0h1m2 0h1m2 0h1m15 0h1m2 0h2m65 0h1M494 643h1m7 0h1m2 0h14m1 0h4m1 0h1m2 0h2m2 0h7m1 0h2m1 0h3m2 0h11m2 0h54m1 0h1m3 0h1m2 0h3m1 0h4m1 0h1m3 0h1m2 0h1m1 0h3m3 0h1m4 0h2m3 0h1m16 0h1m32 0h1M495 644h2m8 0h14m2 0h2m1 0h6m1 0h1m2 0h6m1 0h15m1 0h4m1 0h1m1 0h29m2 0h5m1 0h18m1 0h2m1 0h3m5 0h1m2 0h2m3 0h2m3 0h1m1 0h1m6 0h1m3 0h1m10 0h2m16 0h1m1 0h1m1 0h1M502 645h1m1 0h15m3 0h2m2 0h11m1 0h8m1 0h5m1 0h1m1 0h1m1 0h6m1 0h25m1 0h6m1 0h22m1 0h3m1 0h1m2 0h1m1 0h2m1 0h1m3 0h1m4 0h1m5 0h1m1 0h1m3 0h1m1 0h1m1 0h1m7 0h1m1 0h1M494 646h1m9 0h16m2 0h8m2 0h4m2 0h1m1 0h11m1 0h8m1 0h7m2 0h2m1 0h12m1 0h8m1 0h20m1 0h1m1 0h6m1 0h2m3 0h1m1 0h2m6 0h1m11 0h1m1 0h2m8 0h1m1 0h2m27 0h1M500 647h3m2 0h14m1 0h5m1 0h6m2 0h2m1 0h8m1 0h5m1 0h5m1 0h9m1 0h34m1 0h13m1 0h4m4 0h1m1 0h4m7 0h1m2 0h1m2 0h1m1 0h1m6 0h1m13 0h1m30 0h1M498 648h1m5 0h17m1 0h2m2 0h2m1 0h1m1 0h4m1 0h2m1 0h20m1 0h56m1 0h7m2 0h1m5 0h3m3 0h1m6 0h2m3 0h2m3 0h1m3 0h1m1 0h1m12 0h1m7 0h2M495 649h1m8 0h17m1 0h2m1 0h2m1 0h3m1 0h31m1 0h6m1 0h1m1 0h8m1 0h12m1 0h11m1 0h15m1 0h1m1 0h1m3 0h1m1 0h1m1 0h2m2 0h1m1 0h1m3 0h1m4 0h2m2 0h4m3 0h1m7 0h1m16 0h1m1 0h1M500 650h1m3 0h17m2 0h1m1 0h9m1 0h1m1 0h11m2 0h1m1 0h1m1 0h3m1 0h8m1 0h3m1 0h32m1 0h14m1 0h1m1 0h1m2 0h2m1 0h2m5 0h1m5 0h1m2 0h2m1 0h2m5 0h1m3 0h1m7 0h1m8 0h1m3 0h1m1 0h1m3 0h1M505 651h16m1 0h2m1 0h1m1 0h7m2 0h2m2 0h7m1 0h18m1 0h16m1 0h34m1 0h5m1 0h1m3 0h1m1 0h1m4 0h1m6 0h1m1 0h1m7 0h1m5 0h1m3 0h1M500 652h1m1 0h2m1 0h14m1 0h4m1 0h2m2 0h4m1 0h8m3 0h2m1 0h1m1 0h6m1 0h6m1 0h20m2 0h11m1 0h2m2 0h1m1 0h9m1 0h2m2 0h1m1 0h3m1 0h2m2 0h1m1 0h1m3 0h1m1 0h1m2 0h1m1 0h1m1 0h1m3 0h2m6 0h2m50 0h1M502 653h1m2 0h24m1 0h10m1 0h3m1 0h8m1 0h8m1 0h1m1 0h2m1 0h14m1 0h20m1 0h12m1 0h5m1 0h1m2 0h2m1 0h1m4 0h3m1 0h1m2 0h1m2 0h1m25 0h1m5 0h1m6 0h1m41 0h1M501 654h1m2 0h15m1 0h6m1 0h12m1 0h3m1 0h1m1 0h6m1 0h5m1 0h16m1 0h42m1 0h4m1 0h1m1 0h3m3 0h1m2 0h1m5 0h1m12 0h1m6 0h2m2 0h1m2 0h1m10 0h1M500 655h1m4 0h20m1 0h3m1 0h6m1 0h4m1 0h17m1 0h2m2 0h15m1 0h12m1 0h22m1 0h9m1 0h4m3 0h1m7 0h1m5 0h2m17 0h1m9 0h1m17 0h1m1 0h1m1 0h1M504 656h24m1 0h6m1 0h1m1 0h8m1 0h11m1 0h2m1 0h12m2 0h14m1 0h25m1 0h1m1 0h2m1 0h3m5 0h1m3 0h1m17 0h1m1 0h1m5 0h1m30 0h1m22 0h1M503 657h1m1 0h18m1 0h2m2 0h19m1 0h2m1 0h1m1 0h10m1 0h11m1 0h10m1 0h3m1 0h35m3 0h1m4 0h3m2 0h1m4 0h1m1 0h2m17 0h1m1 0h1M500 658h1m2 0h1m2 0h14m1 0h7m1 0h2m1 0h1m1 0h11m1 0h17m1 0h11m1 0h41m1 0h5m4 0h5m3 0h2m6 0h2m4 0h1m1 0h2m2 0h1m4 0h1m21 0h1m7 0h1M502 659h1m2 0h20m1 0h1m2 0h14m1 0h3m1 0h5m1 0h6m1 0h3m1 0h5m1 0h15m1 0h2m1 0h10m2 0h7m1 0h9m1 0h2m2 0h2m1 0h2m3 0h3m3 0h1m6 0h1m1 0h1m3 0h2m1 0h1m3 0h1m20 0h1m34 0h1M500 660h1m1 0h38m1 0h16m1 0h27m1 0h12m2 0h21m1 0h1m3 0h2m2 0h3m6 0h1m2 0h1m7 0h1m15 0h1m2 0h1m5 0h1m16 0h1M503 661h2m1 0h13m1 0h2m2 0h7m1 0h2m1 0h14m1 0h7m1 0h27m1 0h26m1 0h6m1 0h3m5 0h2m3 0h1m2 0h2m3 0h1m5 0h1m1 0h2m1 0h1m8 0h1m5 0h1m9 0h1M504 662h1m1 0h26m1 0h11m1 0h8m1 0h3m1 0h5m1 0h49m1 0h7m2 0h3m1 0h2m1 0h1m1 0h1m4 0h3m1 0h3m4 0h1m3 0h1m2 0h1m7 0h1m18 0h1m1 0h1m1 0h1m8 0h1M504 663h1m1 0h14m1 0h1m1 0h7m1 0h7m1 0h4m1 0h13m1 0h5m1 0h37m1 0h10m2 0h1m2 0h3m1 0h3m1 0h1m3 0h1m2 0h3m3 0h1m18 0h4m6 0h1m14 0h1m3 0h1M504 664h1m1 0h15m1 0h1m1 0h6m1 0h2m1 0h2m1 0h1m1 0h2m1 0h3m1 0h2m2 0h5m1 0h1m1 0h5m1 0h13m1 0h35m1 0h2m1 0h3m4 0h2m2 0h2m2 0h3m1 0h2m2 0h2m5 0h1m4 0h1m5 0h1m1 0h1m2 0h2m2 0h1m29 0h1m11 0h1M487 665h1m16 0h1m1 0h15m1 0h1m2 0h2m1 0h1m2 0h5m1 0h12m2 0h2m2 0h6m1 0h24m1 0h16m1 0h10m2 0h2m1 0h2m1 0h1m4 0h2m1 0h1m6 0h1m2 0h1m9 0h1m1 0h1m5 0h1m1 0h1m5 0h1m10 0h1M505 666h23m2 0h4m1 0h2m2 0h5m1 0h8m1 0h20m1 0h1m1 0h22m1 0h18m1 0h3m1 0h5m1 0h1m3 0h1m11 0h3m1 0h1m12 0h1m3 0h1m9 0h1M505 667h21m2 0h3m1 0h12m2 0h1m1 0h8m1 0h13m1 0h20m1 0h22m1 0h3m2 0h1m2 0h1m1 0h1m2 0h3m1 0h2m2 0h1m3 0h1m1 0h2m4 0h1m5 0h1m3 0h1m1 0h1m1 0h1m11 0h1m8 0h1m35 0h1M506 668h17m1 0h5m1 0h6m1 0h1m1 0h3m1 0h3m1 0h24m1 0h2m1 0h11m1 0h2m1 0h2m1 0h23m2 0h1m1 0h1m7 0h1m38 0h1m3 0h1m6 0h1m3 0h1M505 669h14m1 0h19m1 0h4m2 0h10m1 0h7m1 0h10m1 0h19m1 0h2m1 0h13m1 0h1m1 0h3m1 0h1m1 0h2m1 0h3m2 0h2m4 0h3m1 0h2m2 0h1m1 0h1m1 0h1m5 0h1m6 0h1m5 0h2m3 0h1m14 0h1M506 670h43m1 0h7m1 0h6m1 0h11m1 0h36m3 0h1m1 0h8m1 0h1m3 0h1m2 0h1m2 0h3m3 0h1m6 0h2m2 0h1m15 0h2m3 0h1m6 0h1m25 0h1M505 671h1m1 0h12m1 0h8m3 0h15m1 0h23m1 0h2m1 0h5m1 0h18m1 0h19m1 0h1m1 0h3m1 0h3m2 0h1m2 0h1m4 0h1m1 0h1m9 0h1m7 0h2m2 0h1m37 0h1M504 672h1m1 0h22m1 0h3m1 0h3m1 0h7m1 0h15m1 0h17m1 0h1m1 0h22m1 0h8m1 0h7m2 0h2m3 0h1m3 0h1m6 0h1m6 0h1m21 0h2m1 0h1m10 0h1M506 673h30m1 0h4m1 0h10m1 0h2m1 0h7m1 0h2m1 0h45m1 0h3m2 0h1m2 0h2m1 0h1m1 0h3m1 0h2m3 0h2m11 0h1m4 0h1m41 0h1m4 0h1M507 674h30m2 0h11m1 0h25m1 0h16m1 0h18m1 0h2m1 0h2m1 0h1m1 0h2m4 0h1m5 0h1m7 0h2m3 0h2m2 0h1m1 0h1m2 0h1m13 0h1m4 0h1M507 675h15m1 0h2m1 0h4m2 0h16m1 0h3m1 0h8m1 0h25m1 0h17m1 0h3m1 0h2m1 0h6m1 0h1m3 0h1m5 0h1m1 0h1m3 0h2m7 0h3m2 0h1m10 0h1m4 0h1m11 0h1m2 0h2M505 676h18m1 0h1m1 0h2m2 0h3m1 0h6m1 0h2m1 0h1m1 0h8m1 0h4m1 0h8m1 0h33m1 0h1m1 0h9m2 0h3m3 0h1m1 0h4m1 0h1m1 0h1m1 0h1m3 0h1m15 0h1m5 0h1m1 0h1m15 0h1m4 0h1M506 677h15m1 0h8m1 0h12m1 0h17m1 0h32m1 0h5m1 0h6m1 0h3m1 0h1m1 0h2m3 0h3m1 0h1m7 0h1m3 0h2m4 0h1m1 0h1m4 0h1m6 0h1m10 0h1m4 0h1M504 678h1m1 0h14m1 0h12m1 0h3m1 0h11m1 0h12m1 0h8m1 0h40m1 0h2m1 0h1m5 0h3m1 0h1m1 0h1m1 0h2m2 0h1m7 0h2m8 0h2m5 0h1m1 0h2m16 0h1M505 679h1m1 0h14m1 0h2m1 0h57m1 0h10m1 0h17m3 0h4m2 0h1m4 0h1m1 0h1m6 0h1m2 0h1m1 0h1m1 0h1m4 0h1m1 0h1m10 0h1m5 0h1m9 0h1m1 0h1m10 0h1M507 680h15m1 0h2m1 0h5m1 0h11m1 0h24m1 0h6m1 0h16m1 0h7m1 0h4m1 0h4m1 0h3m1 0h2m2 0h2m3 0h2m3 0h1m7 0h1m2 0h1m1 0h1m2 0h1m13 0h1m4 0h1m2 0h1m4 0h1m3 0h1m19 0h1M507 681h21m3 0h18m1 0h6m2 0h4m1 0h43m2 0h1m3 0h7m3 0h3m1 0h1m2 0h2m2 0h1m8 0h1m6 0h1m2 0h1m1 0h1m23 0h1m5 0h1m27 0h1M502 682h1m3 0h16m1 0h6m2 0h20m1 0h16m1 0h35m1 0h2m1 0h7m2 0h2m1 0h1m1 0h1m4 0h1m6 0h1m5 0h1m5 0h1m2 0h1M494 683h1m12 0h19m1 0h9m1 0h2m4 0h1m1 0h3m1 0h10m1 0h5m1 0h28m1 0h2m1 0h4m1 0h3m3 0h1m1 0h2m3 0h1m1 0h1m7 0h3m2 0h1m11 0h1m11 0h1M505 684h14m1 0h3m1 0h3m1 0h2m1 0h8m1 0h9m1 0h6m1 0h3m1 0h2m1 0h7m1 0h42m1 0h7m6 0h1m1 0h1m1 0h1m12 0h1m3 0h2m2 0h2m5 0h1M506 685h24m1 0h3m1 0h4m2 0h7m1 0h2m1 0h11m1 0h5m1 0h43m1 0h2m2 0h2m1 0h1m2 0h1m7 0h2m9 0h1m17 0h1m16 0h1M507 686h26m1 0h9m1 0h2m1 0h3m2 0h1m1 0h52m4 0h4m2 0h2m6 0h2m10 0h2m4 0h1m27 0h2m2 0h1m22 0h1M506 687h14m1 0h6m1 0h8m1 0h8m1 0h11m1 0h8m1 0h1m1 0h28m1 0h9m1 0h1m1 0h1m3 0h1m2 0h3m4 0h2m1 0h1m2 0h1m4 0h1m1 0h1m2 0h1m14 0h1m3 0h1m5 0h2m12 0h1m1 0h1m28 0h1M497 688h1m7 0h1m1 0h14m1 0h3m1 0h4m1 0h7m1 0h2m1 0h4m1 0h3m2 0h31m1 0h18m1 0h2m3 0h1m1 0h3m1 0h1m2 0h1m2 0h1m3 0h1m4 0h1m2 0h1m6 0h2m3 0h2m1 0h1m15 0h1m16 0h1m6 0h1M507 689h12m1 0h4m1 0h4m1 0h1m1 0h2m1 0h10m1 0h2m1 0h7m1 0h11m1 0h6m1 0h9m1 0h21m1 0h1m5 0h2m2 0h1m3 0h1m5 0h1m7 0h2m1 0h2m7 0h1m2 0h1m1 0h1m7 0h2m5 0h1m5 0h1M507 690h27m1 0h32m1 0h31m1 0h2m1 0h1m2 0h1m1 0h2m1 0h1m11 0h1m4 0h1m5 0h1m6 0h1m8 0h1m6 0h1m20 0h1m19 0h1M507 691h24m1 0h29m1 0h29m1 0h6m1 0h4m2 0h6m1 0h1m5 0h2m8 0h1m1 0h1m12 0h1m2 0h1m1 0h1m17 0h1M507 692h30m1 0h4m1 0h58m2 0h1m2 0h1m2 0h1m7 0h1m7 0h1m9 0h1m20 0h1m10 0h1m3 0h1m4 0h1m41 0h1M506 693h15m1 0h4m1 0h3m1 0h6m1 0h8m1 0h48m1 0h4m1 0h5m10 0h4m8 0h1m2 0h1m6 0h1m4 0h1m7 0h2m2 0h1m4 0h1m10 0h1m7 0h1M506 694h1m1 0h15m1 0h20m3 0h2m1 0h21m1 0h25m1 0h5m2 0h1m7 0h1m2 0h1m2 0h1m1 0h1m2 0h2m7 0h1m6 0h1m2 0h1m7 0h1m5 0h1m7 0h1M508 695h22m1 0h2m1 0h12m1 0h1m1 0h8m1 0h5m1 0h1m2 0h12m1 0h3m1 0h4m1 0h5m1 0h1m1 0h1m1 0h3m1 0h1m2 0h1m1 0h1m3 0h1m2 0h1m21 0h1m3 0h1m2 0h1m10 0h1m4 0h1M508 696h13m1 0h1m2 0h6m2 0h3m2 0h16m1 0h8m1 0h2m1 0h8m1 0h4m1 0h11m1 0h1m1 0h1m2 0h1m1 0h3m1 0h2m3 0h1m1 0h2m14 0h1m2 0h1m36 0h3M507 697h14m2 0h1m1 0h8m1 0h11m1 0h5m1 0h2m1 0h3m1 0h13m1 0h21m1 0h3m3 0h3m2 0h2m2 0h3m3 0h1m7 0h3m2 0h2m17 0h1M505 698h2m1 0h34m2 0h1m1 0h12m1 0h2m1 0h8m1 0h3m1 0h13m1 0h2m1 0h1m3 0h3m1 0h1m2 0h1m3 0h2m2 0h1m3 0h1m4 0h1m8 0h1m1 0h1m2 0h1m1 0h1M508 699h13m1 0h7m1 0h1m1 0h9m1 0h2m1 0h4m1 0h24m1 0h5m1 0h4m1 0h3m1 0h2m2 0h3m4 0h2m2 0h1m3 0h2m1 0h1m1 0h2m1 0h4m4 0h1m1 0h1m1 0h2M505 700h1m1 0h16m1 0h2m1 0h7m2 0h2m1 0h33m1 0h9m1 0h1m2 0h2m1 0h1m1 0h2m5 0h1m1 0h3m1 0h2m1 0h1m4 0h1m3 0h2m2 0h1m3 0h1m1 0h1m1 0h1m12 0h3m11 0h2m8 0h1m3 0h1M508 701h11m1 0h7m1 0h11m1 0h8m1 0h1m1 0h16m1 0h3m1 0h21m1 0h1m1 0h1m1 0h1m1 0h1m3 0h1m3 0h2m3 0h1m7 0h1m2 0h3m36 0h1m21 0h1M508 702h11m1 0h15m1 0h3m1 0h15m1 0h8m3 0h22m3 0h1m1 0h1m2 0h1m5 0h1m4 0h3m1 0h1m12 0h1m3 0h1m15 0h1m5 0h1m29 0h1M508 703h11m2 0h4m1 0h6m1 0h5m1 0h2m1 0h17m1 0h24m3 0h3m2 0h4m4 0h1m4 0h1m8 0h2m8 0h1m6 0h1m5 0h1m1 0h1m2 0h1m2 0h2m1 0h1m27 0h1m5 0h1m23 0h1M508 704h13m1 0h9m1 0h10m1 0h5m1 0h7m2 0h15m2 0h6m2 0h3m1 0h1m1 0h3m2 0h2m5 0h3m2 0h1m2 0h1m7 0h1m1 0h1m11 0h1m12 0h1m25 0h1m45 0h1m1 0h1M506 705h16m2 0h3m1 0h5m1 0h1m1 0h4m1 0h7m1 0h1m1 0h1m2 0h12m1 0h16m1 0h1m1 0h2m4 0h2m1 0h1m2 0h2m2 0h1m4 0h1m5 0h1m3 0h2m7 0h1m3 0h2m4 0h1m29 0h1m1 0h1M508 706h12m1 0h3m1 0h1m1 0h7m2 0h7m1 0h2m1 0h3m1 0h1m1 0h1m1 0h8m1 0h18m1 0h2m1 0h1m1 0h5m5 0h2m5 0h1m1 0h2m3 0h1m1 0h1m22 0h1m25 0h1M507 707h18m1 0h1m2 0h3m1 0h9m2 0h2m1 0h2m1 0h5m1 0h3m1 0h4m1 0h2m1 0h1m1 0h4m1 0h1m4 0h2m3 0h3m4 0h6m8 0h1m5 0h1m3 0h1m1 0h2m8 0h1m35 0h1M505 708h1m2 0h16m1 0h3m1 0h2m1 0h6m1 0h2m1 0h9m1 0h3m2 0h6m2 0h4m1 0h9m1 0h4m1 0h2m3 0h1m1 0h3m2 0h1m1 0h1m4 0h1m15 0h1m13 0h2m12 0h1m15 0h1M507 709h16m1 0h3m1 0h3m1 0h13m1 0h1m1 0h5m1 0h14m1 0h3m2 0h4m1 0h2m1 0h2m2 0h1m8 0h1m2 0h1m9 0h1m2 0h1m7 0h1m29 0h1m3 0h1m33 0h1m12 0h1M508 710h23m1 0h1m1 0h1m1 0h11m1 0h1m1 0h5m1 0h11m1 0h10m4 0h3m1 0h2m2 0h1m3 0h1m10 0h1m1 0h2m8 0h1m4 0h2m18 0h1m2 0h1m11 0h1m11 0h1m34 0h1M507 711h17m1 0h3m1 0h7m2 0h5m1 0h1m1 0h10m1 0h11m1 0h4m1 0h1m1 0h2m1 0h1m3 0h1m1 0h1m1 0h1m2 0h2m4 0h2m2 0h1m1 0h1m2 0h1m4 0h1m24 0h2m1 0h1m3 0h1m2 0h1m13 0h1M506 712h1m1 0h12m1 0h5m1 0h8m1 0h10m1 0h16m1 0h10m2 0h2m1 0h1m1 0h2m3 0h1m9 0h3m7 0h2m1 0h1m3 0h1m8 0h1M507 713h19m1 0h1m1 0h1m1 0h9m1 0h1m1 0h12m1 0h1m1 0h2m1 0h4m2 0h2m1 0h6m1 0h4m2 0h2m3 0h2m12 0h1m4 0h1m1 0h1m2 0h2m1 0h1m13 0h1m1 0h1m7 0h1m18 0h1M507 714h14m2 0h5m1 0h1m1 0h15m2 0h14m1 0h4m1 0h4m2 0h2m1 0h1m2 0h3m9 0h1m5 0h1m2 0h1m26 0h1m12 0h1m4 0h1m22 0h1m22 0h1M506 715h1m1 0h12m1 0h3m1 0h1m1 0h1m1 0h1m2 0h5m1 0h2m1 0h1m1 0h1m1 0h1m2 0h5m1 0h7m1 0h3m1 0h6m2 0h1m1 0h1m2 0h1m1 0h1m1 0h1m11 0h1m1 0h2m3 0h1m10 0h1m24 0h1m4 0h1m24 0h1m17 0h1M508 716h12m1 0h6m1 0h3m1 0h1m1 0h7m4 0h9m1 0h13m2 0h3m1 0h2m1 0h1m8 0h1m4 0h1m1 0h4m2 0h1m19 0h1m6 0h1m12 0h1m13 0h1m1 0h1m7 0h1M508 717h13m1 0h1m1 0h13m3 0h3m1 0h18m2 0h7m1 0h1m1 0h3m3 0h1m3 0h1m2 0h1m11 0h1m4 0h1m2 0h1m3 0h1m2 0h1m3 0h1m31 0h1m3 0h1M508 718h19m1 0h1m2 0h7m1 0h5m2 0h1m1 0h2m1 0h6m1 0h5m1 0h5m2 0h1m1 0h4m4 0h1m4 0h1m1 0h1m3 0h1m6 0h1m1 0h1m7 0h1m1 0h1m2 0h1m7 0h2m12 0h1m2 0h1m2 0h1m1 0h1m26 0h1M508 719h12m2 0h5m1 0h5m1 0h2m2 0h4m1 0h4m1 0h1m1 0h1m2 0h10m2 0h4m1 0h5m2 0h2m2 0h2m1 0h2m3 0h1m1 0h1m1 0h1m4 0h1m14 0h2m3 0h1m5 0h1m1 0h1m17 0h1m3 0h1m27 0h1M507 720h1m1 0h11m2 0h4m1 0h12m1 0h1m1 0h7m1 0h3m2 0h6m1 0h3m1 0h1m2 0h2m3 0h4m2 0h1m12 0h1m1 0h1m13 0h1m7 0h1m11 0h2m12 0h1m8 0h1m8 0h1m3 0h1m36 0h1M508 721h18m1 0h4m1 0h3m1 0h5m1 0h10m1 0h1m1 0h2m1 0h1m2 0h1m1 0h1m2 0h1m4 0h3m3 0h3m3 0h2m2 0h1m9 0h2m1 0h1m10 0h1m13 0h1M506 722h1m1 0h13m1 0h6m1 0h17m1 0h1m1 0h8m2 0h2m2 0h3m3 0h1m1 0h1m4 0h1m1 0h1m5 0h2m11 0h1m2 0h1m2 0h1m11 0h1m5 0h1m8 0h1m21 0h1m10 0h1m10 0h1M509 723h11m1 0h1m1 0h1m1 0h4m1 0h2m1 0h2m1 0h2m1 0h4m1 0h5m1 0h4m1 0h8m1 0h1m1 0h9m2 0h1m31 0h1m34 0h1m9 0h1m23 0h1M509 724h15m1 0h5m1 0h16m1 0h1m1 0h4m1 0h3m1 0h4m2 0h1m1 0h3m4 0h1m9 0h1m1 0h3m4 0h1m4 0h1m21 0h1m2 0h1M508 725h12m5 0h3m1 0h6m1 0h4m1 0h1m1 0h3m2 0h4m1 0h8m1 0h3m3 0h1m10 0h1m1 0h1m3 0h1m4 0h1m9 0h1m9 0h1m5 0h1m5 0h1m5 0h1m21 0h2m13 0h1m10 0h1m20 0h1M508 726h13m1 0h1m1 0h7m2 0h3m1 0h3m2 0h3m1 0h2m1 0h2m1 0h1m1 0h2m1 0h1m1 0h4m2 0h3m4 0h1m6 0h1m3 0h2m1 0h1m1 0h1m17 0h1m8 0h1m8 0h1m44 0h1m26 0h1M509 727h11m1 0h1m3 0h1m1 0h1m1 0h7m2 0h8m1 0h2m1 0h9m1 0h2m6 0h2m4 0h1m11 0h1m1 0h1m2 0h1m3 0h1m70 0h1M506 728h15m4 0h12m1 0h7m1 0h5m1 0h5m3 0h1m4 0h1m5 0h1m2 0h1m7 0h1m13 0h1m12 0h1M508 729h12m2 0h1m1 0h2m1 0h2m1 0h4m2 0h1m1 0h13m1 0h1m1 0h1m1 0h1m5 0h1m1 0h1m1 0h1m1 0h1m2 0h1m1 0h2m5 0h1m1 0h2m3 0h2m11 0h1m2 0h1m7 0h2m19 0h1m5 0h1m11 0h1m30 0h1M509 730h11m1 0h3m1 0h3m1 0h3m1 0h2m2 0h6m1 0h5m3 0h1m1 0h2m3 0h1m5 0h4m1 0h3m3 0h1m2 0h1m5 0h1m5 0h2m4 0h1m33 0h1m32 0h1M509 731h10m2 0h6m1 0h10m1 0h6m1 0h3m1 0h4m2 0h3m7 0h2m3 0h1m3 0h1m1 0h1m2 0h2m4 0h1m10 0h1m4 0h1m8 0h1m7 0h2m3 0h1m29 0h1M508 732h11m2 0h1m1 0h7m2 0h6m1 0h2m1 0h11m1 0h1m8 0h1m1 0h2m7 0h1m4 0h1m2 0h2m1 0h1m14 0h1m13 0h1m7 0h1m2 0h1m2 0h1m7 0h1m48 0h1M506 733h1m1 0h21m1 0h2m1 0h1m1 0h1m1 0h3m1 0h1m1 0h1m1 0h2m1 0h5m1 0h2m1 0h4m3 0h2m6 0h1m31 0h1m5 0h1m8 0h1m5 0h1m56 0h1m1 0h1M506 734h1m2 0h14m1 0h7m2 0h1m1 0h2m1 0h1m1 0h2m1 0h2m2 0h3m2 0h5m6 0h1m2 0h2m1 0h4m1 0h1m9 0h1m1 0h1m8 0h1m9 0h1m7 0h1m6 0h1m2 0h1m25 0h1m1 0h1m13 0h1M506 735h13m1 0h13m1 0h1m1 0h1m1 0h7m1 0h1m2 0h3m1 0h3m2 0h1m1 0h2m4 0h2m5 0h1m5 0h2m2 0h1m5 0h1m2 0h2m6 0h1m2 0h1m42 0h2m12 0h1m9 0h1M507 736h14m3 0h6m1 0h1m1 0h1m1 0h3m1 0h5m3 0h2m1 0h3m3 0h2m2 0h1m2 0h2m1 0h1m2 0h1m13 0h2m3 0h1m2 0h1m1 0h1m23 0h1m14 0h1m28 0h1M509 737h12m3 0h2m1 0h1m1 0h2m2 0h5m2 0h1m1 0h4m1 0h2m2 0h5m1 0h2m5 0h5m2 0h1m5 0h1m1 0h1m12 0h1m9 0h1m1 0h1m7 0h1m5 0h1m8 0h1m33 0h1m13 0h1M509 738h10m2 0h2m2 0h1m1 0h1m1 0h1m1 0h3m2 0h3m3 0h2m1 0h1m3 0h1m1 0h1m2 0h2m1 0h2m10 0h3m1 0h1m3 0h1m1 0h1m6 0h1m1 0h1m10 0h1m21 0h1m38 0h1m7 0h1M507 739h1m1 0h12m1 0h3m1 0h5m1 0h1m1 0h11m3 0h1m3 0h6m5 0h4m47 0h2m6 0h1m4 0h1m9 0h1m4 0h1m7 0h1m4 0h1M506 740h15m1 0h2m1 0h2m2 0h1m2 0h5m1 0h3m3 0h4m1 0h1m3 0h1m1 0h2m1 0h1m5 0h1m5 0h3m8 0h1m3 0h1m11 0h1m1 0h1m5 0h1m14 0h1m3 0h1m12 0h1m18 0h1m18 0h1m17 0h1M508 741h12m1 0h8m1 0h1m1 0h1m1 0h2m1 0h4m1 0h1m3 0h1m1 0h2m1 0h1m2 0h4m2 0h1m3 0h2m26 0h1m8 0h1m7 0h1m14 0h1M508 742h12m3 0h7m1 0h8m2 0h1m2 0h1m1 0h1m3 0h3m1 0h1m3 0h2m3 0h1m6 0h1m2 0h1m4 0h1m13 0h2m6 0h1m8 0h2m28 0h1M506 743h1m1 0h20m1 0h2m1 0h2m1 0h1m1 0h3m1 0h7m2 0h1m1 0h1m2 0h1m2 0h1m4 0h1m7 0h1m11 0h2m10 0h1m10 0h1m4 0h1m27 0h1m20 0h1m3 0h1M508 744h30m1 0h2m1 0h1m1 0h2m2 0h2m1 0h1m6 0h1m10 0h2m7 0h2m20 0h1m30 0h1m23 0h1M507 745h13m1 0h4m1 0h5m1 0h1m2 0h1m3 0h2m1 0h1m2 0h2m3 0h1m3 0h1m2 0h1m1 0h1m2 0h1m9 0h1m5 0h1m1 0h1m10 0h2m1 0h1m7 0h3M506 746h1m1 0h12m2 0h1m1 0h1m3 0h1m1 0h3m1 0h2m1 0h4m2 0h3m1 0h1m1 0h1m3 0h3m15 0h1m8 0h1m1 0h1m3 0h1m5 0h1m5 0h1m4 0h1m31 0h1m37 0h1m36 0h1M507 747h14m2 0h6m2 0h1m1 0h6m2 0h2m1 0h2m1 0h2m4 0h1m10 0h1m5 0h1m4 0h1m4 0h1m2 0h1m19 0h1m11 0h1m24 0h1m6 0h1m20 0h1M507 748h12m2 0h1m1 0h1m1 0h1m1 0h1m1 0h1m2 0h1m2 0h1m1 0h2m4 0h1m2 0h1m2 0h2m6 0h1m1 0h1m22 0h1m2 0h1m18 0h1m29 0h1M505 749h1m2 0h11m1 0h1m2 0h5m1 0h1m2 0h6m1 0h1m1 0h3m1 0h1m4 0h1m6 0h1m2 0h1m4 0h1m11 0h1m12 0h1m9 0h1m12 0h1m64 0h1M506 750h1m1 0h12m1 0h2m2 0h7m1 0h1m1 0h6m1 0h2m3 0h2m8 0h1m4 0h1m16 0h1m1 0h1m5 0h1m4 0h1m8 0h1m33 0h1m7 0h1M505 751h1m2 0h12m1 0h1m6 0h2m1 0h2m2 0h1m2 0h1m1 0h1m2 0h2m3 0h1m1 0h2m4 0h2m3 0h1m2 0h1m1 0h1m2 0h1m15 0h1m36 0h1m46 0h1M507 752h17m2 0h3m1 0h5m1 0h1m1 0h1m1 0h1m1 0h1m2 0h3m3 0h4m3 0h1m5 0h2m6 0h1m15 0h1m1 0h1m12 0h1m14 0h1m28 0h1m31 0h1M507 753h12m1 0h1m1 0h2m1 0h5m1 0h3m1 0h1m3 0h1m3 0h1m1 0h1m1 0h1m1 0h1m4 0h1m4 0h2m8 0h1m2 0h1m5 0h2m6 0h1m3 0h2m42 0h1m6 0h1M506 754h13m1 0h1m2 0h2m3 0h4m1 0h1m2 0h4m5 0h1m4 0h3m4 0h2m1 0h3m5 0h1m5 0h1m5 0h1m13 0h1m3 0h1m1 0h1m9 0h1m34 0h1m28 0h1M506 755h13m1 0h2m1 0h5m4 0h3m2 0h1m1 0h1m3 0h1m1 0h1m3 0h1m10 0h1m3 0h1m5 0h1m8 0h2m13 0h1m13 0h1m27 0h1m25 0h1M506 756h1m1 0h17m4 0h1m5 0h4m2 0h1m2 0h2m2 0h3m1 0h1m10 0h1m14 0h1m7 0h1m2 0h1m3 0h1m6 0h1m26 0h1m10 0h1m48 0h1M506 757h15m3 0h4m1 0h1m1 0h1m3 0h3m2 0h1m7 0h1m1 0h1m10 0h2m7 0h1m7 0h1m7 0h1m2 0h1m12 0h1m26 0h1m11 0h1M508 758h19m1 0h4m1 0h5m2 0h1m13 0h1m4 0h2m3 0h3m3 0h1m2 0h1m10 0h1m11 0h1m9 0h1m32 0h1m9 0h1M508 759h14m2 0h2m1 0h1m4 0h1m1 0h3m2 0h1m1 0h1m1 0h4m2 0h2m3 0h3m2 0h2m13 0h1m10 0h1m10 0h1m3 0h1m68 0h1M507 760h17m2 0h1m3 0h1m1 0h3m2 0h2m1 0h1m1 0h1m1 0h2m1 0h1m1 0h2m4 0h3m4 0h2m26 0h1M506 761h13m3 0h2m1 0h5m1 0h1m3 0h3m2 0h1m3 0h1m1 0h3m7 0h2m4 0h1m6 0h1m5 0h1m2 0h1m13 0h1m11 0h1m52 0h1m18 0h1M506 762h13m4 0h6m1 0h2m2 0h1m5 0h1m2 0h3m7 0h1m7 0h1m6 0h1m2 0h1m15 0h1m98 0h1M508 763h11m1 0h2m2 0h2m2 0h7m1 0h2m3 0h1m7 0h1m3 0h1m1 0h1m7 0h1m2 0h1m1 0h1m13 0h2m16 0h1m8 0h1m1 0h2m14 0h1M508 764h11m1 0h3m4 0h2m1 0h1m1 0h1m1 0h1m3 0h1m2 0h1m5 0h2m2 0h2m2 0h1m2 0h1m2 0h1m5 0h1m7 0h1m7 0h1m12 0h1m4 0h2m23 0h2m38 0h1M505 765h1m2 0h11m1 0h2m1 0h2m1 0h8m1 0h3m10 0h2m1 0h1m5 0h1m10 0h1m6 0h1m8 0h1m31 0h1m49 0h2M505 766h2m1 0h11m1 0h1m3 0h2m1 0h2m1 0h1m1 0h2m5 0h2m2 0h2m2 0h2m2 0h2m6 0h3m7 0h1m11 0h1m8 0h1m15 0h1m26 0h1M508 767h11m1 0h2m3 0h2m1 0h2m1 0h2m1 0h2m2 0h1m3 0h1m3 0h1m5 0h2m4 0h1m5 0h2m1 0h1m22 0h1m10 0h1m7 0h1m6 0h2M507 768h12m5 0h2m1 0h1m1 0h2m2 0h1m1 0h1m2 0h1m5 0h3m2 0h1m2 0h1m2 0h1m3 0h3m5 0h1m10 0h1m10 0h1m1 0h1m24 0h1m17 0h1M508 769h12m2 0h2m3 0h2m1 0h2m2 0h1m1 0h2m2 0h1m2 0h1m4 0h2m1 0h1m2 0h2m2 0h1m2 0h1m10 0h1m4 0h1m4 0h1m2 0h1m1 0h1m5 0h1m29 0h1m17 0h1m55 0h1" stroke="#000" stroke-width="1" fill="none" shape-rendering="crispEdges"/>
<rect x="477.5" y="607.5" width="249" height="162" fill="none" stroke="#262626" stroke-width="1"/>
<path d="M529.5 608v2M529.5 769v-1.2M585.5 608v2M585.5 769v-1.2M641.5 608v2M641.5 769v-1.2M696.5 608v2M696.5 769v-1.2M478 639.5h2M726 639.5h-1.2M478 672.5h2M726 672.5h-1.2M478 704.5h2M726 704.5h-1.2M478 737.5h2M726 737.5h-1.2" stroke="#262626" stroke-width="1" fill="none"/>
<text transform="translate(462.68 613.00)" font-size="15.27" fill="#262626">0</text>
<text transform="translate(453.16 645.00)" font-size="15.27" fill="#262626" letter-spacing="1.157">50</text>
<text transform="translate(443.55 677.00)" font-size="15.27" fill="#262626" letter-spacing="1.134">100</text>
<text transform="translate(443.55 710.00)" font-size="15.27" fill="#262626" letter-spacing="1.134">150</text>
<text transform="translate(443.40 742.00)" font-size="15.27" fill="#262626" letter-spacing="1.211">200</text>
<text transform="translate(443.40 775.00)" font-size="15.27" fill="#262626" letter-spacing="1.211">250</text>
<text transform="translate(524.98 598.00)" font-size="15.27" fill="#262626">1</text>
<text transform="translate(580.75 598.00)" font-size="15.27" fill="#262626">2</text>
<text transform="translate(636.87 598.00)" font-size="15.27" fill="#262626">3</text>
<text transform="translate(692.75 598.00)" font-size="15.27" fill="#262626">4</text>
<text transform="translate(484.99 579.00) scale(1.05 1)" font-size="17.00" fill="#262626" letter-spacing="0.479">Biolume log10(photons/sec)</text>
</g>
<g id="p9">
<path transform="translate(0,.5)" d="M870 708h1" stroke="#000" stroke-width="1" fill="none" shape-rendering="crispEdges"/>
<rect x="804.5" y="607.5" width="249" height="162" fill="none" stroke="#262626" stroke-width="1"/>
<path d="M866.5 608v2M866.5 769v-1.2M928.5 608v2M928.5 769v-1.2M991.5 608v2M991.5 769v-1.2M805 639.5h2M1053 639.5h-1.2M805 672.5h2M1053 672.5h-1.2M805 704.5h2M1053 704.5h-1.2M805 737.5h2M1053 737.5h-1.2" stroke="#262626" stroke-width="1" fill="none"/>
<text transform="translate(789.68 613.00)" font-size="15.27" fill="#262626">0</text>
<text transform="translate(780.16 645.00)" font-size="15.27" fill="#262626" letter-spacing="1.157">50</text>
<text transform="translate(770.55 677.00)" font-size="15.27" fill="#262626" letter-spacing="1.134">100</text>
<text transform="translate(770.55 710.00)" font-size="15.27" fill="#262626" letter-spacing="1.134">150</text>
<text transform="translate(770.40 742.00)" font-size="15.27" fill="#262626" letter-spacing="1.211">200</text>
<text transform="translate(770.40 775.00)" font-size="15.27" fill="#262626" letter-spacing="1.211">250</text>
<text transform="translate(797.08 598.00)" font-size="15.27" fill="#262626" letter-spacing="0.686">-1</text>
<text transform="translate(852.17 598.00)" font-size="15.27" fill="#262626" letter-spacing="0.744">-0.5</text>
<text transform="translate(924.75 598.00)" font-size="15.27" fill="#262626">0</text>
<text transform="translate(979.71 598.00)" font-size="15.27" fill="#262626" letter-spacing="0.783">0.5</text>
<text transform="translate(1049.18 598.00)" font-size="15.27" fill="#262626">1</text>
<text transform="translate(880.76 579.00) scale(1.05 1)" font-size="16.80" fill="#262626" letter-spacing="0.279">Flow (Volts)</text>
</g>
<path d="M929.5 608V769" stroke="#a6a6a6" stroke-width="1" fill="none"/>
<rect x="870" y="725" width="1" height="1" fill="#bbb"/>
<text transform="translate(896.93 713.00) scale(1.05 1)" font-size="14.00" fill="#000" letter-spacing="-0.515">CTD1</text>
<text transform="translate(896.93 730.40) scale(1.05 1)" font-size="14.00" fill="#000" letter-spacing="-0.542">CTD2</text>
<text transform="translate(355.10 853.60) scale(1.05 1)" font-size="20.36" fill="#000" letter-spacing="1.090" font-weight="bold">Survey Dorado389_2009_125_00_125_00</text>
</svg>
</body></html>
